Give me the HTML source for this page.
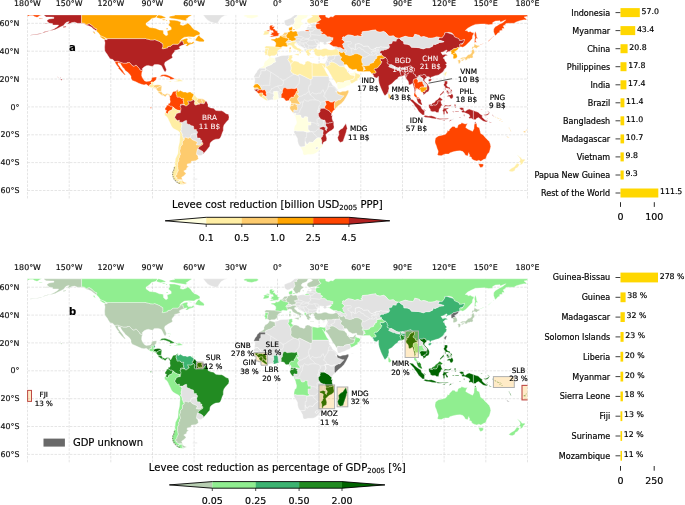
<!DOCTYPE html><html><head><meta charset="utf-8"><title>Levee cost reduction</title>
<style>html,body{margin:0;padding:0;background:#fff}svg{display:block}text{font-family:"DejaVu Sans","Liberation Sans",sans-serif}</style></head><body>
<svg width="685" height="505" viewBox="0 0 685 505">
<rect width="685" height="505" fill="#fff"/>
<defs><clipPath id="clipb"><rect x="27.5" y="278.8" width="500.0" height="183.9"/></clipPath></defs>
<g id="map-a">
<path d="M27.5,14.9V198.9M69.2,14.9V198.9M110.8,14.9V198.9M152.5,14.9V198.9M194.1,14.9V198.9M235.8,14.9V198.9M277.5,14.9V198.9M319.1,14.9V198.9M360.8,14.9V198.9M402.5,14.9V198.9M444.1,14.9V198.9M485.8,14.9V198.9M527.5,14.9V198.9M27.5,190.5H527.5M27.5,162.6H527.5M27.5,134.8H527.5M27.5,106.9H527.5M27.5,79.0H527.5M27.5,51.2H527.5M27.5,23.3H527.5" fill="none" stroke="#b4b4b4" stroke-opacity="0.55" stroke-width="0.65" stroke-dasharray="2.6,1.25"/>
<path d="M344.8,65.1 344.1,65.8 344.4,66.2 344.8,67.1 344.7,67.1 343.7,67.1 343.4,66.5 342.1,66.4 339.5,66.2 335.9,63.6 333.6,62.4 331.9,62.1 328.9,63.0 330.2,64.4 329.6,65.1 328.5,65.3 327.5,66.2 326.1,66.0 326.1,65.8 325.9,65.9 325.9,65.8 325.1,63.4 325.0,63.3 325.4,62.9 326.1,61.2 326.8,59.8 327.3,58.8 327.2,58.1 327.3,56.8 327.4,56.9 327.7,57.0 328.3,56.5 328.4,55.6 329.0,55.8 331.5,55.8 334.0,55.2 336.3,55.2 337.9,55.0 339.7,55.1 340.5,56.7 341.8,57.0 340.9,58.8 340.5,59.6 341.5,60.8 343.9,62.6 343.7,63.7 344.8,65.1ZM348.0,71.4 348.7,70.5 349.0,71.4 349.0,73.0 348.6,72.6 348.0,72.4 347.8,71.8ZM329.1,78.3 329.4,80.7 330.9,81.8 332.0,83.9 332.7,85.3 334.4,86.3 336.5,88.4 337.6,89.5 337.5,90.3 337.7,90.9 337.5,90.9 336.9,91.7 337.2,93.5 338.6,94.4 342.7,95.8 344.1,95.8 340.0,100.0 338.2,100.1 337.0,100.9 335.7,101.4 334.1,101.0 332.3,102.1 330.4,101.9 328.7,100.7 327.3,100.5 324.7,101.0 325.2,101.7 326.1,104.3 325.4,105.4 324.6,106.8 324.6,108.3 320.3,108.4 320.3,110.1 319.8,110.2 320.2,111.5 319.1,112.9 318.3,113.1 318.6,116.0 320.2,118.3 320.5,118.9 323.2,120.0 324.6,120.1 325.1,120.4 325.5,122.2 326.0,123.0 325.7,124.5 325.9,125.7 327.2,127.2 327.3,128.4 326.5,129.5 326.5,130.8 326.2,130.4 325.2,129.6 325.1,128.9 325.5,128.2 325.4,127.0 324.1,127.2 323.6,126.4 319.4,127.7 319.7,128.6 319.7,129.2 320.9,129.2 323.2,130.2 323.3,131.1 322.9,133.2 323.3,134.5 322.6,135.6 322.5,136.6 320.9,138.1 318.2,137.8 316.8,138.4 314.8,139.9 312.9,142.6 309.7,142.2 309.0,142.4 307.6,144.3 306.4,144.2 305.2,141.4 305.2,146.5 301.6,146.9 300.4,146.8 300.4,146.7 299.4,145.9 298.3,143.8 297.6,141.0 297.6,138.7 296.2,136.2 295.2,134.5 293.9,132.3 293.9,130.9 295.5,130.6 296.9,131.1 303.2,131.1 307.2,132.0 310.0,131.4 308.0,129.5 308.0,125.0 310.8,125.0 310.8,122.1 308.3,122.4 307.7,120.1 307.7,117.1 305.7,116.7 304.6,116.7 304.4,118.0 301.8,118.2 300.9,116.8 300.5,115.1 295.8,115.1 294.6,115.3 294.6,115.3 294.4,114.9 295.2,115.0 295.7,113.3 294.8,113.3 294.0,113.8 292.8,112.4 292.9,112.4 294.0,111.6 293.6,110.2 294.8,109.8 295.5,110.2 297.3,110.1 297.5,109.5 297.6,107.6 296.8,106.6 297.6,105.8 297.3,105.0 295.8,105.1 295.9,103.8 297.6,104.0 299.8,104.5 300.0,103.8 299.8,102.9 298.3,101.0 297.6,99.5 297.7,98.3 299.0,96.5 298.9,96.3 296.8,93.5 297.2,93.0 299.0,93.0 298.4,91.8 298.3,90.0 297.6,89.1 297.1,88.6 296.4,87.8 295.7,88.2 295.5,88.1 295.2,88.5 294.8,88.7 291.4,88.4 289.3,88.7 287.1,88.8 285.1,87.6 283.3,88.1 283.2,88.9 282.5,90.6 282.5,92.7 281.2,94.4 281.3,96.0 281.2,98.1 281.2,98.1 280.9,98.1 279.1,98.6 279.1,98.4 278.4,97.7 278.2,96.6 278.2,95.3 278.0,93.7 277.7,92.4 277.3,91.4 273.6,91.6 273.7,93.7 274.0,95.5 273.0,97.4 273.7,99.1 273.2,99.8 271.2,99.7 269.1,100.2 267.0,100.8 267.1,98.8 265.7,97.8 265.7,96.4 265.9,96.3 266.8,95.2 265.9,93.7 266.4,92.7 265.9,92.3 265.9,91.5 264.6,89.5 262.6,90.3 261.6,89.6 261.6,88.9 260.5,86.8 260.5,86.3 259.7,85.7 258.7,84.5 257.5,83.7 255.9,83.8 254.6,84.5 254.5,84.5 254.6,84.3 254.6,81.8 255.0,80.0 254.6,78.3 253.9,77.6 253.9,77.6 254.0,77.2 259.4,77.2 259.4,74.9 260.8,74.2 260.8,70.7 265.4,70.7 265.4,68.3 265.5,66.9 268.4,65.7 270.2,65.1 272.5,63.8 273.3,62.7 275.8,61.8 275.1,60.5 275.0,58.8 274.4,58.0 275.8,57.4 277.5,57.0 280.2,55.9 283.0,55.5 285.8,55.5 287.9,55.3 289.4,55.2 289.4,55.4 288.9,56.0 289.0,57.7 287.9,59.4 289.0,61.6 290.0,62.2 290.7,64.8 291.2,67.5 291.1,70.0 290.5,70.5 291.7,72.6 294.1,74.1 296.2,74.7 297.2,75.4 298.3,74.9 299.7,74.2 310.8,79.7 310.8,79.0 312.2,79.0 312.2,76.2 328.9,76.2ZM303.2,47.8 301.8,47.0 300.4,46.3 298.6,45.3 297.6,43.9 296.4,44.2 296.4,43.6 296.7,43.4 296.4,43.0 296.1,42.5 296.5,42.1 294.7,41.8 294.4,41.3 292.7,41.8 292.0,41.6 291.5,42.0 290.4,42.1 290.0,43.0 289.2,42.2 288.4,42.9 287.3,42.9 286.9,42.3 285.8,42.6 285.9,42.3 287.2,40.8 288.0,40.6 289.4,40.3 290.7,40.6 291.6,41.0 292.7,40.9 294.4,40.4 295.5,40.7 295.2,39.9 296.6,39.0 294.8,37.7 294.3,36.8 295.5,36.6 297.3,35.8 298.0,36.1 298.3,35.4 297.7,34.3 297.1,33.3 297.3,31.8 297.3,31.8 300.4,31.0 303.2,30.7 304.6,31.1 304.7,31.0 304.7,31.0 309.1,31.2 309.1,30.2 307.1,29.9 306.8,29.9 306.6,28.5 307.3,26.9 308.9,26.5 309.8,27.5 311.2,27.1 311.5,25.7 310.1,25.3 310.1,24.3 313.6,23.9 316.4,24.0 316.4,24.0 316.4,24.1 315.5,25.0 315.7,25.8 315.9,26.3 315.5,26.7 316.1,27.1 316.0,27.6 316.6,28.2 316.6,28.7 318.3,29.2 320.5,29.4 320.2,30.5 321.6,31.7 322.9,32.4 322.3,32.8 321.1,32.8 321.6,34.3 324.4,34.0 325.2,34.8 326.6,35.8 326.9,36.7 329.6,36.8 331.5,37.4 333.2,37.8 332.7,39.2 333.0,40.2 331.4,40.2 330.6,41.3 330.5,41.3 328.4,41.8 326.1,42.5 326.8,43.5 328.4,43.5 328.6,43.5 328.3,43.9 328.4,44.1 328.3,44.1 326.5,44.2 324.7,45.0 324.0,44.2 322.7,43.6 324.0,42.7 321.9,42.3 320.2,42.1 318.7,43.5 317.3,44.9 317.2,46.3 316.2,47.3 316.3,48.4 315.7,48.3 314.1,48.8 312.6,49.4 311.5,49.0 309.3,49.3 308.0,49.6 306.6,50.0 305.9,49.4 306.1,48.4 304.4,48.5 304.1,48.4ZM346.2,50.1 347.2,50.8 345.9,51.9 345.4,53.3 345.4,53.3 345.4,53.3 344.1,52.8 344.6,52.0 344.1,51.6 342.1,52.7 340.6,52.6 339.7,51.6 338.2,50.9 337.8,49.6 336.6,49.0 335.2,49.1 335.1,49.0 335.2,47.7 333.3,46.5 336.5,46.7 338.3,47.5 340.2,47.4 341.9,48.5 342.2,48.7 343.9,49.5 345.0,48.6 345.0,48.6ZM351.8,52.6 351.1,51.2 352.2,49.8 350.8,49.1 350.7,48.6 352.5,48.0 354.4,49.4 355.2,49.4 355.2,44.2 358.9,43.4 362.2,45.0 363.6,46.3 367.6,46.0 369.3,47.0 369.1,47.8 369.8,48.5 371.9,49.8 372.0,50.1 373.3,49.2 375.0,48.4 376.0,48.0 376.4,47.3 379.5,47.8 379.5,47.0 380.7,46.7 382.7,47.1 387.2,47.3 388.9,48.3 385.8,49.7 384.3,49.8 383.6,50.6 381.5,50.5 380.0,51.7 379.7,52.0 380.1,53.3 381.5,53.4 381.5,55.0 380.9,55.1 381.2,55.1 380.9,55.3 378.3,55.6 376.4,56.7 377.0,57.5 376.2,59.0 374.5,59.5 375.1,60.4 374.0,60.9 373.7,62.5 371.6,63.2 369.7,63.8 369.5,65.2 366.6,65.8 364.3,65.9 362.0,65.3 363.3,63.9 362.0,63.0 361.6,60.8 361.6,59.1 362.5,57.3 362.3,55.9 361.3,55.8 359.8,54.7 357.1,53.7 355.7,53.8 354.4,54.0 353.6,54.8 352.3,54.9 352.1,54.6ZM322.3,58.1 323.3,57.7 325.5,57.3 324.7,58.1 323.3,58.7ZM309.8,26.1 308.0,26.1 308.0,25.3 309.8,25.3ZM505.2,134.9 507.5,136.5 506.9,136.9 505.2,135.5ZM159.4,86.6 159.8,86.4 160.6,86.3 159.0,86.8ZM354.8,76.2 354.2,75.6 354.8,75.6ZM363.0,66.6 364.7,67.5 364.7,68.9 365.4,69.0 365.2,69.8 363.6,70.3 363.6,67.9 362.0,65.3ZM446.8,32.5 449.1,32.3 451.9,33.0 453.2,34.2 453.4,34.7ZM462.7,43.2 463.9,41.4 463.4,42.4 462.9,43.2Z" fill="#e2e2e2" stroke="#fff" stroke-width="0.35" stroke-linejoin="round"/>
<path d="M146.1,38.9 148.3,39.2 150.4,39.9 153.2,40.0 154.7,39.6 159.7,41.6 160.1,42.1 161.5,42.8 161.5,43.1 162.9,43.8 163.0,47.0 162.1,48.4 162.9,48.8 167.8,47.7 167.8,46.6 170.8,46.2 171.5,45.3 173.3,44.2 178.2,44.2 179.8,42.4 181.4,40.9 183.0,41.0 183.3,43.1 184.4,44.5 181.6,45.6 179.6,46.6 179.3,47.7 180.3,48.8 177.5,49.8 174.7,50.5 174.7,51.6 172.6,54.0 171.9,55.3 172.6,57.7 171.2,58.6 169.1,59.7 167.1,60.9 165.0,62.3 164.4,64.4 165.5,67.2 166.4,69.6 165.9,71.6 164.7,71.8 163.6,70.0 162.6,67.9 161.5,65.8 160.1,65.1 158.0,64.5 155.3,64.5 153.9,64.8 153.2,66.2 151.1,66.2 148.3,65.4 146.2,65.8 144.1,66.9 142.3,68.6 142.5,70.8 140.0,70.1 139.3,68.6 136.5,65.4 135.1,65.4 134.1,66.5 132.3,65.7 129.6,62.6 127.2,62.6 127.2,63.3 123.3,63.3 118.2,61.6 118.2,61.3 114.7,61.6 112.9,59.5 110.0,58.8 108.2,56.0 107.3,54.4 105.5,52.1 104.8,50.8 104.6,47.0 105.0,42.8 104.3,39.5 104.7,39.5 107.3,39.7 106.6,38.7 106.6,38.6 145.3,38.6 145.3,38.1ZM186.4,46.1 185.5,46.0 185.8,45.7ZM35.8,34.3 41.4,33.3 41.4,33.8 35.8,34.7 30.3,35.3 30.3,34.9ZM93.2,32.2 92.8,31.5 94.4,31.7ZM66.0,26.1 66.1,26.9 63.6,27.8 62.9,26.8ZM89.4,23.7 92.1,25.4 94.4,27.9 96.9,28.9 96.9,30.0 96.2,30.8 96.2,30.8 95.5,30.3 93.5,28.9 91.4,27.1 88.6,25.8 86.5,25.3 83.7,23.6 81.0,23.3 77.5,23.3 74.7,22.2 71.9,22.6 69.8,23.6 67.1,24.3 69.2,21.6 66.4,22.2 64.6,24.0 63.6,25.4 60.8,26.8 58.0,28.2 55.3,29.6 52.5,30.3 48.6,30.8 48.3,31.2 44.2,32.4 42.8,33.2 42.8,32.8 44.2,31.8 48.3,30.7 50.1,30.3 51.1,30.0 53.9,28.9 57.3,26.8 58.7,25.1 56.7,25.0 52.8,25.1 52.5,23.6 49.7,23.3 47.6,21.9 46.9,20.5 49.0,19.1 53.9,18.4 53.9,17.2 51.1,17.0 46.2,16.9 44.2,15.5 44.2,14.9 81.6,14.9 81.6,22.9 84.3,23.2 86.5,24.8 87.9,24.0ZM45.1,23.0 47.2,22.9 47.2,23.6 45.1,23.6ZM41.6,19.1 42.0,18.6 43.0,18.7 42.1,19.1ZM62.2,79.5 61.5,80.6 60.8,79.7 60.8,78.8ZM60.4,78.2 59.8,77.6 60.8,77.8ZM57.6,76.8 58.5,76.9 58.0,77.4Z" fill="#b22222" stroke="#fff" stroke-width="0.35" stroke-linejoin="round"/>
<path d="M106.0,39.5 103.2,38.9 99.7,36.5 101.1,36.1 103.9,37.2 105.5,38.6ZM94.4,31.7 95.5,34.2 93.7,33.1 93.2,32.2 94.4,31.7ZM146.0,23.3 146.2,25.1 149.7,27.5 155.3,28.2 159.4,29.9 163.2,30.3 163.6,33.8 165.7,35.6 167.1,35.4 167.8,34.4 167.1,31.0 171.2,29.6 171.2,27.5 168.4,25.1 169.8,22.6 169.1,20.0 174.7,20.2 177.5,20.8 180.9,21.9 180.3,24.7 183.0,25.4 186.5,24.0 187.9,22.9 190.7,25.4 192.1,27.5 194.1,29.6 196.9,30.5 199.7,32.4 200.1,34.3 198.3,35.1 196.2,35.6 194.1,37.0 188.6,36.8 184.4,37.2 182.3,38.6 180.9,39.7 179.6,41.4 181.6,40.0 184.4,38.9 186.5,38.3 188.2,38.9 187.2,40.3 187.5,41.4 188.6,42.8 191.4,42.9 193.4,41.4 194.1,42.8 192.8,43.8 189.3,44.8 187.2,46.2 186.4,46.1 185.8,45.7 187.2,43.9 185.8,44.1 184.4,44.5 183.3,43.1 183.0,41.0 181.4,40.9 179.8,42.4 178.2,44.2 173.3,44.2 171.5,45.3 170.8,46.2 167.8,46.6 167.8,47.7 162.9,48.8 162.1,48.4 163.0,47.0 162.9,43.8 161.5,43.1 161.5,42.8 160.1,42.1 159.7,41.6 154.7,39.6 153.2,40.0 150.4,39.9 148.3,39.2 146.1,38.9 145.3,38.1 145.3,38.6 106.6,38.6 106.6,38.7 106.4,38.3 103.9,37.2 100.4,35.8 99.0,33.5 96.6,31.2 96.2,30.8 96.2,30.8 96.9,30.0 96.9,28.9 94.4,27.9 92.1,25.4 89.4,23.7 87.9,24.0 86.5,24.8 84.3,23.2 81.6,22.9 81.6,14.9 157.1,14.9 157.3,15.6 156.6,16.3 155.3,17.7 151.8,18.4 149.7,20.5ZM162.9,20.2 162.2,19.3 164.3,19.3 165.7,20.1ZM156.6,16.3 158.7,14.9 161.5,15.5 165.0,17.0 165.9,18.1 162.9,18.3 160.8,18.8 158.0,18.1 156.6,17.7ZM190.7,42.8 188.6,42.4 188.2,41.8 191.4,42.3ZM195.3,40.6 195.5,39.3 197.6,36.5 199.0,35.1 200.4,37.2 203.2,38.9 204.3,40.4 203.9,41.8 199.7,41.7ZM191.4,38.1 191.8,38.5 188.9,38.2 188.0,37.5ZM167.8,29.2 166.4,29.2 166.4,28.0 167.8,28.0ZM165.9,21.1 165.9,20.2 167.1,20.2 167.1,21.1ZM191.4,14.9 191.4,15.5 188.6,17.0 187.2,18.4 185.8,19.1 187.5,19.8 185.8,20.7 183.0,20.2 178.9,19.5 176.1,19.1 171.9,18.4 169.1,17.7 169.8,16.3 174.7,15.6 173.8,14.9Z" fill="#ffa500" stroke="#fff" stroke-width="0.35" stroke-linejoin="round"/>
<path d="M141.8,72.8 141.6,75.6 142.3,77.6 143.5,79.3 144.4,80.7 146.2,81.5 148.3,81.3 150.4,81.0 151.5,79.7 151.9,77.6 153.9,77.2 156.4,76.9 156.6,77.6 156.0,79.7 154.8,81.1 153.7,82.1 151.1,82.1 151.1,82.9 151.9,84.0 151.9,84.5 150.0,84.5 149.4,85.7 149.4,86.6 149.3,86.6 146.2,84.3 144.1,84.9 141.4,84.3 138.6,83.2 135.8,81.8 132.3,80.4 131.0,78.3 131.0,76.2 129.6,74.2 127.5,72.1 125.4,70.7 124.0,68.6 122.6,67.2 121.2,65.1 120.5,63.4 118.0,62.7 118.2,64.4 119.8,66.5 120.8,68.2 122.6,70.3 124.0,72.8 125.5,74.4 124.7,75.0 123.0,73.3 121.6,72.1 119.8,69.8 118.0,68.3 118.9,67.9 117.1,65.8 115.7,63.7 114.7,61.6 118.2,61.3 118.2,61.6 123.3,63.3 127.2,63.3 127.2,62.6 129.6,62.6 132.3,65.7 134.1,66.5 135.1,65.4 136.5,65.4 139.3,68.6 140.0,70.1 142.5,70.8Z" fill="#ff4500" stroke="#fff" stroke-width="0.35" stroke-linejoin="round"/>
<path d="M205.3,17.7 203.2,14.9 227.7,14.9 224.7,15.6 221.2,17.7 219.1,20.5 217.8,23.0 215.0,23.3 210.8,21.9 208.0,20.5Z" fill="#e2e2e2" stroke="#fff" stroke-width="0.35" stroke-linejoin="round"/>
<path d="M153.6,84.7 154.0,84.7 154.8,85.0 154.9,85.0 153.6,86.1 153.4,86.8 152.4,87.7 152.3,87.7 150.4,87.4 149.4,86.6 149.4,85.7 150.0,84.5 151.9,84.5 151.9,84.0 151.1,82.9 151.1,82.1 153.7,82.1Z" fill="#ffeea4" stroke="#fff" stroke-width="0.35" stroke-linejoin="round"/>
<path d="M155.1,82.5 154.0,84.7 153.6,84.7 153.7,82.1 154.8,81.1Z" fill="#ffffe0" stroke="#fff" stroke-width="0.35" stroke-linejoin="round"/>
<path d="M154.6,87.4 155.6,87.5 155.6,88.6 155.5,88.5 153.9,88.4 152.4,87.7 152.4,87.7 153.4,86.8 153.4,86.8Z" fill="#ffeea4" stroke="#fff" stroke-width="0.35" stroke-linejoin="round"/>
<path d="M158.0,84.7 160.1,84.9 161.9,86.0 161.9,86.0 159.8,86.4 159.4,86.6 158.0,87.4 156.9,87.7 157.1,88.4 156.2,88.9 155.8,88.9 155.5,88.5 155.6,88.6 155.6,87.5 154.6,87.4 153.4,86.8 153.4,86.8 153.6,86.1 154.9,85.0 154.8,85.0Z" fill="#fdcb6e" stroke="#fff" stroke-width="0.35" stroke-linejoin="round"/>
<path d="M161.5,88.8 161.2,91.6 161.3,91.7 161.3,91.7 159.8,91.5 159.6,91.6 158.4,91.5 158.1,91.6 157.3,90.5 156.0,89.1 155.8,88.9 156.2,88.9 157.1,88.4 156.9,87.7 158.0,87.4 159.0,86.8 160.6,86.3 161.9,86.0 161.9,86.0Z" fill="#fdcb6e" stroke="#fff" stroke-width="0.35" stroke-linejoin="round"/>
<path d="M162.8,93.5 162.8,93.6 162.8,93.6 162.3,94.2 162.3,95.4 162.3,95.6 161.2,94.9 159.8,93.5 158.4,93.1 158.3,91.9 158.1,91.6 158.4,91.5 159.6,91.6 159.8,91.5 161.3,91.7 161.3,91.7 161.2,91.6Z" fill="#fdcb6e" stroke="#fff" stroke-width="0.35" stroke-linejoin="round"/>
<path d="M165.0,94.6 166.9,93.5 169.1,93.9 170.0,94.8 170.3,95.9 169.8,96.3 168.9,95.8 168.4,94.4 166.8,94.8 165.7,96.7 164.3,96.3 163.6,95.5 162.3,95.6 162.3,95.6 162.3,95.4 162.3,94.2 162.8,93.6 162.8,93.6 162.8,93.5Z" fill="#fdcb6e" stroke="#fff" stroke-width="0.35" stroke-linejoin="round"/>
<path d="M165.7,76.7 163.6,76.1 161.5,76.4 159.6,76.5 161.9,74.7 165.0,74.4 167.3,75.1 170.1,76.2 172.6,77.5 174.6,78.6 173.3,79.3 169.6,79.5 170.0,78.3 168.3,77.6Z" fill="#ff4500" stroke="#fff" stroke-width="0.35" stroke-linejoin="round"/>
<path d="M176.8,81.5 174.1,81.3 174.1,81.0 176.8,81.0 176.8,80.4 175.7,79.5 176.4,79.2 177.8,79.3 177.8,81.7 177.8,81.7Z" fill="#ffeea4" stroke="#fff" stroke-width="0.35" stroke-linejoin="round"/>
<path d="M177.9,79.3 180.3,79.3 180.9,80.0 182.5,80.6 182.3,81.4 180.3,81.3 178.9,81.5 177.8,81.7 177.8,79.3Z" fill="#ffeea4" stroke="#fff" stroke-width="0.35" stroke-linejoin="round"/>
<path d="M168.7,81.4 168.7,81.3 170.5,81.1 171.6,81.8 170.5,82.1Z" fill="#ffeea4" stroke="#fff" stroke-width="0.35" stroke-linejoin="round"/>
<path d="M169.4,71.9 169.7,73.2 169.1,73.2 168.7,72.1ZM170.0,70.4 169.8,69.4 170.5,70.0 170.5,70.7ZM167.8,70.0 167.8,69.7 169.4,69.7 169.4,70.0Z" fill="#ffffe0" stroke="#fff" stroke-width="0.35" stroke-linejoin="round"/>
<path d="M191.8,92.0 192.9,91.9 192.8,92.8 191.5,92.8Z" fill="#ffeea4" stroke="#fff" stroke-width="0.35" stroke-linejoin="round"/>
<path d="M170.0,94.8 170.1,94.9 170.8,95.8 171.9,93.9 172.6,92.3 173.6,91.4 175.7,91.2 177.2,89.9 177.9,89.6 178.3,90.4 177.5,90.7 176.8,91.4 176.1,93.0 176.2,94.2 176.9,95.2 176.9,96.6 177.5,97.1 179.3,97.0 180.3,97.2 181.1,98.4 183.8,98.3 183.3,99.5 183.2,100.6 184.0,102.2 183.3,103.0 184.1,103.7 184.6,105.2 184.3,104.5 183.2,104.5 182.8,104.1 180.5,104.5 180.5,105.4 181.4,105.5 181.0,105.9 180.2,106.1 180.2,107.1 180.8,107.6 181.1,108.4 180.3,112.8 179.3,112.2 180.1,110.7 177.5,110.2 175.8,109.4 174.3,108.2 173.0,107.0 172.5,106.8 171.5,106.3 170.0,106.3 169.6,105.8 168.6,105.2 168.0,104.9 168.4,103.4 169.8,103.3 170.3,101.5 169.8,99.2 170.1,97.4 169.3,96.9 169.8,96.3 169.8,96.3 170.3,95.9Z" fill="#ff4500" stroke="#fff" stroke-width="0.35" stroke-linejoin="round"/>
<path d="M169.4,111.0 168.7,111.6 168.2,113.3 167.8,113.9 167.1,113.8 165.7,113.0 165.9,111.6 166.6,110.4 165.1,110.0 165.1,108.3 166.4,106.8 166.4,105.8 168.0,104.9 168.0,104.9 168.6,105.2 169.6,105.8 170.0,106.3 171.5,106.3 172.5,106.8 173.0,107.0 172.5,109.1 171.1,110.5ZM151.4,107.3 151.4,108.3 150.3,108.3 150.3,107.3Z" fill="#ff4500" stroke="#fff" stroke-width="0.35" stroke-linejoin="round"/>
<path d="M177.5,113.3 176.2,114.1 175.8,115.4 175.1,116.5 174.7,117.2 175.1,117.9 176.1,119.4 177.1,120.3 177.2,120.8 179.4,120.1 179.4,122.2 180.8,122.2 182.1,124.3 181.8,124.9 181.6,126.8 181.2,127.8 181.1,128.6 181.6,129.5 180.8,131.0 180.9,131.3 179.7,132.5 179.7,132.4 178.3,131.1 175.4,129.6 173.0,128.2 171.4,126.1 170.3,123.6 168.9,120.8 167.8,118.3 166.5,116.5 164.7,115.3 164.6,113.3 165.9,111.6 165.7,113.0 167.1,113.8 167.8,113.9 168.2,113.3 168.7,111.6 169.4,111.0 171.1,110.5 172.5,109.1 173.0,107.0 174.3,108.2 175.8,109.4 177.5,110.2 180.1,110.7 179.3,112.2 180.3,112.8 179.1,112.8Z" fill="#ffeea4" stroke="#fff" stroke-width="0.35" stroke-linejoin="round"/>
<path d="M182.8,104.1 183.2,104.5 184.3,104.5 184.6,105.2 181.3,104.4ZM192.5,98.4 192.2,98.7 193.2,99.7 192.1,100.8 190.4,101.3 188.6,101.2 187.6,101.0 188.3,101.9 188.6,103.4 189.4,103.7 188.6,104.3 186.5,105.9 185.4,105.9 184.6,105.2 184.1,103.7 183.3,103.0 184.0,102.2 183.2,100.6 183.3,99.5 183.8,98.3 181.1,98.4 180.3,97.2 179.3,97.0 177.5,97.1 176.9,96.6 176.9,95.2 176.2,94.2 176.1,93.0 176.8,91.4 177.5,90.7 178.3,90.4 177.9,89.6 178.3,90.5 178.0,91.7 178.4,91.6 179.8,90.9 180.3,89.9 180.9,90.9 182.5,91.3 182.8,92.1 185.5,92.1 187.3,92.8 188.2,92.5 188.9,92.1 190.5,92.1 191.4,92.0 191.4,92.2 191.5,92.0 190.9,93.0 191.9,93.1 193.0,93.8 194.1,95.1 193.2,96.3 193.7,97.0 192.6,97.6Z" fill="#ffa500" stroke="#fff" stroke-width="0.35" stroke-linejoin="round"/>
<path d="M195.5,95.8 196.2,97.1 198.0,98.5 198.1,98.5 198.1,98.6 197.9,99.5 197.1,100.2 196.9,101.3 197.5,102.2 197.9,102.3 199.0,104.2 197.6,104.5 195.8,105.2 194.6,104.5 194.2,103.1 194.8,101.5 194.5,100.8 194.0,100.6 193.9,99.7 193.2,99.7 192.2,98.7 192.5,98.4 192.6,97.6 193.7,97.0 193.2,96.3 194.1,95.1Z" fill="#ffeea4" stroke="#fff" stroke-width="0.35" stroke-linejoin="round"/>
<path d="M201.9,101.0 202.5,101.9 202.2,102.9 201.6,103.6 200.9,103.3 199.8,103.4 199.7,104.3 199.0,104.2 197.9,102.3 197.5,102.2 196.9,101.3 197.1,100.2 197.9,99.5 198.1,98.6 198.1,98.5 199.8,98.7 202.5,98.8 201.8,99.9Z" fill="#fdcb6e" stroke="#fff" stroke-width="0.35" stroke-linejoin="round"/>
<path d="M204.4,103.4 203.9,103.8 202.8,103.7 201.6,103.6 202.2,102.9 202.5,101.9 201.9,101.0 201.8,99.9 202.5,98.8 204.0,99.5 205.7,101.0 205.7,101.1 205.4,101.6 204.7,102.6Z" fill="#fdcb6e" stroke="#fff" stroke-width="0.35" stroke-linejoin="round"/>
<path d="M182.6,122.2 185.0,120.7 186.6,120.4 186.8,121.9 186.7,123.2 188.0,124.2 189.8,124.5 190.3,125.0 191.6,125.7 193.4,126.1 193.8,127.9 193.9,129.5 196.4,129.6 196.4,130.9 197.3,131.4 197.6,132.3 197.2,133.4 196.7,134.5 196.7,135.0 195.4,133.8 194.1,133.8 191.7,134.3 191.0,135.5 190.5,137.9 190.3,137.6 188.7,137.6 188.2,138.7 187.3,137.7 186.9,137.7 185.5,137.3 184.1,138.7 183.2,138.7 182.8,136.9 182.0,135.3 182.4,133.9 181.6,133.4 181.5,132.3 180.9,131.3 180.8,131.0 181.6,129.5 181.1,128.6 181.2,127.8 181.6,126.8 181.8,124.9 182.1,124.3 180.8,122.2 181.9,122.2Z" fill="#e2e2e2" stroke="#fff" stroke-width="0.35" stroke-linejoin="round"/>
<path d="M191.7,134.3 194.1,133.8 195.4,133.8 196.7,135.0 197.1,135.9 197.0,137.7 198.4,137.9 199.9,138.0 200.3,138.5 200.5,140.3 201.6,140.1 202.1,140.4 201.6,142.5 201.4,144.0 199.8,145.0 199.1,145.3 197.9,145.1 196.1,144.9 197.4,142.2 196.2,141.5 194.8,140.8 193.4,140.3 192.3,139.8 190.5,137.9 191.0,135.5Z" fill="#e2e2e2" stroke="#fff" stroke-width="0.35" stroke-linejoin="round"/>
<path d="M199.7,149.8 200.3,149.9 201.6,150.7 202.9,151.6 203.6,152.5 203.2,153.0 203.3,153.9 201.2,155.5 199.3,155.5 196.5,154.3 196.8,154.7 196.3,154.3 196.6,152.9 196.8,151.5 197.1,150.1 197.5,149.0 198.6,148.8Z" fill="#e2e2e2" stroke="#fff" stroke-width="0.35" stroke-linejoin="round"/>
<path d="M180.9,184.4 178.2,183.5 176.1,182.4 178.6,182.0 179.6,180.5 182.2,180.3 182.2,183.4 184.9,183.8 183.7,184.4ZM182.0,135.3 182.8,136.9 183.2,138.7 184.1,138.7 184.4,138.9 184.0,140.3 182.6,141.0 182.3,142.0 182.6,144.4 181.5,145.6 180.7,146.5 180.3,147.7 180.4,149.1 179.6,150.4 179.8,151.5 180.3,153.3 180.5,154.6 179.6,155.9 179.7,157.3 178.7,158.2 178.7,159.8 179.0,160.8 178.0,162.1 177.6,163.6 177.8,165.4 177.3,166.1 177.9,167.6 178.0,168.9 178.4,170.3 177.8,171.8 177.1,172.8 176.9,174.5 175.8,175.6 175.9,177.5 177.1,177.5 177.1,178.8 177.6,179.4 180.3,179.4 182.1,179.8 180.9,179.8 179.0,180.6 178.2,182.0 174.7,180.2 173.0,178.0 172.3,174.8 172.5,172.0 173.9,169.6 174.0,167.6 174.1,165.8 175.8,165.4 174.7,164.7 175.1,161.9 175.4,158.7 176.5,156.4 177.9,153.6 178.2,150.1 178.3,147.3 179.0,144.5 179.6,141.7 179.8,138.2 180.1,134.8 179.7,132.4 179.7,132.5 180.9,131.3 181.5,132.3 181.6,133.4 182.4,133.9Z" fill="#ffeea4" stroke="#fff" stroke-width="0.35" stroke-linejoin="round"/>
<path d="M183.7,181.9 186.9,183.1 185.1,183.7 184.9,183.8 182.2,183.4 182.2,180.3 182.8,180.6ZM202.9,144.4 202.1,145.1 201.0,145.7 200.0,146.3 199.1,147.3 197.9,148.4 197.5,149.0 197.1,150.1 196.8,151.5 196.6,152.9 196.3,154.3 196.8,154.7 198.0,156.1 197.9,157.5 198.7,158.2 197.3,159.8 195.5,160.8 191.4,161.2 190.9,163.3 187.2,164.0 187.2,166.1 189.0,166.4 186.8,167.8 186.5,169.6 183.7,171.0 185.1,172.4 186.1,173.6 183.7,175.9 181.6,177.3 182.5,179.8 182.1,179.8 180.3,179.4 177.6,179.4 177.1,178.8 177.1,177.5 175.9,177.5 175.8,175.6 176.9,174.5 177.1,172.8 177.8,171.8 178.4,170.3 178.0,168.9 177.9,167.6 177.3,166.1 177.8,165.4 177.6,163.6 178.0,162.1 179.0,160.8 178.7,159.8 178.7,158.2 179.7,157.3 179.6,155.9 180.5,154.6 180.3,153.3 179.8,151.5 179.6,150.4 180.4,149.1 180.3,147.7 180.7,146.5 181.5,145.6 182.6,144.4 182.3,142.0 182.6,141.0 184.0,140.3 184.4,138.9 184.1,138.7 185.5,137.3 186.9,137.7 187.3,137.7 188.2,138.7 188.7,137.6 190.3,137.6 190.5,137.9 192.3,139.8 193.4,140.3 194.8,140.8 196.2,141.5 197.4,142.2 196.1,144.9 197.9,145.1 199.1,145.3 199.8,145.0 201.4,144.0 201.6,142.5 202.7,142.6 203.0,143.5Z" fill="#fdcb6e" stroke="#fff" stroke-width="0.35" stroke-linejoin="round"/>
<path d="M192.8,179.6 192.8,178.5 197.2,178.5 197.2,179.6Z" fill="#e2e2e2" stroke="#fff" stroke-width="0.35" stroke-linejoin="round"/>
<path d="M206.6,101.5 208.0,104.4 208.0,106.6 210.8,107.9 213.6,108.3 215.7,110.4 219.1,110.8 221.9,110.8 224.0,112.1 226.1,113.7 228.4,114.3 229.1,117.1 228.6,119.7 226.8,121.5 225.4,123.2 224.0,125.0 223.3,127.5 223.3,130.6 222.3,132.7 221.5,135.2 220.5,137.6 219.1,138.9 215.7,139.2 213.2,140.3 210.8,142.2 210.0,143.8 209.8,146.3 208.0,148.4 206.4,150.4 204.8,152.2 203.3,153.9 203.3,153.9 203.2,153.0 203.6,152.5 202.9,151.6 201.6,150.7 200.3,149.9 199.7,149.8 198.6,148.8 197.5,149.0 197.9,148.4 199.1,147.3 200.0,146.3 201.0,145.7 202.1,145.1 202.9,144.4 203.0,143.5 202.7,142.6 201.6,142.5 202.1,140.4 201.6,140.1 200.5,140.3 200.3,138.5 199.9,138.0 198.4,137.9 197.0,137.7 197.1,135.9 196.7,135.0 196.7,134.5 197.2,133.4 197.6,132.3 197.3,131.4 196.4,130.9 196.4,129.6 193.9,129.5 193.8,127.9 193.4,126.1 191.6,125.7 190.3,125.0 189.8,124.5 188.0,124.2 186.7,123.2 186.8,121.9 186.6,120.4 185.0,120.7 182.6,122.2 181.9,122.2 180.8,122.2 179.4,122.2 179.4,120.1 177.2,120.8 177.1,120.3 176.1,119.4 175.1,117.9 174.7,117.2 175.1,116.5 175.8,115.4 176.2,114.1 177.5,113.3 179.1,112.8 180.3,112.8 181.1,108.4 180.8,107.6 180.2,107.1 180.2,106.5 180.2,106.5 180.2,106.1 181.0,105.9 181.4,105.5 180.5,105.4 180.5,104.5 181.3,104.4 184.6,105.2 185.4,105.9 186.5,105.9 188.6,104.3 189.4,103.7 188.6,103.4 188.3,101.9 187.6,101.0 188.6,101.2 190.4,101.3 192.1,100.8 193.2,99.7 193.9,99.7 194.0,100.6 194.5,100.8 194.8,101.5 194.2,103.1 194.6,104.5 195.8,105.2 197.6,104.5 199.0,104.2 199.7,104.3 199.8,103.4 200.9,103.3 201.4,103.5 201.4,103.6 201.6,103.6 202.8,103.7 203.9,103.8 204.4,103.4 204.7,102.6 205.4,101.6 205.7,101.1Z" fill="#b22222" stroke="#fff" stroke-width="0.35" stroke-linejoin="round"/>
<path d="M243.7,15.6 245.7,14.9 257.2,14.9 258.6,16.2 256.6,17.3 251.8,18.6 248.3,18.0 245.9,17.7 246.9,17.0 244.1,16.5Z" fill="#ffffe0" stroke="#fff" stroke-width="0.35" stroke-linejoin="round"/>
<path d="M267.5,29.9 269.1,30.0 269.8,31.1 268.7,31.5 268.7,31.5 268.3,31.6 267.1,31.5 266.2,31.0 266.5,30.7 267.3,30.3ZM269.6,29.4 269.1,29.3 269.8,28.2 269.4,26.8 270.5,25.3 273.3,25.3 271.9,26.5 274.7,26.6 273.3,28.9 274.7,28.9 275.4,30.3 277.2,31.0 277.5,32.2 277.9,33.1 279.8,33.5 278.2,35.1 279.4,35.6 276.1,36.3 272.6,36.8 269.6,37.1 271.5,35.7 272.6,35.6 273.3,35.3 270.2,34.7 271.6,33.8 271.2,32.6 273.3,32.6 273.3,31.8 272.6,30.5 270.5,30.5 270.8,29.9 270.5,29.8Z" fill="#ff4500" stroke="#fff" stroke-width="0.35" stroke-linejoin="round"/>
<path d="M269.1,30.0 267.5,29.9 267.3,30.3 266.5,30.7 266.2,31.0 267.1,31.5 268.3,31.6 268.7,31.5 269.1,32.6 268.7,34.2 266.4,34.7 263.6,35.0 263.2,34.2 264.3,32.8 263.6,31.4 265.7,31.1 265.9,30.1 267.3,29.9Z" fill="#ffeea4" stroke="#fff" stroke-width="0.35" stroke-linejoin="round"/>
<path d="M287.2,26.1 285.1,24.7 284.4,23.3 284.4,20.5 287.2,19.4 290.7,18.1 292.7,16.6 294.8,14.9 297.7,14.9 297.6,15.9 296.4,16.9 297.1,17.1 296.8,17.7 295.1,17.7 294.1,18.7 294.6,20.2 294.3,20.9 295.4,21.4 294.4,21.9 294.8,23.0 293.6,23.9 293.4,24.8 292.9,25.0 292.7,24.7 291.8,24.4 289.4,25.7 288.7,25.9Z" fill="#e2e2e2" stroke="#fff" stroke-width="0.35" stroke-linejoin="round"/>
<path d="M294.8,28.9 294.8,30.0 293.0,30.0 292.7,29.3ZM288.7,29.4 288.9,27.8 290.7,27.2 292.1,26.6 292.5,28.2 292.1,29.6 292.0,29.7 292.5,29.7 292.2,30.3 291.5,30.2 291.2,30.5 291.2,30.5 289.4,30.5 289.4,30.4Z" fill="#ffa500" stroke="#fff" stroke-width="0.35" stroke-linejoin="round"/>
<path d="M318.6,14.9 319.1,15.4 318.7,16.6 319.8,17.5 319.1,18.1 321.2,19.3 319.1,20.8 317.5,21.8 316.1,22.5 315.9,22.6 312.2,23.0 309.1,23.4 307.2,21.9 307.1,19.8 308.7,18.7 311.5,17.3 312.7,16.3 311.0,15.3 311.0,15.3 311.0,14.9Z" fill="#ffeea4" stroke="#fff" stroke-width="0.35" stroke-linejoin="round"/>
<path d="M303.4,27.5 302.7,27.2 302.7,26.2 303.9,26.4ZM306.4,17.9 304.6,18.6 302.5,19.4 301.4,20.5 301.5,22.2 303.2,22.9 303.6,23.9 301.4,25.1 300.7,26.2 300.5,27.1 299.7,28.6 298.0,28.7 297.3,29.6 295.5,29.7 295.1,28.6 294.6,27.8 293.2,25.7 292.9,25.0 293.4,24.8 293.6,23.9 294.8,23.0 294.4,21.9 295.4,21.4 294.3,20.9 294.6,20.2 294.1,18.7 295.1,17.7 296.8,17.7 297.1,17.1 296.4,16.9 297.6,15.9 297.7,14.9 311.0,14.9 311.0,15.3 311.0,15.3 311.0,15.3 311.0,15.3 310.8,15.2 308.4,15.2 307.5,15.9 307.3,16.9Z" fill="#ffffe0" stroke="#fff" stroke-width="0.35" stroke-linejoin="round"/>
<path d="M297.1,33.3 297.7,34.3 298.3,35.4 298.0,36.1 297.3,35.8 295.5,36.6 294.3,36.8 294.8,37.7 296.6,39.0 295.2,39.9 295.5,40.7 294.4,40.4 292.7,40.9 291.6,41.0 290.7,40.6 289.4,40.3 288.0,40.6 288.9,38.7 286.3,38.0 286.5,37.5 285.9,37.1 286.4,36.8 285.8,36.2 286.1,35.3 285.7,34.7 286.8,34.6 287.3,33.6 287.5,32.6 287.2,32.4 289.8,31.8 289.4,30.5 291.2,30.5 291.2,30.5 291.2,30.5 292.5,31.1 292.7,31.7 295.5,31.1 297.2,31.8 297.3,31.8 297.3,31.8Z" fill="#ffa500" stroke="#fff" stroke-width="0.35" stroke-linejoin="round"/>
<path d="M286.8,34.6 285.7,34.7 286.1,35.3 285.8,36.2 285.4,36.2 285.5,35.6 284.4,35.2 283.4,35.4 282.2,35.4 282.1,35.3 282.2,35.3 283.0,34.4 284.0,33.2 284.4,32.5 287.2,32.4 287.5,32.6 287.3,33.6Z" fill="#fdcb6e" stroke="#fff" stroke-width="0.35" stroke-linejoin="round"/>
<path d="M284.4,35.2 285.5,35.6 285.4,36.2 285.8,36.2 286.4,36.8 285.9,37.1 286.5,37.5 286.3,38.0 285.5,37.9 285.1,37.9 284.2,37.0 283.3,37.3 281.9,36.5 281.4,36.2 281.0,35.7 281.0,35.7 282.0,35.3 282.2,35.4 283.4,35.4Z" fill="#fdcb6e" stroke="#fff" stroke-width="0.35" stroke-linejoin="round"/>
<path d="M290.7,47.0 290.7,49.1 289.4,49.2 289.6,47.7ZM285.5,37.9 286.3,38.0 288.9,38.7 288.0,40.6 287.2,40.8 285.9,42.3 285.8,42.6 286.9,42.3 287.3,42.9 286.7,44.1 287.2,44.6 287.1,45.1 288.2,45.4 288.0,45.8 287.9,45.9 286.6,46.8 284.7,46.6 283.3,46.3 281.8,46.8 281.9,47.8 279.9,47.7 279.5,47.5 278.4,47.3 276.5,47.1 275.5,46.9 275.0,46.5 274.9,46.4 275.0,46.4 275.8,44.8 275.8,42.8 274.0,41.0 271.5,40.3 270.9,39.3 275.2,39.0 275.8,37.7 277.5,38.1 279.6,37.2 279.7,36.1 280.9,35.7 281.0,35.7 281.4,36.2 281.9,36.5 283.3,37.3 284.2,37.0 285.1,37.9Z" fill="#ffa500" stroke="#fff" stroke-width="0.35" stroke-linejoin="round"/>
<path d="M266.2,48.7 268.3,48.5 268.9,48.9 267.9,49.8 268.0,50.8 267.7,51.6 267.1,51.7 267.7,52.6 267.3,53.4 267.7,53.7 267.1,54.7 267.2,55.1 265.1,55.3 265.2,53.3 264.3,52.8 265.1,50.9 265.2,48.5 266.1,48.2Z" fill="#ffeea4" stroke="#fff" stroke-width="0.35" stroke-linejoin="round"/>
<path d="M281.9,51.3 282.2,51.9 281.4,52.1 280.8,51.7ZM278.7,49.8 277.1,51.9 277.7,52.8 276.5,54.5 274.4,55.8 271.2,55.8 269.8,56.7 269.6,56.7 268.7,55.9 267.2,55.1 267.1,54.7 267.7,53.7 267.3,53.4 267.7,52.6 267.1,51.7 267.7,51.6 268.0,50.8 267.9,49.8 268.9,48.9 268.3,48.5 266.2,48.7 266.1,48.2 265.2,48.5 265.2,48.5 264.6,47.0 266.4,46.0 271.9,46.3 275.0,46.4 274.9,46.4 275.0,46.5 275.5,46.9 276.5,47.1 278.4,47.3 279.5,47.5 279.9,47.7 281.9,47.8 281.8,46.8 281.9,48.4Z" fill="#ffeea4" stroke="#fff" stroke-width="0.35" stroke-linejoin="round"/>
<path d="M291.4,54.9 292.7,55.3 292.5,55.7 291.3,54.9ZM294.8,54.5 294.7,54.0 299.1,53.7 298.6,55.8ZM289.1,52.6 288.9,49.8 290.8,49.8 290.8,52.3ZM292.7,41.8 294.4,41.3 294.7,41.8 296.5,42.1 296.1,42.5 296.4,43.0 296.7,43.4 296.4,43.6 296.5,43.2 294.7,43.6 294.6,45.2 296.2,46.2 297.2,47.7 299.7,48.5 303.0,50.8 303.0,51.3 301.1,50.5 300.4,51.6 301.2,52.6 300.4,53.5 299.3,54.0 299.7,52.8 299.1,51.2 296.9,50.1 294.8,49.2 292.7,47.8 291.6,45.7 289.7,45.0 287.9,45.9 288.0,45.8 288.2,45.4 287.1,45.1 287.2,44.6 286.7,44.1 287.3,42.9 288.4,42.9 289.2,42.2 290.0,43.0 290.4,42.1 291.5,42.0 292.0,41.6Z" fill="#ffeea4" stroke="#fff" stroke-width="0.35" stroke-linejoin="round"/>
<path d="M306.1,48.4 305.9,49.4 306.6,50.0 305.9,51.0 305.7,51.4 305.3,51.6 305.2,51.6 304.4,50.6 304.4,48.7 304.1,48.4 304.4,48.5Z" fill="#e2e2e2" stroke="#fff" stroke-width="0.35" stroke-linejoin="round"/>
<path d="M314.0,57.7 313.9,58.1 310.2,57.9 310.1,57.4ZM308.0,49.6 309.3,49.3 311.5,49.0 312.6,49.4 314.1,48.8 314.4,49.3 313.6,50.1 313.6,50.2 313.6,50.1 311.5,49.9 311.1,50.5 310.5,51.3 309.8,50.9 308.9,50.6 309.1,51.9 309.8,52.8 310.8,53.7 310.8,54.4 310.1,54.7 309.1,54.8 309.6,56.0 308.6,56.0 307.6,55.6 306.8,54.5 306.9,53.5 306.2,52.8 305.3,51.6 305.7,51.4 305.9,51.0 306.6,50.0Z" fill="#ffeea4" stroke="#fff" stroke-width="0.35" stroke-linejoin="round"/>
<path d="M314.1,48.8 315.7,48.3 316.3,48.4 316.4,48.5 317.7,49.5 321.2,49.4 324.0,48.4 326.1,48.4 328.2,49.4 330.9,49.9 333.0,49.8 335.1,49.1 335.1,49.0 335.2,49.1 336.6,49.0 337.8,49.6 338.2,50.9 339.7,51.6 339.1,52.0 338.6,52.1 339.3,53.5 339.0,54.1 339.7,55.1 337.9,55.0 336.3,55.2 334.0,55.2 331.5,55.8 329.0,55.8 328.4,55.6 328.3,56.5 327.7,57.0 327.4,56.9 327.3,56.8 327.3,56.7 327.5,55.8 325.8,55.6 324.7,56.3 323.0,56.7 321.9,56.0 320.1,55.5 319.8,56.3 318.0,56.3 316.6,55.8 315.5,55.3 315.2,54.7 314.3,53.3 314.7,52.6 313.9,51.9 313.9,51.0 313.7,50.4 313.6,50.1 314.4,49.3Z" fill="#ffeea4" stroke="#fff" stroke-width="0.35" stroke-linejoin="round"/>
<path d="M309.1,31.2 304.7,31.0 304.7,31.0 305.2,30.4 306.8,29.9 307.1,29.9 309.1,30.2ZM480.2,45.0 480.0,44.8 483.4,43.4 483.7,43.5ZM494.1,36.3 492.7,37.2 488.6,41.4 488.3,41.1 493.8,36.1ZM476.8,37.2 478.2,38.6 476.3,38.3 475.5,40.3 476.8,42.7 475.7,42.0 474.7,42.8 474.5,41.4 474.7,39.3 475.0,37.2 474.4,35.1 474.7,33.1 475.4,31.2 476.1,33.1 476.5,35.1ZM519.8,20.8 516.3,21.9 514.0,23.3 508.3,23.3 505.9,23.6 505.0,24.7 505.9,24.8 505.2,25.4 504.8,24.9 504.5,25.3 502.9,26.1 503.8,26.8 504.3,28.6 502.0,28.6 502.5,30.3 499.7,30.7 499.7,32.4 497.7,33.1 497.3,34.0 495.1,35.8 493.6,31.7 493.7,28.9 495.2,26.8 497.6,25.4 499.7,24.0 502.3,22.9 504.5,21.2 505.9,19.8 502.5,21.2 500.4,22.2 500.0,20.8 495.5,21.1 492.7,22.6 492.7,24.3 488.6,24.7 484.4,23.9 480.2,24.1 475.4,24.4 471.6,26.1 467.7,28.2 465.2,30.5 467.5,30.8 468.0,31.9 470.5,31.4 471.9,32.4 473.8,32.8 473.7,34.0 472.6,35.8 472.3,38.6 469.8,41.4 467.7,43.5 465.7,45.6 462.9,47.3 460.8,46.7 458.8,47.8 458.8,47.5 459.8,46.3 459.5,44.5 460.7,43.8 462.3,44.1 463.4,42.4 464.1,40.9 464.5,39.5 461.5,40.4 459.4,40.4 459.0,38.8 457.3,38.1 454.5,36.9 453.2,34.2 451.9,33.0 449.1,32.3 446.2,32.6 445.4,32.6 444.3,33.3 445.1,33.6 444.3,34.9 443.2,36.4 442.9,37.2 441.2,37.9 439.5,37.4 436.5,36.9 434.4,37.8 430.9,38.3 428.2,38.1 426.1,37.2 423.8,36.6 421.5,37.0 419.4,36.4 419.4,35.4 414.8,34.3 414.0,36.5 412.6,37.6 408.9,37.2 405.2,36.3 402.0,37.4 399.4,38.3 398.7,38.3 395.8,37.8 393.3,35.8 390.7,36.2 388.7,36.1 385.7,32.6 383.7,31.4 380.0,32.2 376.4,31.4 375.8,29.9 372.2,30.3 368.0,31.2 365.2,31.4 362.5,31.7 362.0,32.2 362.3,34.0 360.8,34.6 362.7,36.1 360.1,36.4 357.7,35.7 354.8,36.4 353.2,35.8 350.4,35.1 348.0,34.9 345.2,36.4 345.1,37.4 343.3,36.8 342.5,37.4 342.9,38.3 342.2,39.5 342.7,40.0 344.8,41.8 345.5,42.1 343.4,43.2 342.5,44.6 343.2,45.6 343.4,47.0 344.8,48.4 345.0,48.6 345.0,48.6 343.9,49.5 342.2,48.7 341.9,48.5 340.2,47.4 338.3,47.5 336.5,46.7 333.3,46.5 333.0,46.3 330.9,45.0 329.3,44.1 328.4,44.1 328.3,43.9 328.6,43.5 329.6,43.5 330.5,42.5 331.9,41.1 330.6,41.3 331.4,40.2 333.0,40.2 332.7,39.2 333.2,37.8 331.5,37.4 329.6,36.8 326.9,36.7 326.6,35.8 325.2,34.8 324.4,34.0 321.6,34.3 321.1,32.8 322.3,32.8 322.9,32.4 321.6,31.7 320.2,30.5 320.5,29.4 318.3,29.2 316.6,28.7 316.6,28.2 316.0,27.6 316.1,27.1 315.5,26.7 315.9,26.3 315.7,25.8 315.5,25.0 316.4,24.1 316.4,24.0 317.1,23.6 319.4,23.4 317.7,23.0 316.1,22.6 316.0,22.6 316.1,22.5 317.5,21.8 319.1,20.8 321.2,19.3 319.1,18.1 319.8,17.5 318.7,16.6 319.1,15.4 318.6,14.9 324.8,14.9 325.7,15.6 325.8,17.0 327.5,17.5 328.9,17.9 329.6,17.3 330.9,16.6 333.3,17.0 333.0,16.5 334.4,15.6 335.6,14.9 527.5,14.9 527.5,16.3 525.4,16.8 524.0,17.0 526.1,18.8 526.8,20.0 524.0,19.8ZM41.6,19.1 42.1,19.1 39.0,18.7 39.0,18.1 43.0,18.7 42.0,18.6ZM28.9,16.1 27.5,16.3 27.5,14.9 41.8,14.9 40.0,15.6 37.9,17.0 36.9,17.3 34.4,16.6 33.0,15.6 29.6,15.5Z" fill="#ff4500" stroke="#fff" stroke-width="0.35" stroke-linejoin="round"/>
<path d="M342.7,40.0 342.2,39.5 342.9,38.3 342.5,37.4 343.3,36.8 345.1,37.4 345.2,36.4 348.0,34.9 350.4,35.1 353.2,35.8 354.8,36.4 357.7,35.7 360.1,36.4 362.7,36.1 360.8,34.6 362.3,34.0 362.0,32.2 362.5,31.7 365.2,31.4 368.0,31.2 372.2,30.3 375.8,29.9 376.4,31.4 380.0,32.2 383.7,31.4 385.7,32.6 388.7,36.1 390.7,36.2 393.3,35.8 395.8,37.8 398.7,38.3 396.5,39.5 396.2,41.3 392.7,41.1 391.8,43.4 388.7,44.2 389.7,46.8 388.9,48.3 387.2,47.3 382.7,47.1 380.7,46.7 379.5,47.0 379.5,47.8 376.4,47.3 376.0,48.0 375.0,48.4 373.3,49.2 372.0,50.1 371.9,49.8 369.8,48.5 369.1,47.8 369.3,47.0 367.6,46.0 363.6,46.3 362.2,45.0 358.9,43.4 355.2,44.2 355.2,49.4 354.4,49.4 352.5,48.0 350.7,48.6 350.4,47.7 348.3,46.6 347.6,44.9 348.7,44.2 351.1,43.8 351.1,42.1 350.4,41.6 348.3,41.6 345.5,42.1 345.5,42.1 344.8,41.8Z" fill="#e2e2e2" stroke="#fff" stroke-width="0.35" stroke-linejoin="round"/>
<path d="M429.5,81.5 428.4,81.0 428.4,80.1 429.5,79.0 431.5,79.0 431.6,79.7 430.7,81.1ZM403.9,43.9 407.3,44.2 410.0,45.2 411.4,47.3 416.8,47.5 418.8,47.7 423.3,48.9 426.1,47.8 429.3,47.8 432.9,46.0 432.7,44.2 435.2,44.5 438.4,43.2 439.4,42.4 443.8,41.9 444.0,41.6 440.5,40.5 437.9,40.2 438.6,38.9 439.5,37.4 441.2,37.9 442.9,37.2 443.2,36.4 444.3,34.9 445.1,33.6 444.3,33.3 445.4,32.6 446.2,32.6 446.8,32.5 453.4,34.7 454.5,36.9 457.3,38.1 459.0,38.8 459.4,40.4 461.5,40.4 464.5,39.5 464.1,40.9 463.9,41.4 462.2,44.0 460.7,43.8 459.5,44.5 459.8,46.3 458.8,47.5 458.8,47.8 457.9,47.1 456.9,48.1 455.3,48.5 453.7,48.7 452.5,49.8 450.2,51.1 450.2,51.2 450.1,51.2 448.0,51.7 446.1,52.8 445.9,52.3 447.2,50.6 446.6,49.9 444.8,50.8 443.2,51.9 441.3,52.3 440.9,52.8 442.0,53.7 442.7,54.9 445.1,54.2 446.9,54.7 447.6,55.5 445.5,55.8 444.4,56.7 443.0,58.1 444.5,59.2 445.2,61.3 446.5,62.6 446.8,63.7 445.5,64.4 446.8,65.4 446.2,67.5 444.4,69.3 443.6,71.0 442.2,72.5 440.7,73.5 438.6,74.9 436.5,75.4 435.1,75.8 432.7,76.7 430.9,77.2 430.9,78.5 430.0,78.5 429.5,76.9 428.2,76.7 427.3,76.9 425.7,76.2 425.7,75.1 423.7,74.4 422.3,75.3 420.5,75.2 419.3,75.6 418.8,75.6 418.8,77.4 417.9,76.9 416.6,77.0 415.2,76.0 415.7,75.0 414.8,74.6 413.2,73.5 412.9,72.4 414.4,71.0 414.5,68.5 412.6,67.5 411.1,65.9 409.4,66.2 407.3,66.9 405.4,68.2 404.7,68.1 401.8,67.7 400.9,68.9 400.8,67.8 399.8,68.1 398.2,68.0 396.6,67.6 394.0,66.1 391.5,64.7 390.0,64.8 387.5,63.7 386.8,63.0 387.9,61.6 387.2,60.6 387.0,59.1 385.5,57.4 383.3,57.0 382.9,55.9 381.9,55.3 380.9,55.1 381.5,55.0 381.5,53.4 380.1,53.3 379.7,52.0 380.0,51.7 381.5,50.5 383.6,50.6 384.3,49.8 385.8,49.7 388.9,48.3 389.7,46.8 388.7,44.2 391.8,43.4 392.7,41.1 396.2,41.3 396.5,39.5 398.7,38.3 399.4,38.3 400.9,39.9 403.7,41.6Z" fill="#b22222" stroke="#fff" stroke-width="0.35" stroke-linejoin="round"/>
<path d="M418.8,47.7 416.8,47.5 411.4,47.3 410.0,45.2 407.3,44.2 403.9,43.9 403.7,41.6 400.9,39.9 399.4,38.3 402.0,37.4 405.2,36.3 408.9,37.2 412.6,37.6 414.0,36.5 414.8,34.3 419.4,35.4 419.4,36.4 421.5,37.0 423.8,36.6 426.1,37.2 428.2,38.1 430.9,38.3 434.4,37.8 436.5,36.9 439.5,37.4 438.6,38.9 437.9,40.2 440.5,40.5 444.0,41.6 443.8,41.9 439.4,42.4 438.4,43.2 435.2,44.5 432.7,44.2 432.9,46.0 429.3,47.8 426.1,47.8 423.3,48.9Z" fill="#e2e2e2" stroke="#fff" stroke-width="0.35" stroke-linejoin="round"/>
<path d="M453.7,48.7 455.3,48.5 456.9,48.1 457.9,47.1 458.8,47.8 457.6,49.8 455.9,50.9 454.5,51.9 455.8,53.1 453.8,53.5 452.6,54.3 451.7,54.3 451.5,54.2 450.9,53.1 451.5,51.9 450.2,51.2 450.2,51.1 452.5,49.8Z" fill="#ffa500" stroke="#fff" stroke-width="0.35" stroke-linejoin="round"/>
<path d="M457.0,54.9 457.3,56.5 456.6,57.9 454.5,58.7 453.0,58.6 453.2,56.7 453.3,55.1 451.7,54.3 452.6,54.3 453.8,53.5 455.8,53.1Z" fill="#ffa500" stroke="#fff" stroke-width="0.35" stroke-linejoin="round"/>
<path d="M458.4,61.6 457.6,60.9 458.0,60.2 459.4,59.7 460.8,60.9 460.0,63.2 459.0,63.7 458.3,63.0ZM464.3,59.1 464.3,59.8 462.2,60.9 461.5,60.9 461.5,59.5ZM474.0,50.5 474.7,51.9 474.1,53.5 473.3,54.0 472.7,55.6 473.2,57.2 471.8,58.3 471.6,58.1 470.2,58.0 469.4,58.7 467.7,58.6 467.6,59.1 466.1,60.2 465.2,60.2 465.2,58.8 463.6,58.6 461.5,59.0 459.4,59.2 459.8,59.0 461.1,58.1 462.2,57.4 464.3,57.3 465.7,57.3 466.3,56.7 467.3,55.8 467.5,54.9 468.2,54.7 470.2,54.2 471.5,53.1 471.6,51.4 471.9,50.2 472.3,49.5 473.8,49.2ZM473.7,46.7 474.3,44.9 474.4,43.6 476.1,44.9 477.9,45.6 479.3,45.2 479.5,46.6 477.9,47.1 476.5,48.4 474.5,47.5 473.3,47.8 472.6,48.9 471.9,49.1 471.9,48.1 472.3,46.7ZM462.2,44.0 462.7,43.2 462.9,43.2 462.3,44.1 460.7,43.8Z" fill="#fdcb6e" stroke="#fff" stroke-width="0.35" stroke-linejoin="round"/>
<path d="M445.5,72.1 446.2,71.8 446.9,72.1 445.4,76.2 444.3,74.9 444.4,73.5Z" fill="#ffeea4" stroke="#fff" stroke-width="0.35" stroke-linejoin="round"/>
<path d="M425.0,91.8 424.5,90.8 425.2,90.3 426.9,89.6 426.8,87.7 426.8,86.4 427.0,85.7 426.6,84.5 425.5,83.4 424.4,82.4 423.6,81.0 421.9,79.9 423.2,79.3 422.7,78.5 422.0,77.7 420.5,77.5 420.4,76.7 419.3,75.6 420.5,75.2 422.3,75.3 423.7,74.4 425.7,75.1 425.7,76.2 427.3,76.9 428.2,76.7 427.2,76.9 425.7,78.3 424.7,79.3 424.4,80.7 425.4,82.1 426.8,83.5 427.9,84.5 428.8,86.0 429.3,87.7 429.3,89.2 428.8,91.0 427.5,91.9 426.1,92.4 425.4,93.5 424.0,94.4 423.0,94.8 423.3,93.0 422.6,92.4 422.5,92.4 422.5,92.4 423.4,91.6Z" fill="#b22222" stroke="#fff" stroke-width="0.35" stroke-linejoin="round"/>
<path d="M424.8,87.5 424.7,86.9 423.6,87.0 424.0,86.8 424.1,85.0 423.4,84.5 422.9,83.9 422.9,82.7 421.9,81.4 421.1,81.3 420.0,82.0 419.3,81.5 418.8,82.0 417.8,82.4 417.9,81.4 418.0,79.7 417.0,79.7 417.0,78.8 416.5,78.5 417.9,76.9 418.8,77.4 418.8,75.6 419.3,75.6 420.4,76.7 420.5,77.5 422.0,77.7 422.7,78.5 423.2,79.3 421.9,79.9 423.6,81.0 424.4,82.4 425.5,83.4 426.6,84.5 427.0,85.7 426.8,86.4Z" fill="#e2e2e2" stroke="#fff" stroke-width="0.35" stroke-linejoin="round"/>
<path d="M419.6,88.4 419.9,88.0 420.5,87.0 423.0,86.8 423.6,87.0 424.7,86.9 424.8,87.5 426.8,86.4 426.8,87.7 426.9,89.6 425.2,90.3 424.5,90.8 425.0,91.8 423.4,91.6 422.5,92.4 422.5,92.4 422.6,92.4 421.2,92.1 420.4,90.8 420.4,90.7Z" fill="#ffa500" stroke="#fff" stroke-width="0.35" stroke-linejoin="round"/>
<path d="M405.6,77.0 406.1,76.2 406.9,75.9 406.8,74.9 407.1,73.4 408.2,73.7 409.0,71.9 409.6,70.7 411.1,68.9 412.3,69.1 412.6,67.5 414.5,68.5 414.4,71.0 412.9,72.4 413.2,73.5 414.8,74.6 415.7,75.0 415.2,76.0 416.6,77.0 417.9,76.9 416.5,78.5 415.1,78.9 413.7,79.4 413.2,81.1 413.2,82.2 414.4,84.0 414.4,85.5 413.9,85.8 415.2,87.8 415.2,89.3 415.9,90.5 414.6,92.5 414.3,93.0 414.2,93.1 414.4,92.3 414.4,90.2 413.9,87.8 413.3,86.0 413.0,84.3 412.5,83.2 411.5,83.9 409.8,84.9 408.7,84.2 408.4,81.8 407.7,80.4 406.4,79.0 405.7,77.9 406.1,77.2Z" fill="#b22222" stroke="#fff" stroke-width="0.35" stroke-linejoin="round"/>
<path d="M420.2,90.6 419.1,89.5 417.7,89.2 417.0,88.1 416.4,89.1 415.9,90.5 415.4,92.3 415.4,93.9 416.5,95.1 417.0,96.7 418.4,97.3 419.4,98.1 419.3,98.2 418.8,98.8 417.9,99.0 417.9,98.2 416.6,97.6 416.5,97.9 416.3,98.0 415.7,97.3 414.0,95.8 414.0,94.4 414.2,93.1 414.3,93.0 414.6,92.5 415.9,90.5 415.2,89.3 415.2,87.8 413.9,85.8 414.4,85.5 414.4,84.0 413.2,82.2 413.2,81.1 413.7,79.4 415.1,78.9 416.5,78.5 417.0,78.8 417.0,79.7 418.0,79.7 417.9,81.4 417.8,82.4 418.8,82.0 419.3,81.5 420.0,82.0 421.1,81.3 421.9,81.4 422.9,82.7 422.9,83.9 423.4,84.5 424.1,85.0 424.0,86.8 423.6,87.0 423.0,86.8 420.5,87.0 419.9,88.0 419.6,88.4 420.4,90.7 420.4,90.8Z" fill="#ff4500" stroke="#fff" stroke-width="0.35" stroke-linejoin="round"/>
<path d="M437.5,103.4 437.0,103.8 436.6,104.9 435.2,105.2 433.3,104.9 432.7,105.5 430.9,105.7 429.6,104.7 429.7,104.1 431.6,104.7 432.2,103.3 434.4,102.4 435.8,100.6 437.9,99.2 439.5,97.3 440.9,98.0 441.8,99.1 443.0,99.7 441.6,100.6 440.9,101.0 440.9,101.1 440.8,101.1 437.9,101.0 438.0,102.2ZM418.8,98.8 419.3,98.2 419.4,98.1 419.5,98.3 421.1,100.2 421.1,102.0 421.9,103.4 422.2,104.9 421.2,104.9 419.8,104.1 418.3,103.0 417.5,101.6 416.9,99.9 416.8,98.5 416.3,98.0 416.5,97.9 416.6,97.6 417.9,98.2 417.9,99.0Z" fill="#b22222" stroke="#fff" stroke-width="0.35" stroke-linejoin="round"/>
<path d="M450.8,94.9 451.8,93.4 453.0,95.1 453.2,96.9 452.7,98.1 451.8,98.5 451.6,99.1 450.1,98.3 449.7,96.7 448.7,96.5 447.6,96.5 446.9,97.1 447.2,95.9 449.0,94.9ZM443.2,91.0 444.0,90.9 443.8,92.5 440.5,95.5 439.8,95.3 440.1,94.5 442.2,92.4ZM450.4,92.8 450.4,93.4 449.5,93.5 449.4,93.1ZM449.7,91.3 449.7,92.3 449.0,93.7 449.0,92.4ZM449.0,91.7 448.7,94.4 447.5,93.8 447.5,92.4 446.6,92.4 446.6,90.3 448.4,90.7 448.1,91.7ZM449.7,90.2 449.4,90.3 448.6,89.9 448.6,89.5ZM445.9,89.8 445.2,89.5 444.8,88.2 446.1,88.5ZM450.0,87.5 450.1,89.4 451.9,89.8 452.2,91.6 451.2,91.3 451.5,92.8 450.7,93.0 450.1,90.9 451.0,91.2 450.0,89.4 448.7,88.5 447.5,88.2 446.2,88.1 444.8,87.7 445.1,86.6 444.1,86.3 443.7,84.3 444.4,83.5 444.7,81.0 447.3,81.1 447.6,83.2 446.6,84.6 446.8,86.0 448.2,87.0Z" fill="#b22222" stroke="#fff" stroke-width="0.35" stroke-linejoin="round"/>
<path d="M476.4,123.6 474.5,123.6 474.7,122.2 475.4,121.8ZM491.3,122.6 491.1,123.1 489.0,122.1 489.1,121.7ZM486.2,119.7 487.6,120.4 487.5,121.0 486.2,120.3ZM487.5,119.3 486.9,118.6 487.6,118.7ZM483.0,118.0 485.1,119.9 487.2,121.1 487.6,121.8 485.8,121.9 483.0,121.1 480.9,119.4 478.6,117.6 476.8,118.3 475.4,119.7 473.3,119.6 473.3,110.5 476.1,111.6 478.2,112.2 480.0,113.9 481.6,115.1 482.7,116.1 481.9,116.7ZM493.8,116.4 493.2,116.2 492.2,115.1 492.3,114.6ZM488.8,112.8 489.0,113.9 487.2,115.3 485.1,115.5 483.4,114.7 485.8,114.6 487.9,113.7ZM489.4,113.2 487.9,111.6 486.9,110.5 489.3,112.2 490.0,113.4ZM480.9,110.1 480.9,109.7 482.2,109.7 482.2,110.1Z" fill="#b22222" stroke="#fff" stroke-width="0.35" stroke-linejoin="round"/>
<path d="M501.5,121.5 501.5,121.1 502.9,121.8 502.5,122.1ZM499.1,120.4 499.1,119.9 500.8,120.6 500.5,120.8ZM500.4,118.9 500.7,118.6 501.5,120.1 501.1,120.1ZM499.4,118.6 499.1,119.0 496.8,118.0 496.9,117.5ZM496.2,117.2 495.8,117.6 494.7,116.9 494.8,116.4Z" fill="#fdcb6e" stroke="#fff" stroke-width="0.35" stroke-linejoin="round"/>
<path d="M510.9,131.6 509.8,129.8 509.8,129.2 510.5,129.9 511.3,131.7ZM509.7,128.1 509.4,128.8 508.8,128.2 508.8,127.5Z" fill="#fdcb6e" stroke="#fff" stroke-width="0.35" stroke-linejoin="round"/>
<path d="M508.7,137.3 509.4,138.1 507.3,137.3 506.9,136.9 507.5,136.5Z" fill="#fdcb6e" stroke="#fff" stroke-width="0.35" stroke-linejoin="round"/>
<path d="M523.7,131.3 525.5,131.4 525.5,132.3 523.8,132.3ZM527.3,129.5 527.3,129.9 525.8,130.6 525.6,130.2Z" fill="#ffa500" stroke="#fff" stroke-width="0.35" stroke-linejoin="round"/>
<path d="M451.1,119.4 453.8,118.6 454.1,119.0 451.8,120.3 451.1,120.3Z" fill="#e2e2e2" stroke="#fff" stroke-width="0.35" stroke-linejoin="round"/>
<path d="M444.8,121.1 443.0,120.6 442.7,120.0 445.2,120.4ZM445.5,119.3 442.7,119.2 440.0,119.4 438.6,119.3 436.6,119.0 436.6,118.2 438.6,118.3 440.0,118.5 442.7,118.5 445.5,118.6 448.3,118.3 448.3,118.9ZM429.5,117.8 426.8,117.6 425.2,117.2 423.6,116.4 425.0,115.3 428.2,116.1 431.3,115.8 433.8,116.5 436.5,117.8 436.3,118.9 433.0,118.6ZM423.7,109.7 423.7,109.1 425.7,110.4 425.4,111.1ZM414.4,108.7 414.4,108.3 415.4,109.3 415.0,109.4ZM409.8,99.9 409.8,99.1 412.9,99.7 414.3,101.3 416.4,103.0 417.7,104.1 420.9,106.2 421.6,108.3 422.6,109.4 424.7,111.1 424.4,113.2 424.4,115.0 422.6,115.0 420.5,113.2 418.4,111.1 416.8,108.3 415.0,106.2 413.6,103.8 411.5,101.7ZM439.3,109.0 438.8,111.4 438.6,112.5 436.6,112.6 435.1,111.5 432.7,111.8 430.5,110.9 430.2,109.0 429.0,107.6 428.8,105.8 428.8,104.8 429.7,104.1 429.7,104.1 429.6,104.7 430.9,105.7 432.7,105.5 433.3,104.9 435.2,105.2 436.6,104.9 437.0,103.8 437.5,103.4 438.0,102.2 437.9,101.0 440.8,101.1 440.9,101.1 440.9,101.0 441.3,103.4 442.7,105.5 441.1,105.8 440.7,107.6ZM413.4,105.8 413.2,106.1 412.2,105.5 412.2,104.9ZM461.4,122.9 461.6,122.6 462.4,122.9ZM451.8,120.3 449.7,121.3 449.0,121.3 451.1,119.4 451.1,120.3ZM459.7,117.1 460.5,117.1 460.1,118.0 459.5,117.9ZM464.7,114.8 464.4,116.4 463.7,115.5 463.8,114.6ZM461.9,111.5 460.8,110.9 463.2,110.2 461.2,110.0 459.8,109.0 459.4,108.0 461.5,107.5 463.6,108.0 463.8,110.4 465.0,111.5 467.0,110.0 469.1,109.1 473.3,110.5 473.3,119.6 471.2,118.2 469.1,118.6 468.8,116.9 470.1,116.4 469.1,114.6 466.3,113.3 464.3,112.5 462.2,112.6ZM452.5,112.1 452.5,111.4 454.1,111.4 454.1,112.2ZM455.2,111.8 455.2,111.1 459.1,111.4 458.7,112.1ZM446.2,112.8 445.5,111.1 445.2,110.7 444.7,111.4 444.7,114.6 443.4,114.6 443.3,111.8 442.5,110.8 443.2,109.4 443.8,107.2 444.1,105.9 445.5,105.1 448.3,105.6 451.1,104.7 451.3,104.9 450.4,106.2 448.3,106.3 445.5,106.3 444.4,106.9 444.1,108.2 445.8,108.3 447.6,108.0 448.7,108.2 448.7,108.4 446.6,109.4 446.2,109.7 446.9,111.1 448.0,112.5 448.0,113.7 446.8,113.7ZM455.9,107.6 455.0,108.0 454.7,106.2 454.4,105.5 454.5,104.1 455.2,104.4 456.1,104.9 455.2,106.3Z" fill="#b22222" stroke="#fff" stroke-width="0.35" stroke-linejoin="round"/>
<path d="M391.2,96.7 390.8,98.0 389.3,98.7 388.4,97.8 388.2,95.8 388.3,93.4 388.9,93.2 390.2,95.1Z" fill="#fdcb6e" stroke="#fff" stroke-width="0.35" stroke-linejoin="round"/>
<path d="M400.9,75.0 400.7,74.5 400.4,74.0 400.7,73.2 399.9,72.8 399.8,72.2 400.9,71.8 400.2,71.2 399.8,70.8 400.4,70.0 401.2,70.5 402.2,70.7 402.3,71.6 403.0,71.9 405.3,71.8 405.9,72.2 405.6,73.1 405.1,73.3 404.2,73.4 404.1,73.9 404.5,74.6 404.8,74.9 405.0,74.3 405.7,73.9 405.7,75.0 406.1,76.2 405.6,77.0 406.1,77.2 405.7,77.9 405.9,78.3 405.9,78.3 405.5,77.6 405.0,75.8 404.5,75.1 403.2,75.8 401.4,76.5 401.2,76.5 401.2,76.2Z" fill="#b22222" stroke="#fff" stroke-width="0.35" stroke-linejoin="round"/>
<path d="M399.9,69.1 399.8,70.1 398.4,70.1 396.7,69.8 395.0,69.2 394.3,68.6 393.2,68.8 392.3,68.3 390.2,67.4 388.6,66.7 389.1,65.7 390.0,64.8 391.5,64.7 394.0,66.1 396.6,67.6 398.2,68.0 399.8,68.1Z" fill="#e2e2e2" stroke="#fff" stroke-width="0.35" stroke-linejoin="round"/>
<path d="M405.2,68.2 405.3,69.5 404.5,69.6 402.3,69.7 401.1,69.4 400.9,68.9 401.8,67.7 404.7,68.1Z" fill="#e2e2e2" stroke="#fff" stroke-width="0.35" stroke-linejoin="round"/>
<path d="M376.1,72.6 375.6,71.1 374.8,70.7 374.0,69.6 375.2,68.0 375.9,68.3 377.3,68.0 378.7,66.5 379.4,65.2 380.2,64.8 381.0,63.6 381.1,62.3 382.1,61.9 381.1,61.2 380.2,60.6 380.2,58.6 380.7,58.4 382.7,58.8 384.4,58.1 385.5,57.4 387.0,59.1 387.2,60.6 387.9,61.6 386.8,63.0 387.5,63.7 390.0,64.8 389.1,65.7 388.6,66.7 390.2,67.4 392.3,68.3 393.2,68.8 394.3,68.6 395.0,69.2 396.7,69.8 398.4,70.1 399.8,70.1 399.9,69.1 399.8,68.1 400.8,67.8 400.9,68.9 401.1,69.4 402.3,69.7 404.5,69.6 405.3,69.5 405.2,68.2 404.7,68.1 405.4,68.2 407.3,66.9 409.4,66.2 411.1,65.9 412.6,67.5 412.3,69.1 411.1,68.9 409.6,70.7 409.0,71.9 408.2,73.7 407.1,73.4 406.8,74.9 406.9,75.9 406.1,76.2 405.7,75.0 405.7,73.9 405.0,74.3 404.8,74.9 404.5,74.6 404.1,73.9 404.2,73.4 405.1,73.3 405.6,73.1 405.9,72.2 405.3,71.8 403.0,71.9 402.3,71.6 402.2,70.7 401.2,70.5 400.4,70.0 399.8,70.8 400.2,71.2 400.9,71.8 399.8,72.2 399.9,72.8 400.7,73.2 400.4,74.0 400.7,74.5 400.9,75.0 401.2,76.2 401.2,76.5 400.0,76.5 398.3,77.2 397.6,78.8 395.5,80.1 393.4,82.1 391.8,83.8 389.7,84.9 388.7,85.6 389.0,88.4 388.3,90.9 388.4,92.4 387.6,92.5 387.2,93.9 386.1,94.5 385.2,95.6 384.4,95.3 383.3,93.2 382.0,90.5 380.9,88.1 380.0,85.7 379.1,83.2 378.6,80.4 378.6,77.6 378.3,76.2 377.7,77.2 376.8,77.9 375.0,77.6 373.3,76.0 373.6,75.1 372.2,74.0 372.1,74.0 372.2,73.9 373.0,73.0 374.7,73.2 375.5,72.9Z" fill="#b22222" stroke="#fff" stroke-width="0.35" stroke-linejoin="round"/>
<path d="M363.4,70.3 365.2,69.8 365.4,69.0 364.7,68.9 364.7,67.5 363.0,66.6 362.0,65.3 364.3,65.9 366.6,65.8 369.5,65.2 369.7,63.8 371.6,63.2 373.7,62.5 374.0,60.9 375.1,60.4 374.5,59.5 376.2,59.0 377.0,57.5 376.4,56.7 378.3,55.6 380.9,55.3 381.2,55.1 381.9,55.3 382.9,55.9 383.3,57.0 385.5,57.4 384.4,58.1 382.7,58.8 380.7,58.4 380.2,58.6 380.2,60.6 381.1,61.2 382.1,61.9 381.1,62.3 381.0,63.6 380.2,64.8 379.4,65.2 378.7,66.5 377.3,68.0 375.9,68.3 375.2,68.0 374.0,69.6 374.8,70.7 375.6,71.1 376.1,72.6 375.5,72.9 374.7,73.2 373.0,73.0 372.2,73.9 372.1,74.0 372.2,74.0 371.9,73.9 370.8,72.6 369.8,71.5 367.0,71.6 365.7,71.6 363.0,71.8 363.2,71.1Z" fill="#ffa500" stroke="#fff" stroke-width="0.35" stroke-linejoin="round"/>
<path d="M342.1,52.7 344.1,51.6 344.6,52.0 344.1,52.8 345.4,53.3 345.4,53.3 345.5,54.5 347.3,54.9 349.7,55.6 352.2,55.1 352.1,54.6 352.3,54.9 353.6,54.8 354.4,54.0 355.7,53.8 357.1,53.7 359.8,54.7 361.3,55.8 362.3,55.9 362.5,57.3 361.6,59.1 361.6,60.8 362.0,63.0 363.3,63.9 362.0,65.3 363.6,67.9 363.6,70.3 363.4,70.3 363.2,71.1 363.0,71.8 360.8,71.6 359.1,71.4 357.0,71.0 356.4,69.1 354.5,69.6 352.5,69.8 350.5,68.7 349.0,68.0 348.0,66.5 346.9,64.8 345.5,64.5 344.8,65.1 343.7,63.7 343.9,62.6 341.5,60.8 340.5,59.6 340.9,58.8 341.8,57.0 340.5,56.7 339.7,55.1 339.0,54.1 339.3,53.5 338.6,52.1 339.1,52.0 339.7,51.6 340.6,52.6Z" fill="#ffa500" stroke="#fff" stroke-width="0.35" stroke-linejoin="round"/>
<path d="M328.5,65.3 329.6,65.1 330.2,64.4 328.9,63.0 331.9,62.1 333.6,62.4 335.9,63.6 339.5,66.2 342.1,66.4 343.4,66.5 343.7,67.1 344.7,67.1 344.8,67.1 345.1,67.9 346.2,68.9 346.9,69.7 347.2,71.0 347.6,72.1 347.8,71.8 348.0,72.4 348.6,72.6 349.1,73.2 349.1,73.3 350.5,74.9 354.1,75.3 354.8,76.2 353.9,79.0 349.7,80.4 345.7,81.0 344.4,81.6 343.4,83.1 342.4,82.8 340.5,82.8 337.7,82.4 337.3,83.6 336.9,84.0 336.8,84.1 335.8,82.5 334.4,80.4 333.0,78.8 331.9,76.9 330.9,74.9 329.6,73.0 328.6,71.0 326.8,68.6 325.8,67.6 326.1,66.0 327.5,66.2Z" fill="#ffeea4" stroke="#fff" stroke-width="0.35" stroke-linejoin="round"/>
<path d="M353.2,89.3 353.2,89.8 351.5,89.6 351.5,89.2ZM340.5,82.8 342.4,82.8 343.4,83.1 344.4,81.6 345.7,81.0 349.7,80.4 351.2,83.6 350.4,83.9 350.0,85.2 346.9,86.0 344.8,87.4 342.0,88.2 340.0,89.1 338.0,89.2 337.6,88.4 337.2,86.0 336.9,84.2 336.8,84.1 336.9,84.0 337.3,83.6 337.7,82.4Z" fill="#ffffe0" stroke="#fff" stroke-width="0.35" stroke-linejoin="round"/>
<path d="M354.8,76.2 355.0,73.4 355.4,72.4 355.8,72.1 355.8,72.2 356.6,73.5 359.0,74.1 359.2,74.2 360.5,75.7 359.1,78.3 357.7,78.6 357.7,80.4 355.9,81.1 354.5,82.1 352.5,83.2 351.2,83.6 349.7,80.4 353.9,79.0Z" fill="#ffeea4" stroke="#fff" stroke-width="0.35" stroke-linejoin="round"/>
<path d="M354.2,75.6 354.1,75.3 350.5,74.9 349.1,73.3 349.1,73.2 349.0,73.0 349.0,71.4 349.1,73.0 350.4,73.2 353.2,73.0 354.3,71.6 355.2,71.0 355.4,70.5 355.8,70.4 355.8,72.1 355.4,72.4 355.0,73.4 354.8,75.6Z" fill="#ffffe0" stroke="#fff" stroke-width="0.35" stroke-linejoin="round"/>
<path d="M275.1,60.5 275.8,61.8 273.3,62.7 272.5,63.8 270.2,65.1 268.4,65.7 265.5,66.9 265.4,68.3 259.3,68.3 259.6,68.0 261.8,66.9 263.3,66.1 264.0,65.1 263.9,63.7 264.6,62.0 265.4,60.9 267.1,60.1 268.4,58.8 269.3,57.0 270.1,56.9 272.6,57.7 274.4,58.0 275.0,58.8Z" fill="#ffffe0" stroke="#fff" stroke-width="0.35" stroke-linejoin="round"/>
<path d="M260.8,70.7 260.8,74.2 259.4,74.9 259.4,77.2 254.0,77.2 253.9,77.6 253.9,76.5 255.2,73.9 256.6,72.3 257.3,70.4 258.7,69.3 259.3,68.3 265.4,68.3 265.4,70.7Z" fill="#e2e2e2" stroke="#fff" stroke-width="0.35" stroke-linejoin="round"/>
<path d="M291.8,62.7 291.7,63.8 290.7,64.8 290.0,62.2 289.0,61.6 287.9,59.4 289.0,57.7 288.9,56.0 289.4,55.4 289.4,55.2 290.0,55.2 291.3,54.9 292.5,55.7 292.1,56.2 292.7,57.7 291.4,58.8 291.6,59.8 292.7,60.6 293.5,60.9 293.4,61.8Z" fill="#ffeea4" stroke="#fff" stroke-width="0.35" stroke-linejoin="round"/>
<path d="M291.8,62.7 293.4,61.8 293.5,60.9 294.1,61.1 296.2,61.2 298.7,62.0 299.7,63.3 301.8,63.8 303.9,64.7 305.2,63.7 305.2,62.0 307.3,61.1 309.4,61.3 310.1,62.0 312.2,62.9 312.4,62.9 312.1,64.4 312.2,66.2 312.2,79.0 310.8,79.0 310.8,79.7 299.7,74.2 298.3,74.9 297.2,75.4 296.2,74.7 294.1,74.1 291.7,72.6 290.5,70.5 291.1,70.0 291.2,67.5 290.7,64.8 291.7,63.8Z" fill="#ffeea4" stroke="#fff" stroke-width="0.35" stroke-linejoin="round"/>
<path d="M312.1,64.4 312.4,62.9 315.7,63.4 317.7,63.8 319.1,63.3 320.5,63.0 322.3,63.3 323.6,63.6 325.0,63.3 325.0,63.3 325.1,63.4 325.9,65.8 325.9,65.9 325.8,65.9 325.0,68.2 323.6,67.1 322.7,65.2 322.7,65.5 324.4,68.6 325.4,70.7 326.9,73.5 328.9,76.2 312.2,76.2 312.2,66.2Z" fill="#ffeea4" stroke="#fff" stroke-width="0.35" stroke-linejoin="round"/>
<path d="M257.2,87.7 258.3,88.0 258.3,88.4 256.4,88.4 254.1,88.7 254.1,87.9 256.1,87.8Z" fill="#ffeea4" stroke="#fff" stroke-width="0.35" stroke-linejoin="round"/>
<path d="M255.9,83.8 257.5,83.7 258.7,84.5 259.7,85.7 260.5,86.3 260.5,86.8 261.6,88.9 261.6,89.6 260.2,89.8 258.4,89.3 256.4,89.2 254.3,89.7 254.1,89.5 254.1,88.7 256.4,88.4 258.3,88.4 258.3,88.0 257.2,87.7 256.1,87.8 254.1,87.9 254.1,87.7 253.2,86.4 253.9,85.7 254.5,84.5 254.6,84.5Z" fill="#ffa500" stroke="#fff" stroke-width="0.35" stroke-linejoin="round"/>
<path d="M258.4,89.3 258.4,90.6 257.1,90.9 256.6,91.6 256.5,91.7 255.9,91.2 254.8,90.2 254.3,89.7 256.4,89.2Z" fill="#b22222" stroke="#fff" stroke-width="0.35" stroke-linejoin="round"/>
<path d="M258.4,90.6 258.4,89.3 260.2,89.8 261.6,89.6 262.6,90.3 264.6,89.5 265.9,91.5 265.9,92.3 266.4,92.7 265.9,93.7 266.8,95.2 265.9,96.3 265.7,96.4 264.4,96.6 264.5,95.8 263.2,95.1 262.6,94.3 262.7,93.0 261.9,93.0 260.1,93.1 259.0,94.3 259.0,94.1 258.0,93.0 256.6,91.9 256.5,91.7 256.6,91.6 257.1,90.9Z" fill="#ff4500" stroke="#fff" stroke-width="0.35" stroke-linejoin="round"/>
<path d="M261.9,93.0 262.7,93.0 262.6,94.3 263.2,95.1 262.7,96.1 261.5,97.2 261.5,97.3 260.1,96.5 259.1,95.2 259.0,94.3 260.1,93.1Z" fill="#fdcb6e" stroke="#fff" stroke-width="0.35" stroke-linejoin="round"/>
<path d="M263.2,95.1 264.5,95.8 264.4,96.6 265.7,96.4 265.7,97.8 267.1,98.8 267.0,100.8 266.9,100.8 264.7,99.5 262.9,98.3 261.5,97.3 261.5,97.3 261.5,97.2 262.7,96.1Z" fill="#ffeea4" stroke="#fff" stroke-width="0.35" stroke-linejoin="round"/>
<path d="M273.0,97.4 274.0,95.5 273.7,93.7 273.6,91.6 277.3,91.4 277.7,92.4 278.0,93.7 278.2,95.3 278.2,96.6 278.4,97.7 279.1,98.4 279.1,98.6 278.9,98.7 276.8,99.4 274.7,100.2 273.3,99.8 273.2,99.8 273.7,99.1Z" fill="#ffffe0" stroke="#fff" stroke-width="0.35" stroke-linejoin="round"/>
<path d="M281.2,94.4 282.5,92.7 282.5,90.6 283.2,88.9 283.3,88.1 285.1,87.6 287.1,88.8 289.3,88.7 291.4,88.4 294.8,88.7 296.4,87.8 297.1,88.6 297.7,90.9 296.6,91.6 295.8,93.5 295.2,94.9 294.4,95.2 293.9,97.0 293.2,97.8 292.1,97.1 291.5,97.3 290.4,98.1 289.8,98.8 289.3,100.3 289.2,100.5 288.6,100.6 286.5,100.9 285.1,100.2 284.4,98.7 283.0,98.0 281.2,98.1 281.2,98.1 281.3,96.0Z" fill="#ff4500" stroke="#fff" stroke-width="0.35" stroke-linejoin="round"/>
<path d="M298.3,90.0 298.4,91.8 299.0,93.0 297.2,93.0 296.8,93.5 298.9,96.3 299.0,96.5 297.7,98.3 297.6,99.5 298.3,101.0 299.8,102.9 300.0,103.8 299.8,104.5 297.6,104.0 295.9,103.8 293.2,103.8 291.1,103.6 291.0,103.6 291.1,102.7 290.7,101.5 289.7,100.5 289.2,100.5 289.3,100.3 289.8,98.8 290.4,98.1 291.5,97.3 292.1,97.1 293.2,97.8 293.9,97.0 294.4,95.2 295.2,94.9 295.8,93.5 296.6,91.6 297.7,90.9 297.1,88.6 297.6,89.1ZM295.7,88.2 295.2,88.5 295.5,88.1Z" fill="#fdcb6e" stroke="#fff" stroke-width="0.35" stroke-linejoin="round"/>
<path d="M290.9,104.4 291.0,103.6 291.1,103.6 293.2,103.8 293.2,105.5 290.7,105.5ZM289.8,101.7 289.7,102.4 289.1,102.2 289.3,101.6Z" fill="#fdcb6e" stroke="#fff" stroke-width="0.35" stroke-linejoin="round"/>
<path d="M293.2,103.8 295.9,103.8 295.8,105.1 297.3,105.0 297.6,105.8 296.8,106.6 297.6,107.6 297.5,109.5 297.3,110.1 295.5,110.2 294.8,109.8 293.6,110.2 294.0,111.6 292.9,112.4 292.8,112.4 292.7,112.3 291.4,110.8 290.4,109.4 289.7,107.9 290.4,106.5 290.7,105.5 293.2,105.5Z" fill="#fdcb6e" stroke="#fff" stroke-width="0.35" stroke-linejoin="round"/>
<path d="M301.8,118.2 304.4,118.0 304.6,116.7 305.7,116.7 307.7,117.1 307.7,120.1 308.3,122.4 310.8,122.1 310.8,125.0 308.0,125.0 308.0,129.5 310.0,131.4 307.2,132.0 303.2,131.1 296.9,131.1 295.5,130.6 293.9,130.9 293.9,130.6 294.1,128.2 294.8,125.7 296.2,124.3 296.6,121.9 295.9,119.2 295.5,117.3 294.6,115.3 295.8,115.1 300.5,115.1 300.9,116.8ZM294.1,113.9 294.0,113.8 294.8,113.3 295.7,113.3 295.2,115.0 294.4,114.9Z" fill="#ffffe0" stroke="#fff" stroke-width="0.35" stroke-linejoin="round"/>
<path d="M317.6,146.8 318.4,147.9 317.9,148.7 316.6,149.6 315.5,149.1 315.0,148.1 316.4,146.9Z" fill="#e2e2e2" stroke="#fff" stroke-width="0.35" stroke-linejoin="round"/>
<path d="M321.8,143.1 322.1,144.3 320.9,144.9 320.2,144.2 320.5,142.8Z" fill="#e2e2e2" stroke="#fff" stroke-width="0.35" stroke-linejoin="round"/>
<path d="M305.2,146.5 305.2,141.4 306.4,144.2 307.6,144.3 309.0,142.4 309.7,142.2 312.9,142.6 314.8,139.9 316.8,138.4 318.2,137.8 320.9,138.1 321.9,140.9 321.8,143.1 320.5,142.8 320.2,144.2 320.9,144.9 322.1,144.3 323.0,144.3 322.2,146.9 320.5,148.4 319.1,150.4 317.1,152.2 315.0,153.6 313.2,154.3 310.8,154.4 308.0,154.4 305.9,155.0 304.6,155.2 303.0,154.3 302.9,152.5 302.7,151.2 301.4,148.7 300.4,146.8 301.6,146.9ZM316.4,146.9 315.0,148.1 315.5,149.1 316.6,149.6 317.9,148.7 318.4,147.9 317.6,146.8Z" fill="#ffffe0" stroke="#fff" stroke-width="0.35" stroke-linejoin="round"/>
<path d="M321.8,143.1 321.9,140.9 320.9,138.1 322.5,136.6 322.6,135.6 323.3,134.5 322.9,133.2 323.3,131.1 323.2,130.2 320.9,129.2 319.7,129.2 319.7,128.6 319.4,127.7 323.6,126.4 324.1,127.2 325.4,127.0 325.5,128.2 325.1,128.9 325.2,129.6 326.2,130.4 326.5,130.8 326.5,129.5 327.3,128.4 327.2,127.2 325.9,125.7 325.7,124.5 326.0,123.0 328.2,123.2 330.1,122.6 330.9,122.8 333.6,121.5 333.7,121.5 333.7,124.7 334.1,127.1 333.7,128.5 331.6,130.3 328.9,131.7 327.5,133.1 325.8,134.5 326.1,135.9 326.8,138.2 326.5,140.8 324.0,142.0 322.9,143.0 323.2,143.8 323.0,144.3 322.1,144.3Z" fill="#b22222" stroke="#fff" stroke-width="0.35" stroke-linejoin="round"/>
<path d="M326.0,123.0 325.5,122.2 325.1,120.4 324.6,120.1 323.2,120.0 320.5,118.9 320.2,118.3 318.6,116.0 318.3,113.1 319.1,112.9 320.2,111.5 319.8,110.2 320.3,110.1 320.3,108.4 324.6,108.3 329.7,111.1 329.8,111.8 331.9,113.4 331.9,113.4 331.9,113.4 331.4,115.3 332.3,116.5 332.0,118.0 332.7,120.6 333.6,121.5 330.9,122.8 330.1,122.6 328.2,123.2ZM331.9,115.0 332.5,115.3 332.3,116.0 331.9,115.7Z" fill="#b22222" stroke="#fff" stroke-width="0.35" stroke-linejoin="round"/>
<path d="M329.7,111.1 324.6,108.3 324.6,106.8 325.4,105.4 326.1,104.3 325.2,101.7 324.7,101.0 327.3,100.5 328.7,100.7 330.4,101.9 332.3,102.1 334.1,101.0 335.7,101.4 334.4,103.0 334.4,108.1 335.2,109.2 335.1,109.3 333.7,110.4 333.0,111.1 331.9,113.4 331.9,113.4 329.8,111.8Z" fill="#ff4500" stroke="#fff" stroke-width="0.35" stroke-linejoin="round"/>
<path d="M334.4,103.0 335.7,101.4 337.0,100.9 338.2,100.1 340.0,100.0 344.1,95.8 342.7,95.8 338.6,94.4 337.2,93.5 336.9,91.7 337.5,90.9 337.7,90.9 337.9,91.3 340.0,92.3 342.7,91.3 345.5,91.2 347.6,90.3 348.7,90.5 348.6,92.3 347.6,94.4 346.2,97.1 344.1,100.6 341.4,103.4 338.6,105.5 336.5,107.6 335.2,109.2 334.4,108.1Z" fill="#fdcb6e" stroke="#fff" stroke-width="0.35" stroke-linejoin="round"/>
<path d="M340.7,129.2 342.7,128.2 344.1,126.1 345.9,123.6 347.3,128.5 346.6,129.9 346.2,132.0 344.8,136.2 343.0,141.5 340.2,142.4 338.3,140.3 337.6,137.6 338.9,134.8 338.6,131.3Z" fill="#b22222" stroke="#fff" stroke-width="0.35" stroke-linejoin="round"/>
<path d="M483.4,165.7 482.3,167.2 480.2,167.5 479.3,165.8 478.4,163.7 483.3,163.9ZM459.1,124.2 460.8,123.9 461.6,122.6 465.0,123.9 467.5,123.6 466.3,125.7 465.7,127.5 467.7,128.9 470.5,130.3 472.6,131.3 474.0,128.5 474.1,125.7 474.7,122.2 474.5,123.6 476.4,123.6 476.8,124.3 477.0,126.8 479.3,127.8 480.2,131.3 480.7,133.4 483.0,134.8 485.1,137.3 486.9,139.2 489.3,141.5 490.2,143.8 490.8,146.6 490.0,149.8 489.3,152.2 487.6,154.0 486.5,156.4 485.8,158.7 483.4,159.6 480.9,161.2 478.8,160.3 476.8,161.0 474.0,160.3 471.9,159.1 471.2,157.1 469.1,156.6 469.8,155.2 468.8,153.2 468.8,152.6 468.2,154.3 467.7,155.9 466.3,155.4 465.2,155.0 464.3,153.2 462.9,151.6 460.1,150.8 456.6,151.1 453.2,151.8 449.7,152.9 449.0,154.1 445.5,154.0 443.4,154.7 441.3,155.7 438.6,155.4 437.3,154.7 438.0,152.9 438.2,151.1 437.2,148.7 436.1,145.2 435.1,143.1 435.0,141.0 435.4,138.5 436.1,137.6 438.6,135.9 442.0,135.2 445.5,134.2 447.3,132.0 447.2,130.6 449.0,131.0 449.4,129.5 451.1,127.8 452.5,126.4 454.5,126.4 455.5,127.7 457.3,127.7 458.0,125.4ZM461.4,122.9 462.4,122.9 461.6,122.6Z" fill="#ff4500" stroke="#fff" stroke-width="0.35" stroke-linejoin="round"/>
<path d="M517.3,163.3 519.5,164.4 518.8,165.8 517.5,167.6 515.4,168.6 514.7,170.7 512.2,171.8 510.1,171.4 508.7,170.7 511.1,168.5 514.3,166.8 515.6,165.1 516.6,163.7ZM520.2,159.1 519.5,157.8 517.7,155.7 517.3,154.8 519.1,156.4 521.2,157.8 521.9,159.3 525.1,159.3 524.7,160.8 523.3,161.8 523.1,163.0 520.9,164.9 520.1,164.4 520.8,162.9 518.8,161.8 520.0,161.0Z" fill="#ffeea4" stroke="#fff" stroke-width="0.35" stroke-linejoin="round"/>
<path d="M265.4,68.9 270.8,72.1 279.1,77.5 280.0,78.6 281.9,79.3 282.1,80.4 283.4,80.2 285.5,79.7 287.9,77.8 294.1,74.1M270.8,72.1 269.7,83.9 270.1,85.3 264.6,85.3 262.3,85.9 261.5,85.2 260.5,86.3M283.4,80.2 283.3,83.4 282.3,85.4 279.3,85.6 277.7,86.0 277.8,86.1 274.7,87.1 272.7,88.5 271.5,88.5 271.4,89.8 270.1,90.7 269.8,92.3 268.9,92.1 266.5,92.7 266.4,92.7M277.8,86.1 279.0,88.4 280.5,89.6 280.8,90.3 282.5,90.6M269.8,92.3 270.9,93.2 273.6,93.4 273.7,93.7M277.3,91.4 278.7,91.6 279.4,90.9 280.8,90.3M278.7,91.6 279.8,94.4 279.8,98.3M296.4,87.8 296.2,86.7 299.0,83.4 299.6,78.5 298.3,74.9M310.8,79.7 310.8,85.0 309.3,85.0 308.7,87.3 308.3,89.2 309.3,91.6 307.6,92.1 305.8,94.2 303.9,94.4 303.7,94.7 301.9,95.9 299.0,96.5M331.0,81.8 328.9,83.1 328.7,84.3 328.1,87.0 327.7,89.2 326.2,90.5 326.0,91.8 325.1,92.3 324.8,93.7 324.6,92.7 323.6,92.0 323.4,89.9 322.3,90.2 320.8,93.2 318.4,93.2 316.4,93.9 314.4,93.7 312.3,92.5 311.8,93.2 310.1,94.8 309.3,91.6M324.8,93.7 324.8,94.9 323.3,96.0 325.7,97.6 326.5,99.4 327.3,100.5M324.7,101.0 323.3,101.5 322.2,102.0 320.3,102.0 318.4,100.5 315.6,99.9 312.6,96.7 310.1,94.8M315.6,99.9 312.2,99.9 309.3,100.2 308.6,101.2 306.1,100.8 304.6,99.8 303.3,100.9 303.3,102.0 300.5,102.0 300.0,103.8M303.3,102.0 302.5,103.4 302.2,106.5 300.0,110.0 299.6,112.3 297.5,113.7 296.1,113.7 295.7,113.3M320.3,102.0 320.2,103.6 320.9,103.9 319.1,105.8 318.6,107.7 318.6,108.9 317.7,110.7 318.1,113.0 318.3,113.1M318.6,108.9 319.8,108.4M317.7,110.7 319.8,110.2M320.2,118.3 317.6,118.7 316.9,119.9 317.3,121.8 316.9,123.3 318.9,123.8 318.9,125.6 317.7,125.6 316.9,124.3 315.2,123.1 312.6,122.5 311.4,122.4 310.8,122.1M323.2,120.0 323.7,121.9 322.9,125.8 323.6,126.4M319.7,128.6 317.6,129.2 315.0,131.9 312.5,131.7 310.0,131.4M312.5,131.7 313.9,134.1 315.9,135.5 315.9,136.3 318.2,137.8M312.5,131.7 310.0,132.0 306.6,132.4 306.6,137.6 305.2,137.6 305.2,141.4M328.1,87.0 330.1,86.1 331.8,86.6 333.3,86.8 336.4,89.5 335.5,91.6 337.0,91.6M336.4,89.5 337.4,89.2M324.7,101.0 327.3,100.5 328.7,100.7 330.4,101.9 332.3,102.1 334.1,101.0 335.7,101.4M324.6,108.3 324.6,106.8 325.4,105.4 326.1,104.3 325.2,101.7 324.7,101.0M254.6,84.5 255.9,83.8 257.5,83.7 258.7,84.5 259.7,85.7 260.5,86.3 260.5,86.8 261.6,88.9 261.6,89.6M336.3,55.2 334.8,56.2 334.4,59.0 331.4,60.4 331.9,62.1M331.4,60.4 328.6,61.9 327.1,61.3 326.8,63.0 326.1,65.7M327.1,61.3 327.3,60.5 328.3,59.2 327.5,58.6M326.2,60.8 327.3,60.5M342.1,66.4 343.2,65.0 344.1,65.1 344.9,65.2M362.5,57.3 364.5,57.8 367.0,56.3 369.8,54.9 371.6,55.1 373.7,55.2 374.9,54.6 375.2,53.8 376.6,53.6 376.8,54.1 376.7,55.7 378.3,55.3 379.3,54.7 381.5,55.0M369.8,54.9 368.6,53.5 366.6,52.6 364.1,51.2 363.4,49.6 360.9,49.2 360.8,48.1 358.9,47.3 357.7,48.1 356.6,49.4 355.2,49.4M371.6,55.1 372.3,53.5 371.2,51.9 372.7,51.7 372.9,50.9 375.4,49.8 375.5,50.9M376.0,48.0 375.0,49.1 376.9,49.1 379.0,50.0 377.0,51.0 375.5,50.9 373.7,51.3 373.7,51.9 377.2,52.1 379.7,52.0M337.8,49.6 340.0,49.4 341.9,48.5M340.0,49.4 340.7,50.3 342.0,51.9 342.1,52.7M311.3,26.3 313.0,26.1 315.5,26.7M306.7,28.8 309.3,28.3 312.1,28.3 314.4,29.3 316.6,28.7M314.4,29.3 313.3,30.4 312.9,31.2 310.1,31.7 309.1,31.2M310.1,31.7 310.7,33.5 309.7,34.0 310.2,35.1 310.9,36.5 308.9,37.9 308.8,38.5 305.4,38.3 303.6,37.9 302.1,36.8 300.0,36.3 298.0,36.1M296.6,39.0 298.3,38.6 301.0,39.2 303.6,37.9M290.7,40.6 290.8,41.3 292.0,41.6M296.5,42.1 299.8,41.6 301.3,40.0 301.0,39.2M301.3,40.0 303.6,40.3 305.9,39.3 308.2,39.5 308.8,38.5M308.2,39.5 309.3,40.0 306.9,42.3 305.6,42.7 303.7,42.9 301.5,42.8 300.4,42.1 299.8,41.6M296.4,43.6 298.7,43.6 299.2,42.5 300.4,42.1M303.7,42.9 303.9,44.3 304.4,46.2 303.2,47.7M299.3,43.9 300.1,45.3 301.9,46.8 303.2,47.7M299.3,43.9 301.1,43.9 303.9,44.3M309.3,40.0 312.1,40.4 314.4,39.7 316.6,43.6 318.4,43.9M314.4,39.7 317.9,40.1 319.3,42.3 316.6,43.6M305.6,42.7 307.2,44.4 308.9,45.3 309.4,45.9 312.9,46.1 315.1,45.5 317.1,45.9M308.9,45.3 308.6,47.3 308.5,48.0 309.3,49.3M308.5,48.0 307.3,48.0 306.1,48.4 305.9,49.4 306.6,50.0M306.1,48.4 304.4,48.5M304.4,46.2 305.7,47.3 306.1,48.4M310.2,35.1 312.2,34.6 316.4,35.0 319.8,35.4 321.6,34.3M285.9,42.3 285.8,42.6 286.9,42.3 287.3,42.9 288.4,42.9 289.2,42.2 290.0,43.0 290.4,42.1 291.5,42.0 292.0,41.6M288.0,40.6 289.4,40.3 290.7,40.6" fill="none" stroke="#fff" stroke-width="0.4" stroke-linejoin="round"/>
<path d="M343.4,43.2 345.5,42.1 348.3,41.6 350.4,41.6 351.1,42.1 351.1,43.8 348.7,44.2 347.6,44.9 348.3,46.6 350.4,47.7 350.8,49.1 352.2,49.8 351.1,51.2 351.8,52.6 352.2,55.1 349.7,55.6 347.3,54.9 345.5,54.5 345.4,53.3 345.9,51.9 347.2,50.8 346.2,50.1 344.8,48.4 343.4,47.0 343.2,45.6 342.5,44.6Z" fill="#e2e2e2" stroke="#eee" stroke-width="0.35"/>
<path d="M174.4,167.2 174.0,169.6 172.8,172.1 172.6,174.9 173.3,177.4 174.3,179.4 175.8,181.2 177.8,182.7 180.3,183.8" fill="none" stroke="#3c3c28" stroke-opacity="0.55" stroke-width="1.1" stroke-dasharray="1.4,0.9"/>
<text x="27.5" y="6.3" font-size="7.9" text-anchor="middle" fill="#111" stroke="#111" stroke-width="0.18">180°W</text>
<text x="69.2" y="6.3" font-size="7.9" text-anchor="middle" fill="#111" stroke="#111" stroke-width="0.18">150°W</text>
<text x="110.8" y="6.3" font-size="7.9" text-anchor="middle" fill="#111" stroke="#111" stroke-width="0.18">120°W</text>
<text x="152.5" y="6.3" font-size="7.9" text-anchor="middle" fill="#111" stroke="#111" stroke-width="0.18">90°W</text>
<text x="194.1" y="6.3" font-size="7.9" text-anchor="middle" fill="#111" stroke="#111" stroke-width="0.18">60°W</text>
<text x="235.8" y="6.3" font-size="7.9" text-anchor="middle" fill="#111" stroke="#111" stroke-width="0.18">30°W</text>
<text x="277.5" y="6.3" font-size="7.9" text-anchor="middle" fill="#111" stroke="#111" stroke-width="0.18">0°</text>
<text x="319.1" y="6.3" font-size="7.9" text-anchor="middle" fill="#111" stroke="#111" stroke-width="0.18">30°E</text>
<text x="360.8" y="6.3" font-size="7.9" text-anchor="middle" fill="#111" stroke="#111" stroke-width="0.18">60°E</text>
<text x="402.5" y="6.3" font-size="7.9" text-anchor="middle" fill="#111" stroke="#111" stroke-width="0.18">90°E</text>
<text x="444.1" y="6.3" font-size="7.9" text-anchor="middle" fill="#111" stroke="#111" stroke-width="0.18">120°E</text>
<text x="485.8" y="6.3" font-size="7.9" text-anchor="middle" fill="#111" stroke="#111" stroke-width="0.18">150°E</text>
<text x="527.5" y="6.3" font-size="7.9" text-anchor="middle" fill="#111" stroke="#111" stroke-width="0.18">180°E</text>
<text x="19.4" y="193.1" font-size="7.9" text-anchor="end" fill="#111" stroke="#111" stroke-width="0.18">60°S</text>
<text x="19.4" y="165.2" font-size="7.9" text-anchor="end" fill="#111" stroke="#111" stroke-width="0.18">40°S</text>
<text x="19.4" y="137.4" font-size="7.9" text-anchor="end" fill="#111" stroke="#111" stroke-width="0.18">20°S</text>
<text x="19.4" y="109.5" font-size="7.9" text-anchor="end" fill="#111" stroke="#111" stroke-width="0.18">0°</text>
<text x="19.4" y="81.6" font-size="7.9" text-anchor="end" fill="#111" stroke="#111" stroke-width="0.18">20°N</text>
<text x="19.4" y="53.8" font-size="7.9" text-anchor="end" fill="#111" stroke="#111" stroke-width="0.18">40°N</text>
<text x="19.4" y="25.9" font-size="7.9" text-anchor="end" fill="#111" stroke="#111" stroke-width="0.18">60°N</text>
</g>
<g id="map-b">
<path d="M27.5,278.8V462.8M69.2,278.8V462.8M110.8,278.8V462.8M152.5,278.8V462.8M194.1,278.8V462.8M235.8,278.8V462.8M277.5,278.8V462.8M319.1,278.8V462.8M360.8,278.8V462.8M402.5,278.8V462.8M444.1,278.8V462.8M485.8,278.8V462.8M527.5,278.8V462.8M27.5,454.4H527.5M27.5,426.5H527.5M27.5,398.7H527.5M27.5,370.8H527.5M27.5,342.9H527.5M27.5,315.1H527.5M27.5,287.2H527.5" fill="none" stroke="#b4b4b4" stroke-opacity="0.55" stroke-width="0.65" stroke-dasharray="2.6,1.25"/>
<path d="M344.8,329.0 344.1,329.7 344.4,330.1 344.8,331.0 344.7,331.0 343.7,331.0 343.4,330.4 342.1,330.3 339.5,330.1 335.9,327.5 333.6,326.3 331.9,326.0 328.9,326.9 330.2,328.3 329.6,329.0 328.5,329.2 327.5,330.1 326.1,329.9 326.1,329.7 325.9,329.8 325.9,329.7 325.1,327.3 325.0,327.2 325.4,326.8 326.1,325.1 326.8,323.7 327.3,322.7 327.2,322.0 327.3,320.7 327.4,320.8 327.7,320.9 328.3,320.4 328.4,319.5 329.0,319.7 331.5,319.7 334.0,319.1 336.3,319.1 337.9,318.9 339.7,319.0 340.5,320.6 341.8,320.9 340.9,322.7 340.5,323.5 341.5,324.7 343.9,326.5 343.7,327.6 344.8,329.0ZM348.0,335.3 348.7,334.4 349.0,335.3 349.0,336.9 348.6,336.5 348.0,336.3 347.8,335.7ZM329.1,342.2 329.4,344.6 330.9,345.7 332.0,347.8 332.7,349.2 334.4,350.2 336.5,352.3 337.6,353.4 337.5,354.2 337.7,354.8 337.5,354.8 336.9,355.6 337.2,357.4 338.6,358.3 342.7,359.7 344.1,359.7 340.0,363.9 338.2,364.0 337.0,364.8 335.7,365.3 334.1,364.9 332.3,366.0 330.4,365.8 328.7,364.6 327.3,364.4 324.7,364.9 325.2,365.6 326.1,368.2 325.4,369.3 324.6,370.7 324.6,372.2 320.3,372.3 320.3,374.0 319.8,374.1 320.2,375.4 319.1,376.8 318.3,377.0 318.6,379.9 320.2,382.2 320.5,382.8 323.2,383.9 324.6,384.0 325.1,384.3 325.5,386.1 326.0,386.9 325.7,388.4 325.9,389.6 327.2,391.1 327.3,392.3 326.5,393.4 326.5,394.7 326.2,394.3 325.2,393.5 325.1,392.8 325.5,392.1 325.4,390.9 324.1,391.1 323.6,390.3 319.4,391.6 319.7,392.5 319.7,393.1 320.9,393.1 323.2,394.1 323.3,395.0 322.9,397.1 323.3,398.4 322.6,399.5 322.5,400.5 320.9,402.0 318.2,401.7 316.8,402.3 314.8,403.8 312.9,406.5 309.7,406.1 309.0,406.3 307.6,408.2 306.4,408.1 305.2,405.3 305.2,410.4 301.6,410.8 300.4,410.7 300.4,410.6 299.4,409.8 298.3,407.7 297.6,404.9 297.6,402.6 296.2,400.1 295.2,398.4 293.9,396.2 293.9,394.8 295.5,394.5 296.9,395.0 303.2,395.0 307.2,395.9 310.0,395.3 308.0,393.4 308.0,388.9 310.8,388.9 310.8,386.0 308.3,386.3 307.7,384.0 307.7,381.0 305.7,380.6 304.6,380.6 304.4,381.9 301.8,382.1 300.9,380.7 300.5,379.0 295.8,379.0 294.6,379.2 294.6,379.2 294.4,378.8 295.2,378.9 295.7,377.2 294.8,377.2 294.0,377.7 292.8,376.3 292.9,376.3 294.0,375.5 293.6,374.1 294.8,373.7 295.5,374.1 297.3,374.0 297.5,373.4 297.6,371.5 296.8,370.5 297.6,369.7 297.3,368.9 295.8,369.0 295.9,367.7 297.6,367.9 299.8,368.4 300.0,367.7 299.8,366.8 298.3,364.9 297.6,363.4 297.7,362.2 299.0,360.4 298.9,360.2 296.8,357.4 297.2,356.9 299.0,356.9 298.4,355.7 298.3,353.9 297.6,353.0 297.1,352.5 296.4,351.7 295.7,352.1 295.5,352.0 295.2,352.4 294.8,352.6 291.4,352.3 289.3,352.6 287.1,352.7 285.1,351.5 283.3,352.0 283.2,352.8 282.5,354.5 282.5,356.6 281.2,358.3 281.3,359.9 281.2,362.0 281.2,362.0 280.9,362.0 279.1,362.5 279.1,362.3 278.4,361.6 278.2,360.5 278.2,359.2 278.0,357.6 277.7,356.3 277.3,355.3 273.6,355.5 273.7,357.6 274.0,359.4 273.0,361.3 273.7,363.0 273.2,363.7 271.2,363.6 269.1,364.1 267.0,364.7 267.1,362.7 265.7,361.7 265.7,360.3 265.9,360.2 266.8,359.1 265.9,357.6 266.4,356.6 265.9,356.2 265.9,355.4 264.6,353.4 262.6,354.2 261.6,353.5 261.6,352.8 260.5,350.7 260.5,350.2 259.7,349.6 258.7,348.4 257.5,347.6 255.9,347.7 254.6,348.4 254.5,348.4 254.6,348.2 254.6,345.7 255.0,343.9 254.6,342.2 253.9,341.5 253.9,341.5 254.0,341.1 259.4,341.1 259.4,338.8 260.8,338.1 260.8,334.6 265.4,334.6 265.4,332.2 265.5,330.8 268.4,329.6 270.2,329.0 272.5,327.7 273.3,326.6 275.8,325.7 275.1,324.4 275.0,322.7 274.4,321.9 275.8,321.3 277.5,320.9 280.2,319.8 283.0,319.4 285.8,319.4 287.9,319.2 289.4,319.1 289.4,319.3 288.9,319.9 289.0,321.6 287.9,323.3 289.0,325.5 290.0,326.1 290.7,328.7 291.2,331.4 291.1,333.9 290.5,334.4 291.7,336.5 294.1,338.0 296.2,338.6 297.2,339.3 298.3,338.8 299.7,338.1 310.8,343.6 310.8,342.9 312.2,342.9 312.2,340.1 328.9,340.1ZM303.2,311.7 301.8,310.9 300.4,310.2 298.6,309.2 297.6,307.8 296.4,308.1 296.4,307.5 296.7,307.3 296.4,306.9 296.1,306.4 296.5,306.0 294.7,305.7 294.4,305.2 292.7,305.7 292.0,305.5 291.5,305.9 290.4,306.0 290.0,306.9 289.2,306.1 288.4,306.8 287.3,306.8 286.9,306.2 285.8,306.5 285.9,306.2 287.2,304.7 288.0,304.5 289.4,304.2 290.7,304.5 291.6,304.9 292.7,304.8 294.4,304.3 295.5,304.6 295.2,303.8 296.6,302.9 294.8,301.6 294.3,300.7 295.5,300.5 297.3,299.7 298.0,300.0 298.3,299.3 297.7,298.2 297.1,297.2 297.3,295.7 297.3,295.7 300.4,294.9 303.2,294.6 304.6,295.0 304.7,294.9 304.7,294.9 309.1,295.1 309.1,294.1 307.1,293.8 306.8,293.8 306.6,292.4 307.3,290.8 308.9,290.4 309.8,291.4 311.2,291.0 311.5,289.6 310.1,289.2 310.1,288.2 313.6,287.8 316.4,287.9 316.4,287.9 316.4,288.0 315.5,288.9 315.7,289.7 315.9,290.2 315.5,290.6 316.1,291.0 316.0,291.5 316.6,292.1 316.6,292.6 318.3,293.1 320.5,293.3 320.2,294.4 321.6,295.6 322.9,296.3 322.3,296.7 321.1,296.7 321.6,298.2 324.4,297.9 325.2,298.7 326.6,299.7 326.9,300.6 329.6,300.7 331.5,301.3 333.2,301.7 332.7,303.1 333.0,304.1 331.4,304.1 330.6,305.2 330.5,305.2 328.4,305.7 326.1,306.4 326.8,307.4 328.4,307.4 328.6,307.4 328.3,307.8 328.4,308.0 328.3,308.0 326.5,308.1 324.7,308.9 324.0,308.1 322.7,307.5 324.0,306.6 321.9,306.2 320.2,306.0 318.7,307.4 317.3,308.8 317.2,310.2 316.2,311.2 316.3,312.3 315.7,312.2 314.1,312.7 312.6,313.3 311.5,312.9 309.3,313.2 308.0,313.5 306.6,313.9 305.9,313.3 306.1,312.3 304.4,312.4 304.1,312.3ZM346.2,314.0 347.2,314.7 345.9,315.8 345.4,317.2 345.4,317.2 345.4,317.2 344.1,316.7 344.6,315.9 344.1,315.5 342.1,316.6 340.6,316.5 339.7,315.5 338.2,314.8 337.8,313.5 336.6,312.9 335.2,313.0 335.1,312.9 335.2,311.6 333.3,310.4 336.5,310.6 338.3,311.4 340.2,311.3 341.9,312.4 342.2,312.6 343.9,313.4 345.0,312.5 345.0,312.5ZM351.8,316.5 351.1,315.1 352.2,313.7 350.8,313.0 350.7,312.5 352.5,311.9 354.4,313.3 355.2,313.3 355.2,308.1 358.9,307.3 362.2,308.9 363.6,310.2 367.6,309.9 369.3,310.9 369.1,311.7 369.8,312.4 371.9,313.7 372.0,314.0 373.3,313.1 375.0,312.3 376.0,311.9 376.4,311.2 379.5,311.7 379.5,310.9 380.7,310.6 382.7,311.0 387.2,311.2 388.9,312.2 385.8,313.6 384.3,313.7 383.6,314.5 381.5,314.4 380.0,315.6 379.7,315.9 380.1,317.2 381.5,317.3 381.5,318.9 380.9,319.0 381.2,319.0 380.9,319.2 378.3,319.5 376.4,320.6 377.0,321.4 376.2,322.9 374.5,323.4 375.1,324.3 374.0,324.8 373.7,326.4 371.6,327.1 369.7,327.7 369.5,329.1 366.6,329.7 364.3,329.8 362.0,329.2 363.3,327.8 362.0,326.9 361.6,324.7 361.6,323.0 362.5,321.2 362.3,319.8 361.3,319.7 359.8,318.6 357.1,317.6 355.7,317.7 354.4,317.9 353.6,318.7 352.3,318.8 352.1,318.5ZM322.3,322.0 323.3,321.6 325.5,321.2 324.7,322.0 323.3,322.6ZM309.8,290.0 308.0,290.0 308.0,289.2 309.8,289.2ZM505.2,398.8 507.5,400.4 506.9,400.8 505.2,399.4ZM159.4,350.5 159.8,350.3 160.6,350.2 159.0,350.7ZM354.8,340.1 354.2,339.5 354.8,339.5ZM363.0,330.5 364.7,331.4 364.7,332.8 365.4,332.9 365.2,333.7 363.6,334.2 363.6,331.8 362.0,329.2ZM446.8,296.4 449.1,296.2 451.9,296.9 453.2,298.1 453.4,298.6ZM462.7,307.1 463.9,305.3 463.4,306.3 462.9,307.1Z" fill="#e2e2e2" stroke="#fff" stroke-width="0.35" stroke-linejoin="round"/>
<path d="M146.1,302.8 148.3,303.1 150.4,303.8 153.2,303.9 154.7,303.5 159.7,305.5 160.1,306.0 161.5,306.7 161.5,307.0 162.9,307.7 163.0,310.9 162.1,312.3 162.9,312.7 167.8,311.6 167.8,310.5 170.8,310.1 171.5,309.2 173.3,308.1 178.2,308.1 179.8,306.3 181.4,304.8 183.0,304.9 183.3,307.0 184.4,308.4 181.6,309.5 179.6,310.5 179.3,311.6 180.3,312.7 177.5,313.7 174.7,314.4 174.7,315.5 172.6,317.9 171.9,319.2 172.6,321.6 171.2,322.5 169.1,323.6 167.1,324.8 165.0,326.2 164.4,328.3 165.5,331.1 166.4,333.5 165.9,335.5 164.7,335.7 163.6,333.9 162.6,331.8 161.5,329.7 160.1,329.0 158.0,328.4 155.3,328.4 153.9,328.7 153.2,330.1 151.1,330.1 148.3,329.3 146.2,329.7 144.1,330.8 142.3,332.5 142.5,334.7 140.0,334.0 139.3,332.5 136.5,329.3 135.1,329.3 134.1,330.4 132.3,329.6 129.6,326.5 127.2,326.5 127.2,327.2 123.3,327.2 118.2,325.5 118.2,325.2 114.7,325.5 112.9,323.4 110.0,322.7 108.2,319.9 107.3,318.3 105.5,316.0 104.8,314.7 104.6,310.9 105.0,306.7 104.3,303.4 104.7,303.4 107.3,303.6 106.6,302.6 106.6,302.5 145.3,302.5 145.3,302.0ZM186.4,310.0 185.5,309.9 185.8,309.6ZM35.8,298.2 41.4,297.2 41.4,297.7 35.8,298.6 30.3,299.2 30.3,298.8ZM93.2,296.1 92.8,295.4 94.4,295.6ZM66.0,290.0 66.1,290.8 63.6,291.7 62.9,290.7ZM89.4,287.6 92.1,289.3 94.4,291.8 96.9,292.8 96.9,293.9 96.2,294.7 96.2,294.7 95.5,294.2 93.5,292.8 91.4,291.0 88.6,289.7 86.5,289.2 83.7,287.5 81.0,287.2 77.5,287.2 74.7,286.1 71.9,286.5 69.8,287.5 67.1,288.2 69.2,285.5 66.4,286.1 64.6,287.9 63.6,289.3 60.8,290.7 58.0,292.1 55.3,293.5 52.5,294.2 48.6,294.7 48.3,295.1 44.2,296.3 42.8,297.1 42.8,296.7 44.2,295.7 48.3,294.6 50.1,294.2 51.1,293.9 53.9,292.8 57.3,290.7 58.7,289.0 56.7,288.9 52.8,289.0 52.5,287.5 49.7,287.2 47.6,285.8 46.9,284.4 49.0,283.0 53.9,282.3 53.9,281.1 51.1,280.9 46.2,280.8 44.2,279.4 44.2,278.8 81.6,278.8 81.6,286.8 84.3,287.1 86.5,288.7 87.9,287.9ZM45.1,286.9 47.2,286.8 47.2,287.5 45.1,287.5ZM41.6,283.0 42.0,282.5 43.0,282.6 42.1,283.0ZM62.2,343.4 61.5,344.5 60.8,343.6 60.8,342.7ZM60.4,342.1 59.8,341.5 60.8,341.7ZM57.6,340.7 58.5,340.8 58.0,341.3Z" fill="#b7ceb1" stroke="#fff" stroke-width="0.35" stroke-linejoin="round"/>
<path d="M106.0,303.4 103.2,302.8 99.7,300.4 101.1,300.0 103.9,301.1 105.5,302.5ZM94.4,295.6 95.5,298.1 93.7,297.0 93.2,296.1 94.4,295.6ZM146.0,287.2 146.2,289.0 149.7,291.4 155.3,292.1 159.4,293.8 163.2,294.2 163.6,297.7 165.7,299.5 167.1,299.3 167.8,298.3 167.1,294.9 171.2,293.5 171.2,291.4 168.4,289.0 169.8,286.5 169.1,283.9 174.7,284.1 177.5,284.7 180.9,285.8 180.3,288.6 183.0,289.3 186.5,287.9 187.9,286.8 190.7,289.3 192.1,291.4 194.1,293.5 196.9,294.4 199.7,296.3 200.1,298.2 198.3,299.0 196.2,299.5 194.1,300.9 188.6,300.7 184.4,301.1 182.3,302.5 180.9,303.6 179.6,305.3 181.6,303.9 184.4,302.8 186.5,302.2 188.2,302.8 187.2,304.2 187.5,305.3 188.6,306.7 191.4,306.8 193.4,305.3 194.1,306.7 192.8,307.7 189.3,308.7 187.2,310.1 186.4,310.0 185.8,309.6 187.2,307.8 185.8,308.0 184.4,308.4 183.3,307.0 183.0,304.9 181.4,304.8 179.8,306.3 178.2,308.1 173.3,308.1 171.5,309.2 170.8,310.1 167.8,310.5 167.8,311.6 162.9,312.7 162.1,312.3 163.0,310.9 162.9,307.7 161.5,307.0 161.5,306.7 160.1,306.0 159.7,305.5 154.7,303.5 153.2,303.9 150.4,303.8 148.3,303.1 146.1,302.8 145.3,302.0 145.3,302.5 106.6,302.5 106.6,302.6 106.4,302.2 103.9,301.1 100.4,299.7 99.0,297.4 96.6,295.1 96.2,294.7 96.2,294.7 96.9,293.9 96.9,292.8 94.4,291.8 92.1,289.3 89.4,287.6 87.9,287.9 86.5,288.7 84.3,287.1 81.6,286.8 81.6,278.8 157.1,278.8 157.3,279.5 156.6,280.2 155.3,281.6 151.8,282.3 149.7,284.4ZM162.9,284.1 162.2,283.2 164.3,283.2 165.7,284.0ZM156.6,280.2 158.7,278.8 161.5,279.4 165.0,280.9 165.9,282.0 162.9,282.2 160.8,282.7 158.0,282.0 156.6,281.6ZM190.7,306.7 188.6,306.3 188.2,305.7 191.4,306.2ZM195.3,304.5 195.5,303.2 197.6,300.4 199.0,299.0 200.4,301.1 203.2,302.8 204.3,304.3 203.9,305.7 199.7,305.6ZM191.4,302.0 191.8,302.4 188.9,302.1 188.0,301.4ZM167.8,293.1 166.4,293.1 166.4,291.9 167.8,291.9ZM165.9,285.0 165.9,284.1 167.1,284.1 167.1,285.0ZM191.4,278.8 191.4,279.4 188.6,280.9 187.2,282.3 185.8,283.0 187.5,283.7 185.8,284.6 183.0,284.1 178.9,283.4 176.1,283.0 171.9,282.3 169.1,281.6 169.8,280.2 174.7,279.5 173.8,278.8Z" fill="#90ee90" stroke="#fff" stroke-width="0.35" stroke-linejoin="round"/>
<path d="M141.8,336.7 141.6,339.5 142.3,341.5 143.5,343.2 144.4,344.6 146.2,345.4 148.3,345.2 150.4,344.9 151.5,343.6 151.9,341.5 153.9,341.1 156.4,340.8 156.6,341.5 156.0,343.6 154.8,345.0 153.7,346.0 151.1,346.0 151.1,346.8 151.9,347.9 151.9,348.4 150.0,348.4 149.4,349.6 149.4,350.5 149.3,350.5 146.2,348.2 144.1,348.8 141.4,348.2 138.6,347.1 135.8,345.7 132.3,344.3 131.0,342.2 131.0,340.1 129.6,338.1 127.5,336.0 125.4,334.6 124.0,332.5 122.6,331.1 121.2,329.0 120.5,327.3 118.0,326.6 118.2,328.3 119.8,330.4 120.8,332.1 122.6,334.2 124.0,336.7 125.5,338.3 124.7,338.9 123.0,337.2 121.6,336.0 119.8,333.7 118.0,332.2 118.9,331.8 117.1,329.7 115.7,327.6 114.7,325.5 118.2,325.2 118.2,325.5 123.3,327.2 127.2,327.2 127.2,326.5 129.6,326.5 132.3,329.6 134.1,330.4 135.1,329.3 136.5,329.3 139.3,332.5 140.0,334.0 142.5,334.7Z" fill="#b7ceb1" stroke="#fff" stroke-width="0.35" stroke-linejoin="round"/>
<path d="M205.3,281.6 203.2,278.8 227.7,278.8 224.7,279.5 221.2,281.6 219.1,284.4 217.8,286.9 215.0,287.2 210.8,285.8 208.0,284.4Z" fill="#e2e2e2" stroke="#fff" stroke-width="0.35" stroke-linejoin="round"/>
<path d="M153.6,348.6 154.0,348.6 154.8,348.9 154.9,348.9 153.6,350.0 153.4,350.7 152.4,351.6 152.3,351.6 150.4,351.3 149.4,350.5 149.4,349.6 150.0,348.4 151.9,348.4 151.9,347.9 151.1,346.8 151.1,346.0 153.7,346.0Z" fill="#90ee90" stroke="#fff" stroke-width="0.35" stroke-linejoin="round"/>
<path d="M155.1,346.4 154.0,348.6 153.6,348.6 153.7,346.0 154.8,345.0Z" fill="#3cb371" stroke="#fff" stroke-width="0.35" stroke-linejoin="round"/>
<path d="M154.6,351.3 155.6,351.4 155.6,352.5 155.5,352.4 153.9,352.3 152.4,351.6 152.4,351.6 153.4,350.7 153.4,350.7Z" fill="#90ee90" stroke="#fff" stroke-width="0.35" stroke-linejoin="round"/>
<path d="M158.0,348.6 160.1,348.8 161.9,349.9 161.9,349.9 159.8,350.3 159.4,350.5 158.0,351.3 156.9,351.6 157.1,352.3 156.2,352.8 155.8,352.8 155.5,352.4 155.6,352.5 155.6,351.4 154.6,351.3 153.4,350.7 153.4,350.7 153.6,350.0 154.9,348.9 154.8,348.9Z" fill="#006400" stroke="#fff" stroke-width="0.35" stroke-linejoin="round"/>
<path d="M161.5,352.7 161.2,355.5 161.3,355.6 161.3,355.6 159.8,355.4 159.6,355.5 158.4,355.4 158.1,355.5 157.3,354.4 156.0,353.0 155.8,352.8 156.2,352.8 157.1,352.3 156.9,351.6 158.0,351.3 159.0,350.7 160.6,350.2 161.9,349.9 161.9,349.9Z" fill="#228b22" stroke="#fff" stroke-width="0.35" stroke-linejoin="round"/>
<path d="M162.8,357.4 162.8,357.5 162.8,357.5 162.3,358.1 162.3,359.3 162.3,359.5 161.2,358.8 159.8,357.4 158.4,357.0 158.3,355.8 158.1,355.5 158.4,355.4 159.6,355.5 159.8,355.4 161.3,355.6 161.3,355.6 161.2,355.5Z" fill="#228b22" stroke="#fff" stroke-width="0.35" stroke-linejoin="round"/>
<path d="M165.0,358.5 166.9,357.4 169.1,357.8 170.0,358.7 170.3,359.8 169.8,360.2 168.9,359.7 168.4,358.3 166.8,358.7 165.7,360.6 164.3,360.2 163.6,359.4 162.3,359.5 162.3,359.5 162.3,359.3 162.3,358.1 162.8,357.5 162.8,357.5 162.8,357.4Z" fill="#228b22" stroke="#fff" stroke-width="0.35" stroke-linejoin="round"/>
<path d="M165.7,340.6 163.6,340.0 161.5,340.3 159.6,340.4 161.9,338.6 165.0,338.3 167.3,339.0 170.1,340.1 172.6,341.4 174.6,342.5 173.3,343.2 169.6,343.4 170.0,342.2 168.3,341.5Z" fill="#228b22" stroke="#fff" stroke-width="0.35" stroke-linejoin="round"/>
<path d="M176.8,345.4 174.1,345.2 174.1,344.9 176.8,344.9 176.8,344.3 175.7,343.4 176.4,343.1 177.8,343.2 177.8,345.6 177.8,345.6Z" fill="#90ee90" stroke="#fff" stroke-width="0.35" stroke-linejoin="round"/>
<path d="M177.9,343.2 180.3,343.2 180.9,343.9 182.5,344.5 182.3,345.3 180.3,345.2 178.9,345.4 177.8,345.6 177.8,343.2Z" fill="#90ee90" stroke="#fff" stroke-width="0.35" stroke-linejoin="round"/>
<path d="M168.7,345.3 168.7,345.2 170.5,345.0 171.6,345.7 170.5,346.0Z" fill="#90ee90" stroke="#fff" stroke-width="0.35" stroke-linejoin="round"/>
<path d="M169.4,335.8 169.7,337.1 169.1,337.1 168.7,336.0ZM170.0,334.3 169.8,333.3 170.5,333.9 170.5,334.6ZM167.8,333.9 167.8,333.6 169.4,333.6 169.4,333.9Z" fill="#90ee90" stroke="#fff" stroke-width="0.35" stroke-linejoin="round"/>
<path d="M191.8,355.9 192.9,355.8 192.8,356.7 191.5,356.7Z" fill="#90ee90" stroke="#fff" stroke-width="0.35" stroke-linejoin="round"/>
<path d="M170.0,358.7 170.1,358.8 170.8,359.7 171.9,357.8 172.6,356.2 173.6,355.3 175.7,355.1 177.2,353.8 177.9,353.5 178.3,354.3 177.5,354.6 176.8,355.3 176.1,356.9 176.2,358.1 176.9,359.1 176.9,360.5 177.5,361.0 179.3,360.9 180.3,361.1 181.1,362.3 183.8,362.2 183.3,363.4 183.2,364.5 184.0,366.1 183.3,366.9 184.1,367.6 184.6,369.1 184.3,368.4 183.2,368.4 182.8,368.0 180.5,368.4 180.5,369.3 181.4,369.4 181.0,369.8 180.2,370.0 180.2,371.0 180.8,371.5 181.1,372.3 180.3,376.7 179.3,376.1 180.1,374.6 177.5,374.1 175.8,373.3 174.3,372.1 173.0,370.9 172.5,370.7 171.5,370.2 170.0,370.2 169.6,369.7 168.6,369.1 168.0,368.8 168.4,367.3 169.8,367.2 170.3,365.4 169.8,363.1 170.1,361.3 169.3,360.8 169.8,360.2 169.8,360.2 170.3,359.8Z" fill="#228b22" stroke="#fff" stroke-width="0.35" stroke-linejoin="round"/>
<path d="M169.4,374.9 168.7,375.5 168.2,377.2 167.8,377.8 167.1,377.7 165.7,376.9 165.9,375.5 166.6,374.3 165.1,373.9 165.1,372.2 166.4,370.7 166.4,369.7 168.0,368.8 168.0,368.8 168.6,369.1 169.6,369.7 170.0,370.2 171.5,370.2 172.5,370.7 173.0,370.9 172.5,373.0 171.1,374.4ZM151.4,371.2 151.4,372.2 150.3,372.2 150.3,371.2Z" fill="#228b22" stroke="#fff" stroke-width="0.35" stroke-linejoin="round"/>
<path d="M177.5,377.2 176.2,378.0 175.8,379.3 175.1,380.4 174.7,381.1 175.1,381.8 176.1,383.3 177.1,384.2 177.2,384.7 179.4,384.0 179.4,386.1 180.8,386.1 182.1,388.2 181.8,388.8 181.6,390.7 181.2,391.7 181.1,392.5 181.6,393.4 180.8,394.9 180.9,395.2 179.7,396.4 179.7,396.3 178.3,395.0 175.4,393.5 173.0,392.1 171.4,390.0 170.3,387.5 168.9,384.7 167.8,382.2 166.5,380.4 164.7,379.2 164.6,377.2 165.9,375.5 165.7,376.9 167.1,377.7 167.8,377.8 168.2,377.2 168.7,375.5 169.4,374.9 171.1,374.4 172.5,373.0 173.0,370.9 174.3,372.1 175.8,373.3 177.5,374.1 180.1,374.6 179.3,376.1 180.3,376.7 179.1,376.7Z" fill="#90ee90" stroke="#fff" stroke-width="0.35" stroke-linejoin="round"/>
<path d="M182.8,368.0 183.2,368.4 184.3,368.4 184.6,369.1 181.3,368.3ZM192.5,362.3 192.2,362.6 193.2,363.6 192.1,364.7 190.4,365.2 188.6,365.1 187.6,364.9 188.3,365.8 188.6,367.3 189.4,367.6 188.6,368.2 186.5,369.8 185.4,369.8 184.6,369.1 184.1,367.6 183.3,366.9 184.0,366.1 183.2,364.5 183.3,363.4 183.8,362.2 181.1,362.3 180.3,361.1 179.3,360.9 177.5,361.0 176.9,360.5 176.9,359.1 176.2,358.1 176.1,356.9 176.8,355.3 177.5,354.6 178.3,354.3 177.9,353.5 178.3,354.4 178.0,355.6 178.4,355.5 179.8,354.8 180.3,353.8 180.9,354.8 182.5,355.2 182.8,356.0 185.5,356.0 187.3,356.7 188.2,356.4 188.9,356.0 190.5,356.0 191.4,355.9 191.4,356.1 191.5,355.9 190.9,356.9 191.9,357.0 193.0,357.7 194.1,359.0 193.2,360.2 193.7,360.9 192.6,361.5Z" fill="#3cb371" stroke="#fff" stroke-width="0.35" stroke-linejoin="round"/>
<path d="M195.5,359.7 196.2,361.0 198.0,362.4 198.1,362.4 198.1,362.5 197.9,363.4 197.1,364.1 196.9,365.2 197.5,366.1 197.9,366.2 199.0,368.1 197.6,368.4 195.8,369.1 194.6,368.4 194.2,367.0 194.8,365.4 194.5,364.7 194.0,364.5 193.9,363.6 193.2,363.6 192.2,362.6 192.5,362.3 192.6,361.5 193.7,360.9 193.2,360.2 194.1,359.0Z" fill="#006400" stroke="#fff" stroke-width="0.35" stroke-linejoin="round"/>
<path d="M201.9,364.9 202.5,365.8 202.2,366.8 201.6,367.5 200.9,367.2 199.8,367.3 199.7,368.2 199.0,368.1 197.9,366.2 197.5,366.1 196.9,365.2 197.1,364.1 197.9,363.4 198.1,362.5 198.1,362.4 199.8,362.6 202.5,362.7 201.8,363.8Z" fill="#006400" stroke="#fff" stroke-width="0.35" stroke-linejoin="round"/>
<path d="M204.4,367.3 203.9,367.7 202.8,367.6 201.6,367.5 202.2,366.8 202.5,365.8 201.9,364.9 201.8,363.8 202.5,362.7 204.0,363.4 205.7,364.9 205.7,365.0 205.4,365.5 204.7,366.5Z" fill="#696969" stroke="#fff" stroke-width="0.35" stroke-linejoin="round"/>
<path d="M182.6,386.1 185.0,384.6 186.6,384.3 186.8,385.8 186.7,387.1 188.0,388.1 189.8,388.4 190.3,388.9 191.6,389.6 193.4,390.0 193.8,391.8 193.9,393.4 196.4,393.5 196.4,394.8 197.3,395.3 197.6,396.2 197.2,397.3 196.7,398.4 196.7,398.9 195.4,397.7 194.1,397.7 191.7,398.2 191.0,399.4 190.5,401.8 190.3,401.5 188.7,401.5 188.2,402.6 187.3,401.6 186.9,401.6 185.5,401.2 184.1,402.6 183.2,402.6 182.8,400.8 182.0,399.2 182.4,397.8 181.6,397.3 181.5,396.2 180.9,395.2 180.8,394.9 181.6,393.4 181.1,392.5 181.2,391.7 181.6,390.7 181.8,388.8 182.1,388.2 180.8,386.1 181.9,386.1Z" fill="#e2e2e2" stroke="#fff" stroke-width="0.35" stroke-linejoin="round"/>
<path d="M191.7,398.2 194.1,397.7 195.4,397.7 196.7,398.9 197.1,399.8 197.0,401.6 198.4,401.8 199.9,401.9 200.3,402.4 200.5,404.2 201.6,404.0 202.1,404.3 201.6,406.4 201.4,407.9 199.8,408.9 199.1,409.2 197.9,409.0 196.1,408.8 197.4,406.1 196.2,405.4 194.8,404.7 193.4,404.2 192.3,403.7 190.5,401.8 191.0,399.4Z" fill="#e2e2e2" stroke="#fff" stroke-width="0.35" stroke-linejoin="round"/>
<path d="M199.7,413.7 200.3,413.8 201.6,414.6 202.9,415.5 203.6,416.4 203.2,416.9 203.3,417.8 201.2,419.4 199.3,419.4 196.5,418.2 196.8,418.6 196.3,418.2 196.6,416.8 196.8,415.4 197.1,414.0 197.5,412.9 198.6,412.7Z" fill="#e2e2e2" stroke="#fff" stroke-width="0.35" stroke-linejoin="round"/>
<path d="M180.9,448.3 178.2,447.4 176.1,446.3 178.6,445.9 179.6,444.4 182.2,444.2 182.2,447.3 184.9,447.7 183.7,448.3ZM182.0,399.2 182.8,400.8 183.2,402.6 184.1,402.6 184.4,402.8 184.0,404.2 182.6,404.9 182.3,405.9 182.6,408.3 181.5,409.5 180.7,410.4 180.3,411.6 180.4,413.0 179.6,414.3 179.8,415.4 180.3,417.2 180.5,418.5 179.6,419.8 179.7,421.2 178.7,422.1 178.7,423.7 179.0,424.7 178.0,426.0 177.6,427.5 177.8,429.3 177.3,430.0 177.9,431.5 178.0,432.8 178.4,434.2 177.8,435.7 177.1,436.7 176.9,438.4 175.8,439.5 175.9,441.4 177.1,441.4 177.1,442.7 177.6,443.3 180.3,443.3 182.1,443.7 180.9,443.7 179.0,444.5 178.2,445.9 174.7,444.1 173.0,441.9 172.3,438.7 172.5,435.9 173.9,433.5 174.0,431.5 174.1,429.7 175.8,429.3 174.7,428.6 175.1,425.8 175.4,422.6 176.5,420.3 177.9,417.5 178.2,414.0 178.3,411.2 179.0,408.4 179.6,405.6 179.8,402.1 180.1,398.7 179.7,396.3 179.7,396.4 180.9,395.2 181.5,396.2 181.6,397.3 182.4,397.8Z" fill="#90ee90" stroke="#fff" stroke-width="0.35" stroke-linejoin="round"/>
<path d="M183.7,445.8 186.9,447.0 185.1,447.6 184.9,447.7 182.2,447.3 182.2,444.2 182.8,444.5ZM202.9,408.3 202.1,409.0 201.0,409.6 200.0,410.2 199.1,411.2 197.9,412.3 197.5,412.9 197.1,414.0 196.8,415.4 196.6,416.8 196.3,418.2 196.8,418.6 198.0,420.0 197.9,421.4 198.7,422.1 197.3,423.7 195.5,424.7 191.4,425.1 190.9,427.2 187.2,427.9 187.2,430.0 189.0,430.3 186.8,431.7 186.5,433.5 183.7,434.9 185.1,436.3 186.1,437.5 183.7,439.8 181.6,441.2 182.5,443.7 182.1,443.7 180.3,443.3 177.6,443.3 177.1,442.7 177.1,441.4 175.9,441.4 175.8,439.5 176.9,438.4 177.1,436.7 177.8,435.7 178.4,434.2 178.0,432.8 177.9,431.5 177.3,430.0 177.8,429.3 177.6,427.5 178.0,426.0 179.0,424.7 178.7,423.7 178.7,422.1 179.7,421.2 179.6,419.8 180.5,418.5 180.3,417.2 179.8,415.4 179.6,414.3 180.4,413.0 180.3,411.6 180.7,410.4 181.5,409.5 182.6,408.3 182.3,405.9 182.6,404.9 184.0,404.2 184.4,402.8 184.1,402.6 185.5,401.2 186.9,401.6 187.3,401.6 188.2,402.6 188.7,401.5 190.3,401.5 190.5,401.8 192.3,403.7 193.4,404.2 194.8,404.7 196.2,405.4 197.4,406.1 196.1,408.8 197.9,409.0 199.1,409.2 199.8,408.9 201.4,407.9 201.6,406.4 202.7,406.5 203.0,407.4Z" fill="#b7ceb1" stroke="#fff" stroke-width="0.35" stroke-linejoin="round"/>
<path d="M192.8,443.5 192.8,442.4 197.2,442.4 197.2,443.5Z" fill="#e2e2e2" stroke="#fff" stroke-width="0.35" stroke-linejoin="round"/>
<path d="M206.6,365.4 208.0,368.3 208.0,370.5 210.8,371.8 213.6,372.2 215.7,374.3 219.1,374.7 221.9,374.7 224.0,376.0 226.1,377.6 228.4,378.2 229.1,381.0 228.6,383.6 226.8,385.4 225.4,387.1 224.0,388.9 223.3,391.4 223.3,394.5 222.3,396.6 221.5,399.1 220.5,401.5 219.1,402.8 215.7,403.1 213.2,404.2 210.8,406.1 210.0,407.7 209.8,410.2 208.0,412.3 206.4,414.3 204.8,416.1 203.3,417.8 203.3,417.8 203.2,416.9 203.6,416.4 202.9,415.5 201.6,414.6 200.3,413.8 199.7,413.7 198.6,412.7 197.5,412.9 197.9,412.3 199.1,411.2 200.0,410.2 201.0,409.6 202.1,409.0 202.9,408.3 203.0,407.4 202.7,406.5 201.6,406.4 202.1,404.3 201.6,404.0 200.5,404.2 200.3,402.4 199.9,401.9 198.4,401.8 197.0,401.6 197.1,399.8 196.7,398.9 196.7,398.4 197.2,397.3 197.6,396.2 197.3,395.3 196.4,394.8 196.4,393.5 193.9,393.4 193.8,391.8 193.4,390.0 191.6,389.6 190.3,388.9 189.8,388.4 188.0,388.1 186.7,387.1 186.8,385.8 186.6,384.3 185.0,384.6 182.6,386.1 181.9,386.1 180.8,386.1 179.4,386.1 179.4,384.0 177.2,384.7 177.1,384.2 176.1,383.3 175.1,381.8 174.7,381.1 175.1,380.4 175.8,379.3 176.2,378.0 177.5,377.2 179.1,376.7 180.3,376.7 181.1,372.3 180.8,371.5 180.2,371.0 180.2,370.4 180.2,370.4 180.2,370.0 181.0,369.8 181.4,369.4 180.5,369.3 180.5,368.4 181.3,368.3 184.6,369.1 185.4,369.8 186.5,369.8 188.6,368.2 189.4,367.6 188.6,367.3 188.3,365.8 187.6,364.9 188.6,365.1 190.4,365.2 192.1,364.7 193.2,363.6 193.9,363.6 194.0,364.5 194.5,364.7 194.8,365.4 194.2,367.0 194.6,368.4 195.8,369.1 197.6,368.4 199.0,368.1 199.7,368.2 199.8,367.3 200.9,367.2 201.4,367.4 201.4,367.5 201.6,367.5 202.8,367.6 203.9,367.7 204.4,367.3 204.7,366.5 205.4,365.5 205.7,365.0Z" fill="#228b22" stroke="#fff" stroke-width="0.35" stroke-linejoin="round"/>
<path d="M243.7,279.5 245.7,278.8 257.2,278.8 258.6,280.1 256.6,281.2 251.8,282.5 248.3,281.9 245.9,281.6 246.9,280.9 244.1,280.4Z" fill="#90ee90" stroke="#fff" stroke-width="0.35" stroke-linejoin="round"/>
<path d="M267.5,293.8 269.1,293.9 269.8,295.0 268.7,295.4 268.7,295.4 268.3,295.5 267.1,295.4 266.2,294.9 266.5,294.6 267.3,294.2ZM269.6,293.3 269.1,293.2 269.8,292.1 269.4,290.7 270.5,289.2 273.3,289.2 271.9,290.4 274.7,290.5 273.3,292.8 274.7,292.8 275.4,294.2 277.2,294.9 277.5,296.1 277.9,297.0 279.8,297.4 278.2,299.0 279.4,299.5 276.1,300.2 272.6,300.7 269.6,301.0 271.5,299.6 272.6,299.5 273.3,299.2 270.2,298.6 271.6,297.7 271.2,296.5 273.3,296.5 273.3,295.7 272.6,294.4 270.5,294.4 270.8,293.8 270.5,293.7Z" fill="#90ee90" stroke="#fff" stroke-width="0.35" stroke-linejoin="round"/>
<path d="M269.1,293.9 267.5,293.8 267.3,294.2 266.5,294.6 266.2,294.9 267.1,295.4 268.3,295.5 268.7,295.4 269.1,296.5 268.7,298.1 266.4,298.6 263.6,298.9 263.2,298.1 264.3,296.7 263.6,295.3 265.7,295.0 265.9,294.0 267.3,293.8Z" fill="#90ee90" stroke="#fff" stroke-width="0.35" stroke-linejoin="round"/>
<path d="M287.2,290.0 285.1,288.6 284.4,287.2 284.4,284.4 287.2,283.3 290.7,282.0 292.7,280.5 294.8,278.8 297.7,278.8 297.6,279.8 296.4,280.8 297.1,281.0 296.8,281.6 295.1,281.6 294.1,282.6 294.6,284.1 294.3,284.8 295.4,285.3 294.4,285.8 294.8,286.9 293.6,287.8 293.4,288.7 292.9,288.9 292.7,288.6 291.8,288.3 289.4,289.6 288.7,289.8Z" fill="#e2e2e2" stroke="#fff" stroke-width="0.35" stroke-linejoin="round"/>
<path d="M294.8,292.8 294.8,293.9 293.0,293.9 292.7,293.2ZM288.7,293.3 288.9,291.7 290.7,291.1 292.1,290.5 292.5,292.1 292.1,293.5 292.0,293.6 292.5,293.6 292.2,294.2 291.5,294.1 291.2,294.4 291.2,294.4 289.4,294.4 289.4,294.3Z" fill="#90ee90" stroke="#fff" stroke-width="0.35" stroke-linejoin="round"/>
<path d="M318.6,278.8 319.1,279.3 318.7,280.5 319.8,281.4 319.1,282.0 321.2,283.2 319.1,284.7 317.5,285.7 316.1,286.4 315.9,286.5 312.2,286.9 309.1,287.3 307.2,285.8 307.1,283.7 308.7,282.6 311.5,281.2 312.7,280.2 311.0,279.2 311.0,279.2 311.0,278.8Z" fill="#b7ceb1" stroke="#fff" stroke-width="0.35" stroke-linejoin="round"/>
<path d="M303.4,291.4 302.7,291.1 302.7,290.1 303.9,290.3ZM306.4,281.8 304.6,282.5 302.5,283.3 301.4,284.4 301.5,286.1 303.2,286.8 303.6,287.8 301.4,289.0 300.7,290.1 300.5,291.0 299.7,292.5 298.0,292.6 297.3,293.5 295.5,293.6 295.1,292.5 294.6,291.7 293.2,289.6 292.9,288.9 293.4,288.7 293.6,287.8 294.8,286.9 294.4,285.8 295.4,285.3 294.3,284.8 294.6,284.1 294.1,282.6 295.1,281.6 296.8,281.6 297.1,281.0 296.4,280.8 297.6,279.8 297.7,278.8 311.0,278.8 311.0,279.2 311.0,279.2 311.0,279.2 311.0,279.2 310.8,279.1 308.4,279.1 307.5,279.8 307.3,280.8Z" fill="#b7ceb1" stroke="#fff" stroke-width="0.35" stroke-linejoin="round"/>
<path d="M297.1,297.2 297.7,298.2 298.3,299.3 298.0,300.0 297.3,299.7 295.5,300.5 294.3,300.7 294.8,301.6 296.6,302.9 295.2,303.8 295.5,304.6 294.4,304.3 292.7,304.8 291.6,304.9 290.7,304.5 289.4,304.2 288.0,304.5 288.9,302.6 286.3,301.9 286.5,301.4 285.9,301.0 286.4,300.7 285.8,300.1 286.1,299.2 285.7,298.6 286.8,298.5 287.3,297.5 287.5,296.5 287.2,296.3 289.8,295.7 289.4,294.4 291.2,294.4 291.2,294.4 291.2,294.4 292.5,295.0 292.7,295.6 295.5,295.0 297.2,295.7 297.3,295.7 297.3,295.7Z" fill="#b7ceb1" stroke="#fff" stroke-width="0.35" stroke-linejoin="round"/>
<path d="M286.8,298.5 285.7,298.6 286.1,299.2 285.8,300.1 285.4,300.1 285.5,299.5 284.4,299.1 283.4,299.3 282.2,299.3 282.1,299.2 282.2,299.2 283.0,298.3 284.0,297.1 284.4,296.4 287.2,296.3 287.5,296.5 287.3,297.5Z" fill="#b7ceb1" stroke="#fff" stroke-width="0.35" stroke-linejoin="round"/>
<path d="M284.4,299.1 285.5,299.5 285.4,300.1 285.8,300.1 286.4,300.7 285.9,301.0 286.5,301.4 286.3,301.9 285.5,301.8 285.1,301.8 284.2,300.9 283.3,301.2 281.9,300.4 281.4,300.1 281.0,299.6 281.0,299.6 282.0,299.2 282.2,299.3 283.4,299.3Z" fill="#b7ceb1" stroke="#fff" stroke-width="0.35" stroke-linejoin="round"/>
<path d="M290.7,310.9 290.7,313.0 289.4,313.1 289.6,311.6ZM285.5,301.8 286.3,301.9 288.9,302.6 288.0,304.5 287.2,304.7 285.9,306.2 285.8,306.5 286.9,306.2 287.3,306.8 286.7,308.0 287.2,308.5 287.1,309.0 288.2,309.3 288.0,309.7 287.9,309.8 286.6,310.7 284.7,310.5 283.3,310.2 281.8,310.7 281.9,311.7 279.9,311.6 279.5,311.4 278.4,311.2 276.5,311.0 275.5,310.8 275.0,310.4 274.9,310.3 275.0,310.3 275.8,308.7 275.8,306.7 274.0,304.9 271.5,304.2 270.9,303.2 275.2,302.9 275.8,301.6 277.5,302.0 279.6,301.1 279.7,300.0 280.9,299.6 281.0,299.6 281.4,300.1 281.9,300.4 283.3,301.2 284.2,300.9 285.1,301.8Z" fill="#90ee90" stroke="#fff" stroke-width="0.35" stroke-linejoin="round"/>
<path d="M266.2,312.6 268.3,312.4 268.9,312.8 267.9,313.7 268.0,314.7 267.7,315.5 267.1,315.6 267.7,316.5 267.3,317.3 267.7,317.6 267.1,318.6 267.2,319.0 265.1,319.2 265.2,317.2 264.3,316.7 265.1,314.8 265.2,312.4 266.1,312.1Z" fill="#90ee90" stroke="#fff" stroke-width="0.35" stroke-linejoin="round"/>
<path d="M281.9,315.2 282.2,315.8 281.4,316.0 280.8,315.6ZM278.7,313.7 277.1,315.8 277.7,316.7 276.5,318.4 274.4,319.7 271.2,319.7 269.8,320.6 269.6,320.6 268.7,319.8 267.2,319.0 267.1,318.6 267.7,317.6 267.3,317.3 267.7,316.5 267.1,315.6 267.7,315.5 268.0,314.7 267.9,313.7 268.9,312.8 268.3,312.4 266.2,312.6 266.1,312.1 265.2,312.4 265.2,312.4 264.6,310.9 266.4,309.9 271.9,310.2 275.0,310.3 274.9,310.3 275.0,310.4 275.5,310.8 276.5,311.0 278.4,311.2 279.5,311.4 279.9,311.6 281.9,311.7 281.8,310.7 281.9,312.3Z" fill="#b7ceb1" stroke="#fff" stroke-width="0.35" stroke-linejoin="round"/>
<path d="M291.4,318.8 292.7,319.2 292.5,319.6 291.3,318.8ZM294.8,318.4 294.7,317.9 299.1,317.6 298.6,319.7ZM289.1,316.5 288.9,313.7 290.8,313.7 290.8,316.2ZM292.7,305.7 294.4,305.2 294.7,305.7 296.5,306.0 296.1,306.4 296.4,306.9 296.7,307.3 296.4,307.5 296.5,307.1 294.7,307.5 294.6,309.1 296.2,310.1 297.2,311.6 299.7,312.4 303.0,314.7 303.0,315.2 301.1,314.4 300.4,315.5 301.2,316.5 300.4,317.4 299.3,317.9 299.7,316.7 299.1,315.1 296.9,314.0 294.8,313.1 292.7,311.7 291.6,309.6 289.7,308.9 287.9,309.8 288.0,309.7 288.2,309.3 287.1,309.0 287.2,308.5 286.7,308.0 287.3,306.8 288.4,306.8 289.2,306.1 290.0,306.9 290.4,306.0 291.5,305.9 292.0,305.5Z" fill="#b7ceb1" stroke="#fff" stroke-width="0.35" stroke-linejoin="round"/>
<path d="M306.1,312.3 305.9,313.3 306.6,313.9 305.9,314.9 305.7,315.3 305.3,315.5 305.2,315.5 304.4,314.5 304.4,312.6 304.1,312.3 304.4,312.4Z" fill="#90ee90" stroke="#fff" stroke-width="0.35" stroke-linejoin="round"/>
<path d="M314.0,321.6 313.9,322.0 310.2,321.8 310.1,321.3ZM308.0,313.5 309.3,313.2 311.5,312.9 312.6,313.3 314.1,312.7 314.4,313.2 313.6,314.0 313.6,314.1 313.6,314.0 311.5,313.8 311.1,314.4 310.5,315.2 309.8,314.8 308.9,314.5 309.1,315.8 309.8,316.7 310.8,317.6 310.8,318.3 310.1,318.6 309.1,318.7 309.6,319.9 308.6,319.9 307.6,319.5 306.8,318.4 306.9,317.4 306.2,316.7 305.3,315.5 305.7,315.3 305.9,314.9 306.6,313.9Z" fill="#b7ceb1" stroke="#fff" stroke-width="0.35" stroke-linejoin="round"/>
<path d="M314.1,312.7 315.7,312.2 316.3,312.3 316.4,312.4 317.7,313.4 321.2,313.3 324.0,312.3 326.1,312.3 328.2,313.3 330.9,313.8 333.0,313.7 335.1,313.0 335.1,312.9 335.2,313.0 336.6,312.9 337.8,313.5 338.2,314.8 339.7,315.5 339.1,315.9 338.6,316.0 339.3,317.4 339.0,318.0 339.7,319.0 337.9,318.9 336.3,319.1 334.0,319.1 331.5,319.7 329.0,319.7 328.4,319.5 328.3,320.4 327.7,320.9 327.4,320.8 327.3,320.7 327.3,320.6 327.5,319.7 325.8,319.5 324.7,320.2 323.0,320.6 321.9,319.9 320.1,319.4 319.8,320.2 318.0,320.2 316.6,319.7 315.5,319.2 315.2,318.6 314.3,317.2 314.7,316.5 313.9,315.8 313.9,314.9 313.7,314.3 313.6,314.0 314.4,313.2Z" fill="#b7ceb1" stroke="#fff" stroke-width="0.35" stroke-linejoin="round"/>
<path d="M309.1,295.1 304.7,294.9 304.7,294.9 305.2,294.3 306.8,293.8 307.1,293.8 309.1,294.1ZM480.2,308.9 480.0,308.7 483.4,307.3 483.7,307.4ZM494.1,300.2 492.7,301.1 488.6,305.3 488.3,305.0 493.8,300.0ZM476.8,301.1 478.2,302.5 476.3,302.2 475.5,304.2 476.8,306.6 475.7,305.9 474.7,306.7 474.5,305.3 474.7,303.2 475.0,301.1 474.4,299.0 474.7,297.0 475.4,295.1 476.1,297.0 476.5,299.0ZM519.8,284.7 516.3,285.8 514.0,287.2 508.3,287.2 505.9,287.5 505.0,288.6 505.9,288.7 505.2,289.3 504.8,288.8 504.5,289.2 502.9,290.0 503.8,290.7 504.3,292.5 502.0,292.5 502.5,294.2 499.7,294.6 499.7,296.3 497.7,297.0 497.3,297.9 495.1,299.7 493.6,295.6 493.7,292.8 495.2,290.7 497.6,289.3 499.7,287.9 502.3,286.8 504.5,285.1 505.9,283.7 502.5,285.1 500.4,286.1 500.0,284.7 495.5,285.0 492.7,286.5 492.7,288.2 488.6,288.6 484.4,287.8 480.2,288.0 475.4,288.3 471.6,290.0 467.7,292.1 465.2,294.4 467.5,294.7 468.0,295.8 470.5,295.3 471.9,296.3 473.8,296.7 473.7,297.9 472.6,299.7 472.3,302.5 469.8,305.3 467.7,307.4 465.7,309.5 462.9,311.2 460.8,310.6 458.8,311.7 458.8,311.4 459.8,310.2 459.5,308.4 460.7,307.7 462.3,308.0 463.4,306.3 464.1,304.8 464.5,303.4 461.5,304.3 459.4,304.3 459.0,302.7 457.3,302.0 454.5,300.8 453.2,298.1 451.9,296.9 449.1,296.2 446.2,296.5 445.4,296.5 444.3,297.2 445.1,297.5 444.3,298.8 443.2,300.3 442.9,301.1 441.2,301.8 439.5,301.3 436.5,300.8 434.4,301.7 430.9,302.2 428.2,302.0 426.1,301.1 423.8,300.5 421.5,300.9 419.4,300.3 419.4,299.3 414.8,298.2 414.0,300.4 412.6,301.5 408.9,301.1 405.2,300.2 402.0,301.3 399.4,302.2 398.7,302.2 395.8,301.7 393.3,299.7 390.7,300.1 388.7,300.0 385.7,296.5 383.7,295.3 380.0,296.1 376.4,295.3 375.8,293.8 372.2,294.2 368.0,295.1 365.2,295.3 362.5,295.6 362.0,296.1 362.3,297.9 360.8,298.5 362.7,300.0 360.1,300.3 357.7,299.6 354.8,300.3 353.2,299.7 350.4,299.0 348.0,298.8 345.2,300.3 345.1,301.3 343.3,300.7 342.5,301.3 342.9,302.2 342.2,303.4 342.7,303.9 344.8,305.7 345.5,306.0 343.4,307.1 342.5,308.5 343.2,309.5 343.4,310.9 344.8,312.3 345.0,312.5 345.0,312.5 343.9,313.4 342.2,312.6 341.9,312.4 340.2,311.3 338.3,311.4 336.5,310.6 333.3,310.4 333.0,310.2 330.9,308.9 329.3,308.0 328.4,308.0 328.3,307.8 328.6,307.4 329.6,307.4 330.5,306.4 331.9,305.0 330.6,305.2 331.4,304.1 333.0,304.1 332.7,303.1 333.2,301.7 331.5,301.3 329.6,300.7 326.9,300.6 326.6,299.7 325.2,298.7 324.4,297.9 321.6,298.2 321.1,296.7 322.3,296.7 322.9,296.3 321.6,295.6 320.2,294.4 320.5,293.3 318.3,293.1 316.6,292.6 316.6,292.1 316.0,291.5 316.1,291.0 315.5,290.6 315.9,290.2 315.7,289.7 315.5,288.9 316.4,288.0 316.4,287.9 317.1,287.5 319.4,287.3 317.7,286.9 316.1,286.5 316.0,286.5 316.1,286.4 317.5,285.7 319.1,284.7 321.2,283.2 319.1,282.0 319.8,281.4 318.7,280.5 319.1,279.3 318.6,278.8 324.8,278.8 325.7,279.5 325.8,280.9 327.5,281.4 328.9,281.8 329.6,281.2 330.9,280.5 333.3,280.9 333.0,280.4 334.4,279.5 335.6,278.8 527.5,278.8 527.5,280.2 525.4,280.7 524.0,280.9 526.1,282.7 526.8,283.9 524.0,283.7ZM41.6,283.0 42.1,283.0 39.0,282.6 39.0,282.0 43.0,282.6 42.0,282.5ZM28.9,280.0 27.5,280.2 27.5,278.8 41.8,278.8 40.0,279.5 37.9,280.9 36.9,281.2 34.4,280.5 33.0,279.5 29.6,279.4Z" fill="#90ee90" stroke="#fff" stroke-width="0.35" stroke-linejoin="round"/>
<path d="M342.7,303.9 342.2,303.4 342.9,302.2 342.5,301.3 343.3,300.7 345.1,301.3 345.2,300.3 348.0,298.8 350.4,299.0 353.2,299.7 354.8,300.3 357.7,299.6 360.1,300.3 362.7,300.0 360.8,298.5 362.3,297.9 362.0,296.1 362.5,295.6 365.2,295.3 368.0,295.1 372.2,294.2 375.8,293.8 376.4,295.3 380.0,296.1 383.7,295.3 385.7,296.5 388.7,300.0 390.7,300.1 393.3,299.7 395.8,301.7 398.7,302.2 396.5,303.4 396.2,305.2 392.7,305.0 391.8,307.3 388.7,308.1 389.7,310.7 388.9,312.2 387.2,311.2 382.7,311.0 380.7,310.6 379.5,310.9 379.5,311.7 376.4,311.2 376.0,311.9 375.0,312.3 373.3,313.1 372.0,314.0 371.9,313.7 369.8,312.4 369.1,311.7 369.3,310.9 367.6,309.9 363.6,310.2 362.2,308.9 358.9,307.3 355.2,308.1 355.2,313.3 354.4,313.3 352.5,311.9 350.7,312.5 350.4,311.6 348.3,310.5 347.6,308.8 348.7,308.1 351.1,307.7 351.1,306.0 350.4,305.5 348.3,305.5 345.5,306.0 345.5,306.0 344.8,305.7Z" fill="#e2e2e2" stroke="#fff" stroke-width="0.35" stroke-linejoin="round"/>
<path d="M429.5,345.4 428.4,344.9 428.4,344.0 429.5,342.9 431.5,342.9 431.6,343.6 430.7,345.0ZM403.9,307.8 407.3,308.1 410.0,309.1 411.4,311.2 416.8,311.4 418.8,311.6 423.3,312.8 426.1,311.7 429.3,311.7 432.9,309.9 432.7,308.1 435.2,308.4 438.4,307.1 439.4,306.3 443.8,305.8 444.0,305.5 440.5,304.4 437.9,304.1 438.6,302.8 439.5,301.3 441.2,301.8 442.9,301.1 443.2,300.3 444.3,298.8 445.1,297.5 444.3,297.2 445.4,296.5 446.2,296.5 446.8,296.4 453.4,298.6 454.5,300.8 457.3,302.0 459.0,302.7 459.4,304.3 461.5,304.3 464.5,303.4 464.1,304.8 463.9,305.3 462.2,307.9 460.7,307.7 459.5,308.4 459.8,310.2 458.8,311.4 458.8,311.7 457.9,311.0 456.9,312.0 455.3,312.4 453.7,312.6 452.5,313.7 450.2,315.0 450.2,315.1 450.1,315.1 448.0,315.6 446.1,316.7 445.9,316.2 447.2,314.5 446.6,313.8 444.8,314.7 443.2,315.8 441.3,316.2 440.9,316.7 442.0,317.6 442.7,318.8 445.1,318.1 446.9,318.6 447.6,319.4 445.5,319.7 444.4,320.6 443.0,322.0 444.5,323.1 445.2,325.2 446.5,326.5 446.8,327.6 445.5,328.3 446.8,329.3 446.2,331.4 444.4,333.2 443.6,334.9 442.2,336.4 440.7,337.4 438.6,338.8 436.5,339.3 435.1,339.7 432.7,340.6 430.9,341.1 430.9,342.4 430.0,342.4 429.5,340.8 428.2,340.6 427.3,340.8 425.7,340.1 425.7,339.0 423.7,338.3 422.3,339.2 420.5,339.1 419.3,339.5 418.8,339.5 418.8,341.3 417.9,340.8 416.6,340.9 415.2,339.9 415.7,338.9 414.8,338.5 413.2,337.4 412.9,336.3 414.4,334.9 414.5,332.4 412.6,331.4 411.1,329.8 409.4,330.1 407.3,330.8 405.4,332.1 404.7,332.0 401.8,331.6 400.9,332.8 400.8,331.7 399.8,332.0 398.2,331.9 396.6,331.5 394.0,330.0 391.5,328.6 390.0,328.7 387.5,327.6 386.8,326.9 387.9,325.5 387.2,324.5 387.0,323.0 385.5,321.3 383.3,320.9 382.9,319.8 381.9,319.2 380.9,319.0 381.5,318.9 381.5,317.3 380.1,317.2 379.7,315.9 380.0,315.6 381.5,314.4 383.6,314.5 384.3,313.7 385.8,313.6 388.9,312.2 389.7,310.7 388.7,308.1 391.8,307.3 392.7,305.0 396.2,305.2 396.5,303.4 398.7,302.2 399.4,302.2 400.9,303.8 403.7,305.5Z" fill="#3cb371" stroke="#fff" stroke-width="0.35" stroke-linejoin="round"/>
<path d="M418.8,311.6 416.8,311.4 411.4,311.2 410.0,309.1 407.3,308.1 403.9,307.8 403.7,305.5 400.9,303.8 399.4,302.2 402.0,301.3 405.2,300.2 408.9,301.1 412.6,301.5 414.0,300.4 414.8,298.2 419.4,299.3 419.4,300.3 421.5,300.9 423.8,300.5 426.1,301.1 428.2,302.0 430.9,302.2 434.4,301.7 436.5,300.8 439.5,301.3 438.6,302.8 437.9,304.1 440.5,304.4 444.0,305.5 443.8,305.8 439.4,306.3 438.4,307.1 435.2,308.4 432.7,308.1 432.9,309.9 429.3,311.7 426.1,311.7 423.3,312.8Z" fill="#e2e2e2" stroke="#fff" stroke-width="0.35" stroke-linejoin="round"/>
<path d="M453.7,312.6 455.3,312.4 456.9,312.0 457.9,311.0 458.8,311.7 457.6,313.7 455.9,314.8 454.5,315.8 455.8,317.0 453.8,317.4 452.6,318.2 451.7,318.2 451.5,318.1 450.9,317.0 451.5,315.8 450.2,315.1 450.2,315.0 452.5,313.7Z" fill="#696969" stroke="#fff" stroke-width="0.35" stroke-linejoin="round"/>
<path d="M457.0,318.8 457.3,320.4 456.6,321.8 454.5,322.6 453.0,322.5 453.2,320.6 453.3,319.0 451.7,318.2 452.6,318.2 453.8,317.4 455.8,317.0Z" fill="#b7ceb1" stroke="#fff" stroke-width="0.35" stroke-linejoin="round"/>
<path d="M458.4,325.5 457.6,324.8 458.0,324.1 459.4,323.6 460.8,324.8 460.0,327.1 459.0,327.6 458.3,326.9ZM464.3,323.0 464.3,323.7 462.2,324.8 461.5,324.8 461.5,323.4ZM474.0,314.4 474.7,315.8 474.1,317.4 473.3,317.9 472.7,319.5 473.2,321.1 471.8,322.2 471.6,322.0 470.2,321.9 469.4,322.6 467.7,322.5 467.6,323.0 466.1,324.1 465.2,324.1 465.2,322.7 463.6,322.5 461.5,322.9 459.4,323.1 459.8,322.9 461.1,322.0 462.2,321.3 464.3,321.2 465.7,321.2 466.3,320.6 467.3,319.7 467.5,318.8 468.2,318.6 470.2,318.1 471.5,317.0 471.6,315.3 471.9,314.1 472.3,313.4 473.8,313.1ZM473.7,310.6 474.3,308.8 474.4,307.5 476.1,308.8 477.9,309.5 479.3,309.1 479.5,310.5 477.9,311.0 476.5,312.3 474.5,311.4 473.3,311.7 472.6,312.8 471.9,313.0 471.9,312.0 472.3,310.6ZM462.2,307.9 462.7,307.1 462.9,307.1 462.3,308.0 460.7,307.7Z" fill="#b7ceb1" stroke="#fff" stroke-width="0.35" stroke-linejoin="round"/>
<path d="M445.5,336.0 446.2,335.7 446.9,336.0 445.4,340.1 444.3,338.8 444.4,337.4Z" fill="#696969" stroke="#fff" stroke-width="0.35" stroke-linejoin="round"/>
<path d="M425.0,355.7 424.5,354.7 425.2,354.2 426.9,353.5 426.8,351.6 426.8,350.3 427.0,349.6 426.6,348.4 425.5,347.3 424.4,346.3 423.6,344.9 421.9,343.8 423.2,343.2 422.7,342.4 422.0,341.6 420.5,341.4 420.4,340.6 419.3,339.5 420.5,339.1 422.3,339.2 423.7,338.3 425.7,339.0 425.7,340.1 427.3,340.8 428.2,340.6 427.2,340.8 425.7,342.2 424.7,343.2 424.4,344.6 425.4,346.0 426.8,347.4 427.9,348.4 428.8,349.9 429.3,351.6 429.3,353.1 428.8,354.9 427.5,355.8 426.1,356.3 425.4,357.4 424.0,358.3 423.0,358.7 423.3,356.9 422.6,356.3 422.5,356.3 422.5,356.3 423.4,355.5Z" fill="#006400" stroke="#fff" stroke-width="0.35" stroke-linejoin="round"/>
<path d="M424.8,351.4 424.7,350.8 423.6,350.9 424.0,350.7 424.1,348.9 423.4,348.4 422.9,347.8 422.9,346.6 421.9,345.3 421.1,345.2 420.0,345.9 419.3,345.4 418.8,345.9 417.8,346.3 417.9,345.3 418.0,343.6 417.0,343.6 417.0,342.7 416.5,342.4 417.9,340.8 418.8,341.3 418.8,339.5 419.3,339.5 420.4,340.6 420.5,341.4 422.0,341.6 422.7,342.4 423.2,343.2 421.9,343.8 423.6,344.9 424.4,346.3 425.5,347.3 426.6,348.4 427.0,349.6 426.8,350.3Z" fill="#e2e2e2" stroke="#fff" stroke-width="0.35" stroke-linejoin="round"/>
<path d="M419.6,352.3 419.9,351.9 420.5,350.9 423.0,350.7 423.6,350.9 424.7,350.8 424.8,351.4 426.8,350.3 426.8,351.6 426.9,353.5 425.2,354.2 424.5,354.7 425.0,355.7 423.4,355.5 422.5,356.3 422.5,356.3 422.6,356.3 421.2,356.0 420.4,354.7 420.4,354.6Z" fill="#006400" stroke="#fff" stroke-width="0.35" stroke-linejoin="round"/>
<path d="M405.6,340.9 406.1,340.1 406.9,339.8 406.8,338.8 407.1,337.3 408.2,337.6 409.0,335.8 409.6,334.6 411.1,332.8 412.3,333.0 412.6,331.4 414.5,332.4 414.4,334.9 412.9,336.3 413.2,337.4 414.8,338.5 415.7,338.9 415.2,339.9 416.6,340.9 417.9,340.8 416.5,342.4 415.1,342.8 413.7,343.3 413.2,345.0 413.2,346.1 414.4,347.9 414.4,349.4 413.9,349.7 415.2,351.7 415.2,353.2 415.9,354.4 414.6,356.4 414.3,356.9 414.2,357.0 414.4,356.2 414.4,354.1 413.9,351.7 413.3,349.9 413.0,348.2 412.5,347.1 411.5,347.8 409.8,348.8 408.7,348.1 408.4,345.7 407.7,344.3 406.4,342.9 405.7,341.8 406.1,341.1Z" fill="#006400" stroke="#fff" stroke-width="0.35" stroke-linejoin="round"/>
<path d="M420.2,354.5 419.1,353.4 417.7,353.1 417.0,352.0 416.4,353.0 415.9,354.4 415.4,356.2 415.4,357.8 416.5,359.0 417.0,360.6 418.4,361.2 419.4,362.0 419.3,362.1 418.8,362.7 417.9,362.9 417.9,362.1 416.6,361.5 416.5,361.8 416.3,361.9 415.7,361.2 414.0,359.7 414.0,358.3 414.2,357.0 414.3,356.9 414.6,356.4 415.9,354.4 415.2,353.2 415.2,351.7 413.9,349.7 414.4,349.4 414.4,347.9 413.2,346.1 413.2,345.0 413.7,343.3 415.1,342.8 416.5,342.4 417.0,342.7 417.0,343.6 418.0,343.6 417.9,345.3 417.8,346.3 418.8,345.9 419.3,345.4 420.0,345.9 421.1,345.2 421.9,345.3 422.9,346.6 422.9,347.8 423.4,348.4 424.1,348.9 424.0,350.7 423.6,350.9 423.0,350.7 420.5,350.9 419.9,351.9 419.6,352.3 420.4,354.6 420.4,354.7Z" fill="#90ee90" stroke="#fff" stroke-width="0.35" stroke-linejoin="round"/>
<path d="M437.5,367.3 437.0,367.7 436.6,368.8 435.2,369.1 433.3,368.8 432.7,369.4 430.9,369.6 429.6,368.6 429.7,368.0 431.6,368.6 432.2,367.2 434.4,366.3 435.8,364.5 437.9,363.1 439.5,361.2 440.9,361.9 441.8,363.0 443.0,363.6 441.6,364.5 440.9,364.9 440.9,365.0 440.8,365.0 437.9,364.9 438.0,366.1ZM418.8,362.7 419.3,362.1 419.4,362.0 419.5,362.2 421.1,364.1 421.1,365.9 421.9,367.3 422.2,368.8 421.2,368.8 419.8,368.0 418.3,366.9 417.5,365.5 416.9,363.8 416.8,362.4 416.3,361.9 416.5,361.8 416.6,361.5 417.9,362.1 417.9,362.9Z" fill="#228b22" stroke="#fff" stroke-width="0.35" stroke-linejoin="round"/>
<path d="M450.8,358.8 451.8,357.3 453.0,359.0 453.2,360.8 452.7,362.0 451.8,362.4 451.6,363.0 450.1,362.2 449.7,360.6 448.7,360.4 447.6,360.4 446.9,361.0 447.2,359.8 449.0,358.8ZM443.2,354.9 444.0,354.8 443.8,356.4 440.5,359.4 439.8,359.2 440.1,358.4 442.2,356.3ZM450.4,356.7 450.4,357.3 449.5,357.4 449.4,357.0ZM449.7,355.2 449.7,356.2 449.0,357.6 449.0,356.3ZM449.0,355.6 448.7,358.3 447.5,357.7 447.5,356.3 446.6,356.3 446.6,354.2 448.4,354.6 448.1,355.6ZM449.7,354.1 449.4,354.2 448.6,353.8 448.6,353.4ZM445.9,353.7 445.2,353.4 444.8,352.1 446.1,352.4ZM450.0,351.4 450.1,353.3 451.9,353.7 452.2,355.5 451.2,355.2 451.5,356.7 450.7,356.9 450.1,354.8 451.0,355.1 450.0,353.3 448.7,352.4 447.5,352.1 446.2,352.0 444.8,351.6 445.1,350.5 444.1,350.2 443.7,348.2 444.4,347.4 444.7,344.9 447.3,345.0 447.6,347.1 446.6,348.5 446.8,349.9 448.2,350.9Z" fill="#006400" stroke="#fff" stroke-width="0.35" stroke-linejoin="round"/>
<path d="M476.4,387.5 474.5,387.5 474.7,386.1 475.4,385.7ZM491.3,386.5 491.1,387.0 489.0,386.0 489.1,385.6ZM486.2,383.6 487.6,384.3 487.5,384.9 486.2,384.2ZM487.5,383.2 486.9,382.5 487.6,382.6ZM483.0,381.9 485.1,383.8 487.2,385.0 487.6,385.7 485.8,385.8 483.0,385.0 480.9,383.3 478.6,381.5 476.8,382.2 475.4,383.6 473.3,383.5 473.3,374.4 476.1,375.5 478.2,376.1 480.0,377.8 481.6,379.0 482.7,380.0 481.9,380.6ZM493.8,380.3 493.2,380.1 492.2,379.0 492.3,378.5ZM488.8,376.7 489.0,377.8 487.2,379.2 485.1,379.4 483.4,378.6 485.8,378.5 487.9,377.6ZM489.4,377.1 487.9,375.5 486.9,374.4 489.3,376.1 490.0,377.3ZM480.9,374.0 480.9,373.6 482.2,373.6 482.2,374.0Z" fill="#006400" stroke="#fff" stroke-width="0.35" stroke-linejoin="round"/>
<path d="M501.5,385.4 501.5,385.0 502.9,385.7 502.5,386.0ZM499.1,384.3 499.1,383.8 500.8,384.5 500.5,384.7ZM500.4,382.8 500.7,382.5 501.5,384.0 501.1,384.0ZM499.4,382.5 499.1,382.9 496.8,381.9 496.9,381.4ZM496.2,381.1 495.8,381.5 494.7,380.8 494.8,380.3Z" fill="#006400" stroke="#fff" stroke-width="0.35" stroke-linejoin="round"/>
<path d="M510.9,395.5 509.8,393.7 509.8,393.1 510.5,393.8 511.3,395.6ZM509.7,392.0 509.4,392.7 508.8,392.1 508.8,391.4Z" fill="#006400" stroke="#fff" stroke-width="0.35" stroke-linejoin="round"/>
<path d="M508.7,401.2 509.4,402.0 507.3,401.2 506.9,400.8 507.5,400.4Z" fill="#696969" stroke="#fff" stroke-width="0.35" stroke-linejoin="round"/>
<path d="M523.7,395.2 525.5,395.3 525.5,396.2 523.8,396.2ZM527.3,393.4 527.3,393.8 525.8,394.5 525.6,394.1Z" fill="#006400" stroke="#fff" stroke-width="0.35" stroke-linejoin="round"/>
<path d="M451.1,383.3 453.8,382.5 454.1,382.9 451.8,384.2 451.1,384.2Z" fill="#e2e2e2" stroke="#fff" stroke-width="0.35" stroke-linejoin="round"/>
<path d="M444.8,385.0 443.0,384.5 442.7,383.9 445.2,384.3ZM445.5,383.2 442.7,383.1 440.0,383.3 438.6,383.2 436.6,382.9 436.6,382.1 438.6,382.2 440.0,382.4 442.7,382.4 445.5,382.5 448.3,382.2 448.3,382.8ZM429.5,381.7 426.8,381.5 425.2,381.1 423.6,380.3 425.0,379.2 428.2,380.0 431.3,379.7 433.8,380.4 436.5,381.7 436.3,382.8 433.0,382.5ZM423.7,373.6 423.7,373.0 425.7,374.3 425.4,375.0ZM414.4,372.6 414.4,372.2 415.4,373.2 415.0,373.3ZM409.8,363.8 409.8,363.0 412.9,363.6 414.3,365.2 416.4,366.9 417.7,368.0 420.9,370.1 421.6,372.2 422.6,373.3 424.7,375.0 424.4,377.1 424.4,378.9 422.6,378.9 420.5,377.1 418.4,375.0 416.8,372.2 415.0,370.1 413.6,367.7 411.5,365.6ZM439.3,372.9 438.8,375.3 438.6,376.4 436.6,376.5 435.1,375.4 432.7,375.7 430.5,374.8 430.2,372.9 429.0,371.5 428.8,369.7 428.8,368.7 429.7,368.0 429.7,368.0 429.6,368.6 430.9,369.6 432.7,369.4 433.3,368.8 435.2,369.1 436.6,368.8 437.0,367.7 437.5,367.3 438.0,366.1 437.9,364.9 440.8,365.0 440.9,365.0 440.9,364.9 441.3,367.3 442.7,369.4 441.1,369.7 440.7,371.5ZM413.4,369.7 413.2,370.0 412.2,369.4 412.2,368.8ZM461.4,386.8 461.6,386.5 462.4,386.8ZM451.8,384.2 449.7,385.2 449.0,385.2 451.1,383.3 451.1,384.2ZM459.7,381.0 460.5,381.0 460.1,381.9 459.5,381.8ZM464.7,378.7 464.4,380.3 463.7,379.4 463.8,378.5ZM461.9,375.4 460.8,374.8 463.2,374.1 461.2,373.9 459.8,372.9 459.4,371.9 461.5,371.4 463.6,371.9 463.8,374.3 465.0,375.4 467.0,373.9 469.1,373.0 473.3,374.4 473.3,383.5 471.2,382.1 469.1,382.5 468.8,380.8 470.1,380.3 469.1,378.5 466.3,377.2 464.3,376.4 462.2,376.5ZM452.5,376.0 452.5,375.3 454.1,375.3 454.1,376.1ZM455.2,375.7 455.2,375.0 459.1,375.3 458.7,376.0ZM446.2,376.7 445.5,375.0 445.2,374.6 444.7,375.3 444.7,378.5 443.4,378.5 443.3,375.7 442.5,374.7 443.2,373.3 443.8,371.1 444.1,369.8 445.5,369.0 448.3,369.5 451.1,368.6 451.3,368.8 450.4,370.1 448.3,370.2 445.5,370.2 444.4,370.8 444.1,372.1 445.8,372.2 447.6,371.9 448.7,372.1 448.7,372.3 446.6,373.3 446.2,373.6 446.9,375.0 448.0,376.4 448.0,377.6 446.8,377.6ZM455.9,371.5 455.0,371.9 454.7,370.1 454.4,369.4 454.5,368.0 455.2,368.3 456.1,368.8 455.2,370.2Z" fill="#006400" stroke="#fff" stroke-width="0.35" stroke-linejoin="round"/>
<path d="M391.2,360.6 390.8,361.9 389.3,362.6 388.4,361.7 388.2,359.7 388.3,357.3 388.9,357.1 390.2,359.0Z" fill="#90ee90" stroke="#fff" stroke-width="0.35" stroke-linejoin="round"/>
<path d="M400.9,338.9 400.7,338.4 400.4,337.9 400.7,337.1 399.9,336.7 399.8,336.1 400.9,335.7 400.2,335.1 399.8,334.7 400.4,333.9 401.2,334.4 402.2,334.6 402.3,335.5 403.0,335.8 405.3,335.7 405.9,336.1 405.6,337.0 405.1,337.2 404.2,337.3 404.1,337.8 404.5,338.5 404.8,338.8 405.0,338.2 405.7,337.8 405.7,338.9 406.1,340.1 405.6,340.9 406.1,341.1 405.7,341.8 405.9,342.2 405.9,342.2 405.5,341.5 405.0,339.7 404.5,339.0 403.2,339.7 401.4,340.4 401.2,340.4 401.2,340.1Z" fill="#228b22" stroke="#fff" stroke-width="0.35" stroke-linejoin="round"/>
<path d="M399.9,333.0 399.8,334.0 398.4,334.0 396.7,333.7 395.0,333.1 394.3,332.5 393.2,332.7 392.3,332.2 390.2,331.3 388.6,330.6 389.1,329.6 390.0,328.7 391.5,328.6 394.0,330.0 396.6,331.5 398.2,331.9 399.8,332.0Z" fill="#e2e2e2" stroke="#fff" stroke-width="0.35" stroke-linejoin="round"/>
<path d="M405.2,332.1 405.3,333.4 404.5,333.5 402.3,333.6 401.1,333.3 400.9,332.8 401.8,331.6 404.7,332.0Z" fill="#e2e2e2" stroke="#fff" stroke-width="0.35" stroke-linejoin="round"/>
<path d="M376.1,336.5 375.6,335.0 374.8,334.6 374.0,333.5 375.2,331.9 375.9,332.2 377.3,331.9 378.7,330.4 379.4,329.1 380.2,328.7 381.0,327.5 381.1,326.2 382.1,325.8 381.1,325.1 380.2,324.5 380.2,322.5 380.7,322.3 382.7,322.7 384.4,322.0 385.5,321.3 387.0,323.0 387.2,324.5 387.9,325.5 386.8,326.9 387.5,327.6 390.0,328.7 389.1,329.6 388.6,330.6 390.2,331.3 392.3,332.2 393.2,332.7 394.3,332.5 395.0,333.1 396.7,333.7 398.4,334.0 399.8,334.0 399.9,333.0 399.8,332.0 400.8,331.7 400.9,332.8 401.1,333.3 402.3,333.6 404.5,333.5 405.3,333.4 405.2,332.1 404.7,332.0 405.4,332.1 407.3,330.8 409.4,330.1 411.1,329.8 412.6,331.4 412.3,333.0 411.1,332.8 409.6,334.6 409.0,335.8 408.2,337.6 407.1,337.3 406.8,338.8 406.9,339.8 406.1,340.1 405.7,338.9 405.7,337.8 405.0,338.2 404.8,338.8 404.5,338.5 404.1,337.8 404.2,337.3 405.1,337.2 405.6,337.0 405.9,336.1 405.3,335.7 403.0,335.8 402.3,335.5 402.2,334.6 401.2,334.4 400.4,333.9 399.8,334.7 400.2,335.1 400.9,335.7 399.8,336.1 399.9,336.7 400.7,337.1 400.4,337.9 400.7,338.4 400.9,338.9 401.2,340.1 401.2,340.4 400.0,340.4 398.3,341.1 397.6,342.7 395.5,344.0 393.4,346.0 391.8,347.7 389.7,348.8 388.7,349.5 389.0,352.3 388.3,354.8 388.4,356.3 387.6,356.4 387.2,357.8 386.1,358.4 385.2,359.5 384.4,359.2 383.3,357.1 382.0,354.4 380.9,352.0 380.0,349.6 379.1,347.1 378.6,344.3 378.6,341.5 378.3,340.1 377.7,341.1 376.8,341.8 375.0,341.5 373.3,339.9 373.6,339.0 372.2,337.9 372.1,337.9 372.2,337.8 373.0,336.9 374.7,337.1 375.5,336.8Z" fill="#3cb371" stroke="#fff" stroke-width="0.35" stroke-linejoin="round"/>
<path d="M363.4,334.2 365.2,333.7 365.4,332.9 364.7,332.8 364.7,331.4 363.0,330.5 362.0,329.2 364.3,329.8 366.6,329.7 369.5,329.1 369.7,327.7 371.6,327.1 373.7,326.4 374.0,324.8 375.1,324.3 374.5,323.4 376.2,322.9 377.0,321.4 376.4,320.6 378.3,319.5 380.9,319.2 381.2,319.0 381.9,319.2 382.9,319.8 383.3,320.9 385.5,321.3 384.4,322.0 382.7,322.7 380.7,322.3 380.2,322.5 380.2,324.5 381.1,325.1 382.1,325.8 381.1,326.2 381.0,327.5 380.2,328.7 379.4,329.1 378.7,330.4 377.3,331.9 375.9,332.2 375.2,331.9 374.0,333.5 374.8,334.6 375.6,335.0 376.1,336.5 375.5,336.8 374.7,337.1 373.0,336.9 372.2,337.8 372.1,337.9 372.2,337.9 371.9,337.8 370.8,336.5 369.8,335.4 367.0,335.5 365.7,335.5 363.0,335.7 363.2,335.0Z" fill="#90ee90" stroke="#fff" stroke-width="0.35" stroke-linejoin="round"/>
<path d="M342.1,316.6 344.1,315.5 344.6,315.9 344.1,316.7 345.4,317.2 345.4,317.2 345.5,318.4 347.3,318.8 349.7,319.5 352.2,319.0 352.1,318.5 352.3,318.8 353.6,318.7 354.4,317.9 355.7,317.7 357.1,317.6 359.8,318.6 361.3,319.7 362.3,319.8 362.5,321.2 361.6,323.0 361.6,324.7 362.0,326.9 363.3,327.8 362.0,329.2 363.6,331.8 363.6,334.2 363.4,334.2 363.2,335.0 363.0,335.7 360.8,335.5 359.1,335.3 357.0,334.9 356.4,333.0 354.5,333.5 352.5,333.7 350.5,332.6 349.0,331.9 348.0,330.4 346.9,328.7 345.5,328.4 344.8,329.0 343.7,327.6 343.9,326.5 341.5,324.7 340.5,323.5 340.9,322.7 341.8,320.9 340.5,320.6 339.7,319.0 339.0,318.0 339.3,317.4 338.6,316.0 339.1,315.9 339.7,315.5 340.6,316.5Z" fill="#b7ceb1" stroke="#fff" stroke-width="0.35" stroke-linejoin="round"/>
<path d="M328.5,329.2 329.6,329.0 330.2,328.3 328.9,326.9 331.9,326.0 333.6,326.3 335.9,327.5 339.5,330.1 342.1,330.3 343.4,330.4 343.7,331.0 344.7,331.0 344.8,331.0 345.1,331.8 346.2,332.8 346.9,333.6 347.2,334.9 347.6,336.0 347.8,335.7 348.0,336.3 348.6,336.5 349.1,337.1 349.1,337.2 350.5,338.8 354.1,339.2 354.8,340.1 353.9,342.9 349.7,344.3 345.7,344.9 344.4,345.5 343.4,347.0 342.4,346.7 340.5,346.7 337.7,346.3 337.3,347.5 336.9,347.9 336.8,348.0 335.8,346.4 334.4,344.3 333.0,342.7 331.9,340.8 330.9,338.8 329.6,336.9 328.6,334.9 326.8,332.5 325.8,331.5 326.1,329.9 327.5,330.1Z" fill="#b7ceb1" stroke="#fff" stroke-width="0.35" stroke-linejoin="round"/>
<path d="M353.2,353.2 353.2,353.7 351.5,353.5 351.5,353.1ZM340.5,346.7 342.4,346.7 343.4,347.0 344.4,345.5 345.7,344.9 349.7,344.3 351.2,347.5 350.4,347.8 350.0,349.1 346.9,349.9 344.8,351.3 342.0,352.1 340.0,353.0 338.0,353.1 337.6,352.3 337.2,349.9 336.9,348.1 336.8,348.0 336.9,347.9 337.3,347.5 337.7,346.3Z" fill="#e2e2e2" stroke="#fff" stroke-width="0.35" stroke-linejoin="round"/>
<path d="M354.8,340.1 355.0,337.3 355.4,336.3 355.8,336.0 355.8,336.1 356.6,337.4 359.0,338.0 359.2,338.1 360.5,339.6 359.1,342.2 357.7,342.5 357.7,344.3 355.9,345.0 354.5,346.0 352.5,347.1 351.2,347.5 349.7,344.3 353.9,342.9Z" fill="#90ee90" stroke="#fff" stroke-width="0.35" stroke-linejoin="round"/>
<path d="M354.2,339.5 354.1,339.2 350.5,338.8 349.1,337.2 349.1,337.1 349.0,336.9 349.0,335.3 349.1,336.9 350.4,337.1 353.2,336.9 354.3,335.5 355.2,334.9 355.4,334.4 355.8,334.3 355.8,336.0 355.4,336.3 355.0,337.3 354.8,339.5Z" fill="#b7ceb1" stroke="#fff" stroke-width="0.35" stroke-linejoin="round"/>
<path d="M275.1,324.4 275.8,325.7 273.3,326.6 272.5,327.7 270.2,329.0 268.4,329.6 265.5,330.8 265.4,332.2 259.3,332.2 259.6,331.9 261.8,330.8 263.3,330.0 264.0,329.0 263.9,327.6 264.6,325.9 265.4,324.8 267.1,324.0 268.4,322.7 269.3,320.9 270.1,320.8 272.6,321.6 274.4,321.9 275.0,322.7Z" fill="#b7ceb1" stroke="#fff" stroke-width="0.35" stroke-linejoin="round"/>
<path d="M260.8,334.6 260.8,338.1 259.4,338.8 259.4,341.1 254.0,341.1 253.9,341.5 253.9,340.4 255.2,337.8 256.6,336.2 257.3,334.3 258.7,333.2 259.3,332.2 265.4,332.2 265.4,334.6Z" fill="#696969" stroke="#fff" stroke-width="0.35" stroke-linejoin="round"/>
<path d="M291.8,326.6 291.7,327.7 290.7,328.7 290.0,326.1 289.0,325.5 287.9,323.3 289.0,321.6 288.9,319.9 289.4,319.3 289.4,319.1 290.0,319.1 291.3,318.8 292.5,319.6 292.1,320.1 292.7,321.6 291.4,322.7 291.6,323.7 292.7,324.5 293.5,324.8 293.4,325.7Z" fill="#90ee90" stroke="#fff" stroke-width="0.35" stroke-linejoin="round"/>
<path d="M291.8,326.6 293.4,325.7 293.5,324.8 294.1,325.0 296.2,325.1 298.7,325.9 299.7,327.2 301.8,327.7 303.9,328.6 305.2,327.6 305.2,325.9 307.3,325.0 309.4,325.2 310.1,325.9 312.2,326.8 312.4,326.8 312.1,328.3 312.2,330.1 312.2,342.9 310.8,342.9 310.8,343.6 299.7,338.1 298.3,338.8 297.2,339.3 296.2,338.6 294.1,338.0 291.7,336.5 290.5,334.4 291.1,333.9 291.2,331.4 290.7,328.7 291.7,327.7Z" fill="#b7ceb1" stroke="#fff" stroke-width="0.35" stroke-linejoin="round"/>
<path d="M312.1,328.3 312.4,326.8 315.7,327.3 317.7,327.7 319.1,327.2 320.5,326.9 322.3,327.2 323.6,327.5 325.0,327.2 325.0,327.2 325.1,327.3 325.9,329.7 325.9,329.8 325.8,329.8 325.0,332.1 323.6,331.0 322.7,329.1 322.7,329.4 324.4,332.5 325.4,334.6 326.9,337.4 328.9,340.1 312.2,340.1 312.2,330.1Z" fill="#90ee90" stroke="#fff" stroke-width="0.35" stroke-linejoin="round"/>
<path d="M257.2,351.6 258.3,351.9 258.3,352.3 256.4,352.3 254.1,352.6 254.1,351.8 256.1,351.7Z" fill="#e2e2e2" stroke="#fff" stroke-width="0.35" stroke-linejoin="round"/>
<path d="M255.9,347.7 257.5,347.6 258.7,348.4 259.7,349.6 260.5,350.2 260.5,350.7 261.6,352.8 261.6,353.5 260.2,353.7 258.4,353.2 256.4,353.1 254.3,353.6 254.1,353.4 254.1,352.6 256.4,352.3 258.3,352.3 258.3,351.9 257.2,351.6 256.1,351.7 254.1,351.8 254.1,351.6 253.2,350.3 253.9,349.6 254.5,348.4 254.6,348.4Z" fill="#e2e2e2" stroke="#fff" stroke-width="0.35" stroke-linejoin="round"/>
<path d="M258.4,353.2 258.4,354.5 257.1,354.8 256.6,355.5 256.5,355.6 255.9,355.1 254.8,354.1 254.3,353.6 256.4,353.1Z" fill="#006400" stroke="#fff" stroke-width="0.35" stroke-linejoin="round"/>
<path d="M258.4,354.5 258.4,353.2 260.2,353.7 261.6,353.5 262.6,354.2 264.6,353.4 265.9,355.4 265.9,356.2 266.4,356.6 265.9,357.6 266.8,359.1 265.9,360.2 265.7,360.3 264.4,360.5 264.5,359.7 263.2,359.0 262.6,358.2 262.7,356.9 261.9,356.9 260.1,357.0 259.0,358.2 259.0,358.0 258.0,356.9 256.6,355.8 256.5,355.6 256.6,355.5 257.1,354.8Z" fill="#006400" stroke="#fff" stroke-width="0.35" stroke-linejoin="round"/>
<path d="M261.9,356.9 262.7,356.9 262.6,358.2 263.2,359.0 262.7,360.0 261.5,361.1 261.5,361.2 260.1,360.4 259.1,359.1 259.0,358.2 260.1,357.0Z" fill="#006400" stroke="#fff" stroke-width="0.35" stroke-linejoin="round"/>
<path d="M263.2,359.0 264.5,359.7 264.4,360.5 265.7,360.3 265.7,361.7 267.1,362.7 267.0,364.7 266.9,364.7 264.7,363.4 262.9,362.2 261.5,361.2 261.5,361.2 261.5,361.1 262.7,360.0Z" fill="#006400" stroke="#fff" stroke-width="0.35" stroke-linejoin="round"/>
<path d="M273.0,361.3 274.0,359.4 273.7,357.6 273.6,355.5 277.3,355.3 277.7,356.3 278.0,357.6 278.2,359.2 278.2,360.5 278.4,361.6 279.1,362.3 279.1,362.5 278.9,362.6 276.8,363.3 274.7,364.1 273.3,363.7 273.2,363.7 273.7,363.0Z" fill="#3cb371" stroke="#fff" stroke-width="0.35" stroke-linejoin="round"/>
<path d="M281.2,358.3 282.5,356.6 282.5,354.5 283.2,352.8 283.3,352.0 285.1,351.5 287.1,352.7 289.3,352.6 291.4,352.3 294.8,352.6 296.4,351.7 297.1,352.5 297.7,354.8 296.6,355.5 295.8,357.4 295.2,358.8 294.4,359.1 293.9,360.9 293.2,361.7 292.1,361.0 291.5,361.2 290.4,362.0 289.8,362.7 289.3,364.2 289.2,364.4 288.6,364.5 286.5,364.8 285.1,364.1 284.4,362.6 283.0,361.9 281.2,362.0 281.2,362.0 281.3,359.9Z" fill="#228b22" stroke="#fff" stroke-width="0.35" stroke-linejoin="round"/>
<path d="M298.3,353.9 298.4,355.7 299.0,356.9 297.2,356.9 296.8,357.4 298.9,360.2 299.0,360.4 297.7,362.2 297.6,363.4 298.3,364.9 299.8,366.8 300.0,367.7 299.8,368.4 297.6,367.9 295.9,367.7 293.2,367.7 291.1,367.5 291.0,367.5 291.1,366.6 290.7,365.4 289.7,364.4 289.2,364.4 289.3,364.2 289.8,362.7 290.4,362.0 291.5,361.2 292.1,361.0 293.2,361.7 293.9,360.9 294.4,359.1 295.2,358.8 295.8,357.4 296.6,355.5 297.7,354.8 297.1,352.5 297.6,353.0ZM295.7,352.1 295.2,352.4 295.5,352.0Z" fill="#90ee90" stroke="#fff" stroke-width="0.35" stroke-linejoin="round"/>
<path d="M290.9,368.3 291.0,367.5 291.1,367.5 293.2,367.7 293.2,369.4 290.7,369.4ZM289.8,365.6 289.7,366.3 289.1,366.1 289.3,365.5Z" fill="#228b22" stroke="#fff" stroke-width="0.35" stroke-linejoin="round"/>
<path d="M293.2,367.7 295.9,367.7 295.8,369.0 297.3,368.9 297.6,369.7 296.8,370.5 297.6,371.5 297.5,373.4 297.3,374.0 295.5,374.1 294.8,373.7 293.6,374.1 294.0,375.5 292.9,376.3 292.8,376.3 292.7,376.2 291.4,374.7 290.4,373.3 289.7,371.8 290.4,370.4 290.7,369.4 293.2,369.4Z" fill="#228b22" stroke="#fff" stroke-width="0.35" stroke-linejoin="round"/>
<path d="M301.8,382.1 304.4,381.9 304.6,380.6 305.7,380.6 307.7,381.0 307.7,384.0 308.3,386.3 310.8,386.0 310.8,388.9 308.0,388.9 308.0,393.4 310.0,395.3 307.2,395.9 303.2,395.0 296.9,395.0 295.5,394.5 293.9,394.8 293.9,394.5 294.1,392.1 294.8,389.6 296.2,388.2 296.6,385.8 295.9,383.1 295.5,381.2 294.6,379.2 295.8,379.0 300.5,379.0 300.9,380.7ZM294.1,377.8 294.0,377.7 294.8,377.2 295.7,377.2 295.2,378.9 294.4,378.8Z" fill="#90ee90" stroke="#fff" stroke-width="0.35" stroke-linejoin="round"/>
<path d="M317.6,410.7 318.4,411.8 317.9,412.6 316.6,413.5 315.5,413.0 315.0,412.0 316.4,410.8Z" fill="#e2e2e2" stroke="#fff" stroke-width="0.35" stroke-linejoin="round"/>
<path d="M321.8,407.0 322.1,408.2 320.9,408.8 320.2,408.1 320.5,406.7Z" fill="#e2e2e2" stroke="#fff" stroke-width="0.35" stroke-linejoin="round"/>
<path d="M305.2,410.4 305.2,405.3 306.4,408.1 307.6,408.2 309.0,406.3 309.7,406.1 312.9,406.5 314.8,403.8 316.8,402.3 318.2,401.7 320.9,402.0 321.9,404.8 321.8,407.0 320.5,406.7 320.2,408.1 320.9,408.8 322.1,408.2 323.0,408.2 322.2,410.8 320.5,412.3 319.1,414.3 317.1,416.1 315.0,417.5 313.2,418.2 310.8,418.3 308.0,418.3 305.9,418.9 304.6,419.1 303.0,418.2 302.9,416.4 302.7,415.1 301.4,412.6 300.4,410.7 301.6,410.8ZM316.4,410.8 315.0,412.0 315.5,413.0 316.6,413.5 317.9,412.6 318.4,411.8 317.6,410.7Z" fill="#e2e2e2" stroke="#fff" stroke-width="0.35" stroke-linejoin="round"/>
<path d="M321.8,407.0 321.9,404.8 320.9,402.0 322.5,400.5 322.6,399.5 323.3,398.4 322.9,397.1 323.3,395.0 323.2,394.1 320.9,393.1 319.7,393.1 319.7,392.5 319.4,391.6 323.6,390.3 324.1,391.1 325.4,390.9 325.5,392.1 325.1,392.8 325.2,393.5 326.2,394.3 326.5,394.7 326.5,393.4 327.3,392.3 327.2,391.1 325.9,389.6 325.7,388.4 326.0,386.9 328.2,387.1 330.1,386.5 330.9,386.7 333.6,385.4 333.7,385.4 333.7,388.6 334.1,391.0 333.7,392.4 331.6,394.2 328.9,395.6 327.5,397.0 325.8,398.4 326.1,399.8 326.8,402.1 326.5,404.7 324.0,405.9 322.9,406.9 323.2,407.7 323.0,408.2 322.1,408.2Z" fill="#006400" stroke="#fff" stroke-width="0.35" stroke-linejoin="round"/>
<path d="M326.0,386.9 325.5,386.1 325.1,384.3 324.6,384.0 323.2,383.9 320.5,382.8 320.2,382.2 318.6,379.9 318.3,377.0 319.1,376.8 320.2,375.4 319.8,374.1 320.3,374.0 320.3,372.3 324.6,372.2 329.7,375.0 329.8,375.7 331.9,377.3 331.9,377.3 331.9,377.3 331.4,379.2 332.3,380.4 332.0,381.9 332.7,384.5 333.6,385.4 330.9,386.7 330.1,386.5 328.2,387.1ZM331.9,378.9 332.5,379.2 332.3,379.9 331.9,379.6Z" fill="#006400" stroke="#fff" stroke-width="0.35" stroke-linejoin="round"/>
<path d="M329.7,375.0 324.6,372.2 324.6,370.7 325.4,369.3 326.1,368.2 325.2,365.6 324.7,364.9 327.3,364.4 328.7,364.6 330.4,365.8 332.3,366.0 334.1,364.9 335.7,365.3 334.4,366.9 334.4,372.0 335.2,373.1 335.1,373.2 333.7,374.3 333.0,375.0 331.9,377.3 331.9,377.3 329.8,375.7Z" fill="#e2e2e2" stroke="#fff" stroke-width="0.35" stroke-linejoin="round"/>
<path d="M334.4,366.9 335.7,365.3 337.0,364.8 338.2,364.0 340.0,363.9 344.1,359.7 342.7,359.7 338.6,358.3 337.2,357.4 336.9,355.6 337.5,354.8 337.7,354.8 337.9,355.2 340.0,356.2 342.7,355.2 345.5,355.1 347.6,354.2 348.7,354.4 348.6,356.2 347.6,358.3 346.2,361.0 344.1,364.5 341.4,367.3 338.6,369.4 336.5,371.5 335.2,373.1 334.4,372.0Z" fill="#696969" stroke="#fff" stroke-width="0.35" stroke-linejoin="round"/>
<path d="M340.7,393.1 342.7,392.1 344.1,390.0 345.9,387.5 347.3,392.4 346.6,393.8 346.2,395.9 344.8,400.1 343.0,405.4 340.2,406.3 338.3,404.2 337.6,401.5 338.9,398.7 338.6,395.2Z" fill="#006400" stroke="#fff" stroke-width="0.35" stroke-linejoin="round"/>
<path d="M483.4,429.6 482.3,431.1 480.2,431.4 479.3,429.7 478.4,427.6 483.3,427.8ZM459.1,388.1 460.8,387.8 461.6,386.5 465.0,387.8 467.5,387.5 466.3,389.6 465.7,391.4 467.7,392.8 470.5,394.2 472.6,395.2 474.0,392.4 474.1,389.6 474.7,386.1 474.5,387.5 476.4,387.5 476.8,388.2 477.0,390.7 479.3,391.7 480.2,395.2 480.7,397.3 483.0,398.7 485.1,401.2 486.9,403.1 489.3,405.4 490.2,407.7 490.8,410.5 490.0,413.7 489.3,416.1 487.6,417.9 486.5,420.3 485.8,422.6 483.4,423.5 480.9,425.1 478.8,424.2 476.8,424.9 474.0,424.2 471.9,423.0 471.2,421.0 469.1,420.5 469.8,419.1 468.8,417.1 468.8,416.5 468.2,418.2 467.7,419.8 466.3,419.3 465.2,418.9 464.3,417.1 462.9,415.5 460.1,414.7 456.6,415.0 453.2,415.7 449.7,416.8 449.0,418.0 445.5,417.9 443.4,418.6 441.3,419.6 438.6,419.3 437.3,418.6 438.0,416.8 438.2,415.0 437.2,412.6 436.1,409.1 435.1,407.0 435.0,404.9 435.4,402.4 436.1,401.5 438.6,399.8 442.0,399.1 445.5,398.1 447.3,395.9 447.2,394.5 449.0,394.9 449.4,393.4 451.1,391.7 452.5,390.3 454.5,390.3 455.5,391.6 457.3,391.6 458.0,389.3ZM461.4,386.8 462.4,386.8 461.6,386.5Z" fill="#90ee90" stroke="#fff" stroke-width="0.35" stroke-linejoin="round"/>
<path d="M517.3,427.2 519.5,428.3 518.8,429.7 517.5,431.5 515.4,432.5 514.7,434.6 512.2,435.7 510.1,435.3 508.7,434.6 511.1,432.4 514.3,430.7 515.6,429.0 516.6,427.6ZM520.2,423.0 519.5,421.7 517.7,419.6 517.3,418.7 519.1,420.3 521.2,421.7 521.9,423.2 525.1,423.2 524.7,424.7 523.3,425.7 523.1,426.9 520.9,428.8 520.1,428.3 520.8,426.8 518.8,425.7 520.0,424.9Z" fill="#90ee90" stroke="#fff" stroke-width="0.35" stroke-linejoin="round"/>
<path d="M265.4,332.8 270.8,336.0 279.1,341.4 280.0,342.5 281.9,343.2 282.1,344.3 283.4,344.1 285.5,343.6 287.9,341.7 294.1,338.0M270.8,336.0 269.7,347.8 270.1,349.2 264.6,349.2 262.3,349.8 261.5,349.1 260.5,350.2M283.4,344.1 283.3,347.3 282.3,349.3 279.3,349.5 277.7,349.9 277.8,350.0 274.7,351.0 272.7,352.4 271.5,352.4 271.4,353.7 270.1,354.6 269.8,356.2 268.9,356.0 266.5,356.6 266.4,356.6M277.8,350.0 279.0,352.3 280.5,353.5 280.8,354.2 282.5,354.5M269.8,356.2 270.9,357.1 273.6,357.3 273.7,357.6M277.3,355.3 278.7,355.5 279.4,354.8 280.8,354.2M278.7,355.5 279.8,358.3 279.8,362.2M296.4,351.7 296.2,350.6 299.0,347.3 299.6,342.4 298.3,338.8M310.8,343.6 310.8,348.9 309.3,348.9 308.7,351.2 308.3,353.1 309.3,355.5 307.6,356.0 305.8,358.1 303.9,358.3 303.7,358.6 301.9,359.8 299.0,360.4M331.0,345.7 328.9,347.0 328.7,348.2 328.1,350.9 327.7,353.1 326.2,354.4 326.0,355.7 325.1,356.2 324.8,357.6 324.6,356.6 323.6,355.9 323.4,353.8 322.3,354.1 320.8,357.1 318.4,357.1 316.4,357.8 314.4,357.6 312.3,356.4 311.8,357.1 310.1,358.7 309.3,355.5M324.8,357.6 324.8,358.8 323.3,359.9 325.7,361.5 326.5,363.3 327.3,364.4M324.7,364.9 323.3,365.4 322.2,365.9 320.3,365.9 318.4,364.4 315.6,363.8 312.6,360.6 310.1,358.7M315.6,363.8 312.2,363.8 309.3,364.1 308.6,365.1 306.1,364.7 304.6,363.7 303.3,364.8 303.3,365.9 300.5,365.9 300.0,367.7M303.3,365.9 302.5,367.3 302.2,370.4 300.0,373.9 299.6,376.2 297.5,377.6 296.1,377.6 295.7,377.2M320.3,365.9 320.2,367.5 320.9,367.8 319.1,369.7 318.6,371.6 318.6,372.8 317.7,374.6 318.1,376.9 318.3,377.0M318.6,372.8 319.8,372.3M317.7,374.6 319.8,374.1M320.2,382.2 317.6,382.6 316.9,383.8 317.3,385.7 316.9,387.2 318.9,387.7 318.9,389.5 317.7,389.5 316.9,388.2 315.2,387.0 312.6,386.4 311.4,386.3 310.8,386.0M323.2,383.9 323.7,385.8 322.9,389.7 323.6,390.3M319.7,392.5 317.6,393.1 315.0,395.8 312.5,395.6 310.0,395.3M312.5,395.6 313.9,398.0 315.9,399.4 315.9,400.2 318.2,401.7M312.5,395.6 310.0,395.9 306.6,396.3 306.6,401.5 305.2,401.5 305.2,405.3M328.1,350.9 330.1,350.0 331.8,350.5 333.3,350.7 336.4,353.4 335.5,355.5 337.0,355.5M336.4,353.4 337.4,353.1M324.7,364.9 327.3,364.4 328.7,364.6 330.4,365.8 332.3,366.0 334.1,364.9 335.7,365.3M324.6,372.2 324.6,370.7 325.4,369.3 326.1,368.2 325.2,365.6 324.7,364.9M254.6,348.4 255.9,347.7 257.5,347.6 258.7,348.4 259.7,349.6 260.5,350.2 260.5,350.7 261.6,352.8 261.6,353.5M336.3,319.1 334.8,320.1 334.4,322.9 331.4,324.3 331.9,326.0M331.4,324.3 328.6,325.8 327.1,325.2 326.8,326.9 326.1,329.6M327.1,325.2 327.3,324.4 328.3,323.1 327.5,322.5M326.2,324.7 327.3,324.4M342.1,330.3 343.2,328.9 344.1,329.0 344.9,329.1M362.5,321.2 364.5,321.7 367.0,320.2 369.8,318.8 371.6,319.0 373.7,319.1 374.9,318.5 375.2,317.7 376.6,317.5 376.8,318.0 376.7,319.6 378.3,319.2 379.3,318.6 381.5,318.9M369.8,318.8 368.6,317.4 366.6,316.5 364.1,315.1 363.4,313.5 360.9,313.1 360.8,312.0 358.9,311.2 357.7,312.0 356.6,313.3 355.2,313.3M371.6,319.0 372.3,317.4 371.2,315.8 372.7,315.6 372.9,314.8 375.4,313.7 375.5,314.8M376.0,311.9 375.0,313.0 376.9,313.0 379.0,313.9 377.0,314.9 375.5,314.8 373.7,315.2 373.7,315.8 377.2,316.0 379.7,315.9M337.8,313.5 340.0,313.3 341.9,312.4M340.0,313.3 340.7,314.2 342.0,315.8 342.1,316.6M311.3,290.2 313.0,290.0 315.5,290.6M306.7,292.7 309.3,292.2 312.1,292.2 314.4,293.2 316.6,292.6M314.4,293.2 313.3,294.3 312.9,295.1 310.1,295.6 309.1,295.1M310.1,295.6 310.7,297.4 309.7,297.9 310.2,299.0 310.9,300.4 308.9,301.8 308.8,302.4 305.4,302.2 303.6,301.8 302.1,300.7 300.0,300.2 298.0,300.0M296.6,302.9 298.3,302.5 301.0,303.1 303.6,301.8M290.7,304.5 290.8,305.2 292.0,305.5M296.5,306.0 299.8,305.5 301.3,303.9 301.0,303.1M301.3,303.9 303.6,304.2 305.9,303.2 308.2,303.4 308.8,302.4M308.2,303.4 309.3,303.9 306.9,306.2 305.6,306.6 303.7,306.8 301.5,306.7 300.4,306.0 299.8,305.5M296.4,307.5 298.7,307.5 299.2,306.4 300.4,306.0M303.7,306.8 303.9,308.2 304.4,310.1 303.2,311.6M299.3,307.8 300.1,309.2 301.9,310.7 303.2,311.6M299.3,307.8 301.1,307.8 303.9,308.2M309.3,303.9 312.1,304.3 314.4,303.6 316.6,307.5 318.4,307.8M314.4,303.6 317.9,304.0 319.3,306.2 316.6,307.5M305.6,306.6 307.2,308.3 308.9,309.2 309.4,309.8 312.9,310.0 315.1,309.4 317.1,309.8M308.9,309.2 308.6,311.2 308.5,311.9 309.3,313.2M308.5,311.9 307.3,311.9 306.1,312.3 305.9,313.3 306.6,313.9M306.1,312.3 304.4,312.4M304.4,310.1 305.7,311.2 306.1,312.3M310.2,299.0 312.2,298.5 316.4,298.9 319.8,299.3 321.6,298.2M285.9,306.2 285.8,306.5 286.9,306.2 287.3,306.8 288.4,306.8 289.2,306.1 290.0,306.9 290.4,306.0 291.5,305.9 292.0,305.5M288.0,304.5 289.4,304.2 290.7,304.5" fill="none" stroke="#fff" stroke-width="0.4" stroke-linejoin="round"/>
<path d="M343.4,307.1 345.5,306.0 348.3,305.5 350.4,305.5 351.1,306.0 351.1,307.7 348.7,308.1 347.6,308.8 348.3,310.5 350.4,311.6 350.8,313.0 352.2,313.7 351.1,315.1 351.8,316.5 352.2,319.0 349.7,319.5 347.3,318.8 345.5,318.4 345.4,317.2 345.9,315.8 347.2,314.7 346.2,314.0 344.8,312.3 343.4,310.9 343.2,309.5 342.5,308.5Z" fill="#e2e2e2" stroke="#eee" stroke-width="0.35"/>
<path d="M174.4,431.1 174.0,433.5 172.8,436.0 172.6,438.8 173.3,441.3 174.3,443.3 175.8,445.1 177.8,446.6 180.3,447.7" fill="none" stroke="#3c3c28" stroke-opacity="0.55" stroke-width="1.1" stroke-dasharray="1.4,0.9"/>
<text x="27.5" y="270.2" font-size="7.9" text-anchor="middle" fill="#111" stroke="#111" stroke-width="0.18">180°W</text>
<text x="69.2" y="270.2" font-size="7.9" text-anchor="middle" fill="#111" stroke="#111" stroke-width="0.18">150°W</text>
<text x="110.8" y="270.2" font-size="7.9" text-anchor="middle" fill="#111" stroke="#111" stroke-width="0.18">120°W</text>
<text x="152.5" y="270.2" font-size="7.9" text-anchor="middle" fill="#111" stroke="#111" stroke-width="0.18">90°W</text>
<text x="194.1" y="270.2" font-size="7.9" text-anchor="middle" fill="#111" stroke="#111" stroke-width="0.18">60°W</text>
<text x="235.8" y="270.2" font-size="7.9" text-anchor="middle" fill="#111" stroke="#111" stroke-width="0.18">30°W</text>
<text x="277.5" y="270.2" font-size="7.9" text-anchor="middle" fill="#111" stroke="#111" stroke-width="0.18">0°</text>
<text x="319.1" y="270.2" font-size="7.9" text-anchor="middle" fill="#111" stroke="#111" stroke-width="0.18">30°E</text>
<text x="360.8" y="270.2" font-size="7.9" text-anchor="middle" fill="#111" stroke="#111" stroke-width="0.18">60°E</text>
<text x="402.5" y="270.2" font-size="7.9" text-anchor="middle" fill="#111" stroke="#111" stroke-width="0.18">90°E</text>
<text x="444.1" y="270.2" font-size="7.9" text-anchor="middle" fill="#111" stroke="#111" stroke-width="0.18">120°E</text>
<text x="485.8" y="270.2" font-size="7.9" text-anchor="middle" fill="#111" stroke="#111" stroke-width="0.18">150°E</text>
<text x="527.5" y="270.2" font-size="7.9" text-anchor="middle" fill="#111" stroke="#111" stroke-width="0.18">180°E</text>
<text x="19.4" y="457.0" font-size="7.9" text-anchor="end" fill="#111" stroke="#111" stroke-width="0.18">60°S</text>
<text x="19.4" y="429.1" font-size="7.9" text-anchor="end" fill="#111" stroke="#111" stroke-width="0.18">40°S</text>
<text x="19.4" y="401.3" font-size="7.9" text-anchor="end" fill="#111" stroke="#111" stroke-width="0.18">20°S</text>
<text x="19.4" y="373.4" font-size="7.9" text-anchor="end" fill="#111" stroke="#111" stroke-width="0.18">0°</text>
<text x="19.4" y="345.5" font-size="7.9" text-anchor="end" fill="#111" stroke="#111" stroke-width="0.18">20°N</text>
<text x="19.4" y="317.7" font-size="7.9" text-anchor="end" fill="#111" stroke="#111" stroke-width="0.18">40°N</text>
<text x="19.4" y="289.8" font-size="7.9" text-anchor="end" fill="#111" stroke="#111" stroke-width="0.18">60°N</text>
</g>
<text x="72.4" y="51.0" font-size="10" text-anchor="middle" fill="#000" stroke="#000" stroke-width="0.18" font-weight="bold">a</text>
<text x="72.6" y="314.8" font-size="10" text-anchor="middle" fill="#000" stroke="#000" stroke-width="0.18" font-weight="bold">b</text>
<text x="209.5" y="119.8" font-size="7.3" text-anchor="middle" fill="#fff" stroke="#fff" stroke-width="0.05">BRA</text><text x="209.5" y="128.5" font-size="7.3" text-anchor="middle" fill="#fff" stroke="#fff" stroke-width="0.05">11 B$</text>
<text x="402.8" y="63.0" font-size="7.3" text-anchor="middle" fill="#fff" stroke="#fff" stroke-width="0.05">BGD</text><text x="402.8" y="71.8" font-size="7.3" text-anchor="middle" fill="#fff" stroke="#fff" stroke-width="0.05">14 B$</text>
<text x="430.3" y="60.5" font-size="7.3" text-anchor="middle" fill="#fff" stroke="#fff" stroke-width="0.05">CHN</text><text x="430.3" y="68.9" font-size="7.3" text-anchor="middle" fill="#fff" stroke="#fff" stroke-width="0.05">21 B$</text>
<text x="468.7" y="73.6" font-size="7.3" text-anchor="middle" fill="#000" stroke="#000" stroke-width="0.18">VNM</text><text x="468.7" y="82.4" font-size="7.3" text-anchor="middle" fill="#000" stroke="#000" stroke-width="0.18">10 B$</text>
<text x="466.5" y="93.6" font-size="7.3" text-anchor="middle" fill="#000" stroke="#000" stroke-width="0.18">PHL</text><text x="466.5" y="101.8" font-size="7.3" text-anchor="middle" fill="#000" stroke="#000" stroke-width="0.18">18 B$</text>
<text x="497.4" y="99.9" font-size="7.3" text-anchor="middle" fill="#000" stroke="#000" stroke-width="0.18">PNG</text><text x="497.4" y="108.0" font-size="7.3" text-anchor="middle" fill="#000" stroke="#000" stroke-width="0.18">9 B$</text>
<text x="400.4" y="91.9" font-size="7.3" text-anchor="middle" fill="#000" stroke="#000" stroke-width="0.18">MMR</text><text x="400.4" y="100.3" font-size="7.3" text-anchor="middle" fill="#000" stroke="#000" stroke-width="0.18">43 B$</text>
<text x="368.0" y="82.7" font-size="7.3" text-anchor="middle" fill="#000" stroke="#000" stroke-width="0.18">IND</text><text x="368.0" y="91.2" font-size="7.3" text-anchor="middle" fill="#000" stroke="#000" stroke-width="0.18">17 B$</text>
<text x="416.4" y="122.6" font-size="7.3" text-anchor="middle" fill="#000" stroke="#000" stroke-width="0.18">IDN</text><text x="416.4" y="130.9" font-size="7.3" text-anchor="middle" fill="#000" stroke="#000" stroke-width="0.18">57 B$</text>
<text x="358.7" y="131.2" font-size="7.3" text-anchor="middle" fill="#000" stroke="#000" stroke-width="0.18">MDG</text><text x="358.7" y="140.1" font-size="7.3" text-anchor="middle" fill="#000" stroke="#000" stroke-width="0.18">11 B$</text>
<path d="M451.9,78.7L428.6,83.2" stroke="#111" stroke-width="0.7"/>
<path d="M165.2,220.8L206.2,217.3L206.2,224.2Z" fill="#ffffe0"/>
<rect x="206.2" y="217.3" width="35.8" height="6.9" fill="#ffeea4"/>
<rect x="241.8" y="217.3" width="35.9" height="6.9" fill="#fdcb6e"/>
<rect x="277.5" y="217.3" width="35.9" height="6.9" fill="#ffa500"/>
<rect x="313.2" y="217.3" width="35.9" height="6.9" fill="#ff4500"/>
<path d="M389.8,220.8L348.9,217.3L348.9,224.2Z" fill="#b22222"/>
<path d="M165.2,220.8L206.2,217.3L348.9,217.3L389.8,220.8L348.9,224.2L206.2,224.2Z" fill="none" stroke="#000" stroke-width="0.9" stroke-linejoin="miter"/>
<path d="M206.2,224.2v2.8" stroke="#000" stroke-width="0.7"/>
<text x="206.2" y="240.9" font-size="9.5" text-anchor="middle" fill="#000" stroke="#000" stroke-width="0.18">0.1</text>
<path d="M241.8,224.2v2.8" stroke="#000" stroke-width="0.7"/>
<text x="241.8" y="240.9" font-size="9.5" text-anchor="middle" fill="#000" stroke="#000" stroke-width="0.18">0.5</text>
<path d="M277.5,224.2v2.8" stroke="#000" stroke-width="0.7"/>
<text x="277.5" y="240.9" font-size="9.5" text-anchor="middle" fill="#000" stroke="#000" stroke-width="0.18">1.0</text>
<path d="M313.2,224.2v2.8" stroke="#000" stroke-width="0.7"/>
<text x="313.2" y="240.9" font-size="9.5" text-anchor="middle" fill="#000" stroke="#000" stroke-width="0.18">2.5</text>
<path d="M348.9,224.2v2.8" stroke="#000" stroke-width="0.7"/>
<text x="348.9" y="240.9" font-size="9.5" text-anchor="middle" fill="#000" stroke="#000" stroke-width="0.18">4.5</text>
<text x="277.3" y="207.6" font-size="10.1" text-anchor="middle" stroke="#000" stroke-width="0.15">Levee cost reduction [billion USD<tspan font-size="7" dy="2.2">2005</tspan><tspan dy="-2.2"> PPP]</tspan></text>
<text x="610.2" y="15.6" font-size="8.05" text-anchor="end" fill="#000" stroke="#000" stroke-width="0.18">Indonesia</text>
<path d="M615.5,12.6H620.5" stroke="#111" stroke-width="0.8"/>
<rect x="620.5" y="8.1" width="19.3" height="9.0" fill="#ffd700"/>
<text x="641.5" y="13.6" font-size="7.8" text-anchor="start" fill="#000" stroke="#000" stroke-width="0.18">57.0</text>
<text x="610.2" y="33.6" font-size="8.05" text-anchor="end" fill="#000" stroke="#000" stroke-width="0.18">Myanmar</text>
<path d="M615.5,30.6H620.5" stroke="#111" stroke-width="0.8"/>
<rect x="620.5" y="26.1" width="14.7" height="9.0" fill="#ffd700"/>
<text x="636.9" y="31.7" font-size="7.8" text-anchor="start" fill="#000" stroke="#000" stroke-width="0.18">43.4</text>
<text x="610.2" y="51.6" font-size="8.05" text-anchor="end" fill="#000" stroke="#000" stroke-width="0.18">China</text>
<path d="M615.5,48.7H620.5" stroke="#111" stroke-width="0.8"/>
<rect x="620.5" y="44.2" width="7.1" height="9.0" fill="#ffd700"/>
<text x="629.3" y="49.7" font-size="7.8" text-anchor="start" fill="#000" stroke="#000" stroke-width="0.18">20.8</text>
<text x="610.2" y="69.7" font-size="8.05" text-anchor="end" fill="#000" stroke="#000" stroke-width="0.18">Philippines</text>
<path d="M615.5,66.7H620.5" stroke="#111" stroke-width="0.8"/>
<rect x="620.5" y="62.2" width="6.0" height="9.0" fill="#ffd700"/>
<text x="628.2" y="67.8" font-size="7.8" text-anchor="start" fill="#000" stroke="#000" stroke-width="0.18">17.8</text>
<text x="610.2" y="87.7" font-size="8.05" text-anchor="end" fill="#000" stroke="#000" stroke-width="0.18">India</text>
<path d="M615.5,84.8H620.5" stroke="#111" stroke-width="0.8"/>
<rect x="620.5" y="80.3" width="5.9" height="9.0" fill="#ffd700"/>
<text x="628.1" y="85.8" font-size="7.8" text-anchor="start" fill="#000" stroke="#000" stroke-width="0.18">17.4</text>
<text x="610.2" y="105.7" font-size="8.05" text-anchor="end" fill="#000" stroke="#000" stroke-width="0.18">Brazil</text>
<path d="M615.5,102.8H620.5" stroke="#111" stroke-width="0.8"/>
<rect x="620.5" y="98.3" width="3.9" height="9.0" fill="#ffd700"/>
<text x="626.1" y="103.8" font-size="7.8" text-anchor="start" fill="#000" stroke="#000" stroke-width="0.18">11.4</text>
<text x="610.2" y="123.8" font-size="8.05" text-anchor="end" fill="#000" stroke="#000" stroke-width="0.18">Bangladesh</text>
<path d="M615.5,120.8H620.5" stroke="#111" stroke-width="0.8"/>
<rect x="620.5" y="116.3" width="3.7" height="9.0" fill="#ffd700"/>
<text x="625.9" y="121.9" font-size="7.8" text-anchor="start" fill="#000" stroke="#000" stroke-width="0.18">11.0</text>
<text x="610.2" y="141.8" font-size="8.05" text-anchor="end" fill="#000" stroke="#000" stroke-width="0.18">Madagascar</text>
<path d="M615.5,138.9H620.5" stroke="#111" stroke-width="0.8"/>
<rect x="620.5" y="134.4" width="3.6" height="9.0" fill="#ffd700"/>
<text x="625.8" y="139.9" font-size="7.8" text-anchor="start" fill="#000" stroke="#000" stroke-width="0.18">10.7</text>
<text x="610.2" y="159.9" font-size="8.05" text-anchor="end" fill="#000" stroke="#000" stroke-width="0.18">Vietnam</text>
<path d="M615.5,156.9H620.5" stroke="#111" stroke-width="0.8"/>
<rect x="620.5" y="152.4" width="3.3" height="9.0" fill="#ffd700"/>
<text x="625.5" y="158.0" font-size="7.8" text-anchor="start" fill="#000" stroke="#000" stroke-width="0.18">9.8</text>
<text x="610.2" y="177.9" font-size="8.05" text-anchor="end" fill="#000" stroke="#000" stroke-width="0.18">Papua New Guinea</text>
<path d="M615.5,175.0H620.5" stroke="#111" stroke-width="0.8"/>
<rect x="620.5" y="170.5" width="3.2" height="9.0" fill="#ffd700"/>
<text x="625.4" y="176.0" font-size="7.8" text-anchor="start" fill="#000" stroke="#000" stroke-width="0.18">9.3</text>
<text x="610.2" y="195.9" font-size="8.05" text-anchor="end" fill="#000" stroke="#000" stroke-width="0.18">Rest of the World</text>
<path d="M615.5,193.0H620.5" stroke="#111" stroke-width="0.8"/>
<rect x="620.5" y="188.5" width="37.8" height="9.0" fill="#ffd700"/>
<text x="660.0" y="194.0" font-size="7.8" text-anchor="start" fill="#000" stroke="#000" stroke-width="0.18">111.5</text>
<path d="M620.5,202.2v4.7" stroke="#111" stroke-width="0.9"/>
<text x="620.5" y="219.7" font-size="9.5" text-anchor="middle" fill="#000" stroke="#000" stroke-width="0.18">0</text>
<path d="M654.3,202.2v4.7" stroke="#111" stroke-width="0.9"/>
<text x="654.3" y="219.7" font-size="9.5" text-anchor="middle" fill="#000" stroke="#000" stroke-width="0.18">100</text>
<path d="M253.8,352.6 253.8,356.1 256.0,356.1 256.0,361.0 258.5,361.0 258.5,361.7 261.0,361.7 261.0,365.2 267.6,365.2 267.6,358.5 267.3,358.5 267.3,352.7 258.9,352.7 258.9,352.6Z" fill="#ffa500" fill-opacity="0.22" stroke="#b0b0b0" stroke-width="1.0"/>
<rect x="196.4" y="362.0" width="6.6" height="6.8" fill="#ffa500" fill-opacity="0.22" stroke="#b0b0b0" stroke-width="1.0"/>
<rect x="318.9" y="384.9" width="15.7" height="23.8" fill="#ffa500" fill-opacity="0.22" stroke="#b0b0b0" stroke-width="1.0"/>
<rect x="337.1" y="387.0" width="10.7" height="19.8" fill="#ffa500" fill-opacity="0.22" stroke="#b0b0b0" stroke-width="1.0"/>
<rect x="405.1" y="331.0" width="13.3" height="26.5" fill="#ffa500" fill-opacity="0.22" stroke="#b0b0b0" stroke-width="1.0"/>
<rect x="493.4" y="376.6" width="20.9" height="10.9" fill="#ffa500" fill-opacity="0.22" stroke="#b0b0b0" stroke-width="1.0"/>
<rect x="522.0" y="385.4" width="13.0" height="14.5" fill="#ffa500" fill-opacity="0.22" stroke="#bf4a45" stroke-width="1.1" clip-path="url(#clipb)"/>
<rect x="27.6" y="390.4" width="3.9" height="11.0" fill="#ffa500" fill-opacity="0.22" stroke="#bf4a45" stroke-width="1.0"/>
<path d="M340.7,393.1 342.7,392.1 344.1,390.0 345.9,387.5 347.3,392.4 346.6,393.8 346.2,395.9 344.8,400.1 343.0,405.4 340.2,406.3 338.3,404.2 337.6,401.5 338.9,398.7 338.6,395.2Z" fill="#006400" stroke="#fff" stroke-width="0.3"/>
<text x="213.3" y="359.9" font-size="7.3" text-anchor="middle" fill="#000" stroke="#000" stroke-width="0.18">SUR</text><text x="213.3" y="368.7" font-size="7.3" text-anchor="middle" fill="#000" stroke="#000" stroke-width="0.18">12 %</text>
<text x="242.7" y="347.6" font-size="7.3" text-anchor="middle" fill="#000" stroke="#000" stroke-width="0.18">GNB</text><text x="242.7" y="356.1" font-size="7.3" text-anchor="middle" fill="#000" stroke="#000" stroke-width="0.18">278 %</text>
<text x="272.2" y="346.9" font-size="7.3" text-anchor="middle" fill="#000" stroke="#000" stroke-width="0.18">SLE</text><text x="272.2" y="355.3" font-size="7.3" text-anchor="middle" fill="#000" stroke="#000" stroke-width="0.18">18 %</text>
<text x="249.5" y="365.1" font-size="7.3" text-anchor="middle" fill="#000" stroke="#000" stroke-width="0.18">GIN</text><text x="249.5" y="373.5" font-size="7.3" text-anchor="middle" fill="#000" stroke="#000" stroke-width="0.18">38 %</text>
<text x="271.5" y="371.9" font-size="7.3" text-anchor="middle" fill="#000" stroke="#000" stroke-width="0.18">LBR</text><text x="271.5" y="380.6" font-size="7.3" text-anchor="middle" fill="#000" stroke="#000" stroke-width="0.18">20 %</text>
<text x="329.3" y="416.0" font-size="7.3" text-anchor="middle" fill="#000" stroke="#000" stroke-width="0.18">MOZ</text><text x="329.3" y="424.7" font-size="7.3" text-anchor="middle" fill="#000" stroke="#000" stroke-width="0.18">11 %</text>
<text x="360.0" y="395.5" font-size="7.3" text-anchor="middle" fill="#000" stroke="#000" stroke-width="0.18">MDG</text><text x="360.0" y="403.8" font-size="7.3" text-anchor="middle" fill="#000" stroke="#000" stroke-width="0.18">32 %</text>
<text x="518.5" y="372.5" font-size="7.3" text-anchor="middle" fill="#000" stroke="#000" stroke-width="0.18">SLB</text><text x="518.5" y="381.2" font-size="7.3" text-anchor="middle" fill="#000" stroke="#000" stroke-width="0.18">23 %</text>
<text x="43.8" y="396.8" font-size="7.2" text-anchor="middle" fill="#000" stroke="#000" stroke-width="0.18">FJI</text><text x="43.8" y="405.9" font-size="7.2" text-anchor="middle" fill="#000" stroke="#000" stroke-width="0.18">13 %</text>
<text x="400.5" y="366.3" font-size="7.3" text-anchor="middle" fill="#000" stroke="#000" stroke-width="0.18">MMR</text><text x="400.5" y="374.9" font-size="7.3" text-anchor="middle" fill="#000" stroke="#000" stroke-width="0.18">20 %</text>
<rect x="43.5" y="438.6" width="21.4" height="8" fill="#696969"/>
<text x="72.9" y="446.4" font-size="10" text-anchor="start" fill="#000" stroke="#000" stroke-width="0.18">GDP unknown</text>
<path d="M169.4,484.9L212.3,481.6L212.3,488.2Z" fill="#b7ceb1"/>
<rect x="212.3" y="481.6" width="43.6" height="6.6" fill="#90ee90"/>
<rect x="255.7" y="481.6" width="43.6" height="6.6" fill="#3cb371"/>
<rect x="299.1" y="481.6" width="43.1" height="6.6" fill="#228b22"/>
<path d="M384.9,484.9L342.0,481.6L342.0,488.2Z" fill="#006400"/>
<path d="M169.4,484.9L212.3,481.6L342.0,481.6L384.9,484.9L342.0,488.2L212.3,488.2Z" fill="none" stroke="#000" stroke-width="0.9" stroke-linejoin="miter"/>
<path d="M212.3,488.2v2.8" stroke="#000" stroke-width="0.7"/>
<text x="212.3" y="504.0" font-size="9.5" text-anchor="middle" fill="#000" stroke="#000" stroke-width="0.18">0.05</text>
<path d="M255.7,488.2v2.8" stroke="#000" stroke-width="0.7"/>
<text x="255.7" y="504.0" font-size="9.5" text-anchor="middle" fill="#000" stroke="#000" stroke-width="0.18">0.25</text>
<path d="M299.1,488.2v2.8" stroke="#000" stroke-width="0.7"/>
<text x="299.1" y="504.0" font-size="9.5" text-anchor="middle" fill="#000" stroke="#000" stroke-width="0.18">0.50</text>
<path d="M342.0,488.2v2.8" stroke="#000" stroke-width="0.7"/>
<text x="342.0" y="504.0" font-size="9.5" text-anchor="middle" fill="#000" stroke="#000" stroke-width="0.18">2.00</text>
<text x="277.3" y="470.8" font-size="10.1" text-anchor="middle" stroke="#000" stroke-width="0.15">Levee cost reduction as percentage of GDP<tspan font-size="7" dy="2.2">2005</tspan><tspan dy="-2.2"> [%]</tspan></text>
<text x="610.2" y="280.4" font-size="8.05" text-anchor="end" fill="#000" stroke="#000" stroke-width="0.18">Guinea-Bissau</text>
<path d="M615.5,277.5H620.5" stroke="#111" stroke-width="0.8"/>
<rect x="620.5" y="272.6" width="37.5" height="9.8" fill="#ffd700"/>
<text x="659.7" y="278.6" font-size="7.8" text-anchor="start" fill="#000" stroke="#000" stroke-width="0.18">278 %</text>
<text x="610.2" y="300.3" font-size="8.05" text-anchor="end" fill="#000" stroke="#000" stroke-width="0.18">Guinea</text>
<path d="M615.5,297.3H620.5" stroke="#111" stroke-width="0.8"/>
<rect x="620.5" y="292.4" width="5.1" height="9.8" fill="#ffd700"/>
<text x="627.3" y="298.4" font-size="7.8" text-anchor="start" fill="#000" stroke="#000" stroke-width="0.18">38 %</text>
<text x="610.2" y="320.1" font-size="8.05" text-anchor="end" fill="#000" stroke="#000" stroke-width="0.18">Madagascar</text>
<path d="M615.5,317.1H620.5" stroke="#111" stroke-width="0.8"/>
<rect x="620.5" y="312.2" width="4.3" height="9.8" fill="#ffd700"/>
<text x="626.5" y="318.2" font-size="7.8" text-anchor="start" fill="#000" stroke="#000" stroke-width="0.18">32 %</text>
<text x="610.2" y="339.9" font-size="8.05" text-anchor="end" fill="#000" stroke="#000" stroke-width="0.18">Solomon Islands</text>
<path d="M615.5,336.9H620.5" stroke="#111" stroke-width="0.8"/>
<rect x="620.5" y="332.0" width="3.1" height="9.8" fill="#ffd700"/>
<text x="625.3" y="338.0" font-size="7.8" text-anchor="start" fill="#000" stroke="#000" stroke-width="0.18">23 %</text>
<text x="610.2" y="359.7" font-size="8.05" text-anchor="end" fill="#000" stroke="#000" stroke-width="0.18">Liberia</text>
<path d="M615.5,356.7H620.5" stroke="#111" stroke-width="0.8"/>
<rect x="620.5" y="351.8" width="2.7" height="9.8" fill="#ffd700"/>
<text x="624.9" y="357.8" font-size="7.8" text-anchor="start" fill="#000" stroke="#000" stroke-width="0.18">20 %</text>
<text x="610.2" y="379.5" font-size="8.05" text-anchor="end" fill="#000" stroke="#000" stroke-width="0.18">Myanmar</text>
<path d="M615.5,376.6H620.5" stroke="#111" stroke-width="0.8"/>
<rect x="620.5" y="371.7" width="2.7" height="9.8" fill="#ffd700"/>
<text x="624.9" y="377.6" font-size="7.8" text-anchor="start" fill="#000" stroke="#000" stroke-width="0.18">20 %</text>
<text x="610.2" y="399.3" font-size="8.05" text-anchor="end" fill="#000" stroke="#000" stroke-width="0.18">Sierra Leone</text>
<path d="M615.5,396.4H620.5" stroke="#111" stroke-width="0.8"/>
<rect x="620.5" y="391.5" width="2.4" height="9.8" fill="#ffd700"/>
<text x="624.6" y="397.4" font-size="7.8" text-anchor="start" fill="#000" stroke="#000" stroke-width="0.18">18 %</text>
<text x="610.2" y="419.1" font-size="8.05" text-anchor="end" fill="#000" stroke="#000" stroke-width="0.18">Fiji</text>
<path d="M615.5,416.2H620.5" stroke="#111" stroke-width="0.8"/>
<rect x="620.5" y="411.3" width="1.8" height="9.8" fill="#ffd700"/>
<text x="624.0" y="417.2" font-size="7.8" text-anchor="start" fill="#000" stroke="#000" stroke-width="0.18">13 %</text>
<text x="610.2" y="438.9" font-size="8.05" text-anchor="end" fill="#000" stroke="#000" stroke-width="0.18">Suriname</text>
<path d="M615.5,436.0H620.5" stroke="#111" stroke-width="0.8"/>
<rect x="620.5" y="431.1" width="1.6" height="9.8" fill="#ffd700"/>
<text x="623.8" y="437.0" font-size="7.8" text-anchor="start" fill="#000" stroke="#000" stroke-width="0.18">12 %</text>
<text x="610.2" y="458.7" font-size="8.05" text-anchor="end" fill="#000" stroke="#000" stroke-width="0.18">Mozambique</text>
<path d="M615.5,455.8H620.5" stroke="#111" stroke-width="0.8"/>
<rect x="620.5" y="450.9" width="1.5" height="9.8" fill="#ffd700"/>
<text x="623.7" y="456.8" font-size="7.8" text-anchor="start" fill="#000" stroke="#000" stroke-width="0.18">11 %</text>
<path d="M620.5,466.0v4.7" stroke="#111" stroke-width="0.9"/>
<text x="620.5" y="483.5" font-size="9.5" text-anchor="middle" fill="#000" stroke="#000" stroke-width="0.18">0</text>
<path d="M654.2,466.0v4.7" stroke="#111" stroke-width="0.9"/>
<text x="654.2" y="483.5" font-size="9.5" text-anchor="middle" fill="#000" stroke="#000" stroke-width="0.18">250</text>
</svg></body></html>
